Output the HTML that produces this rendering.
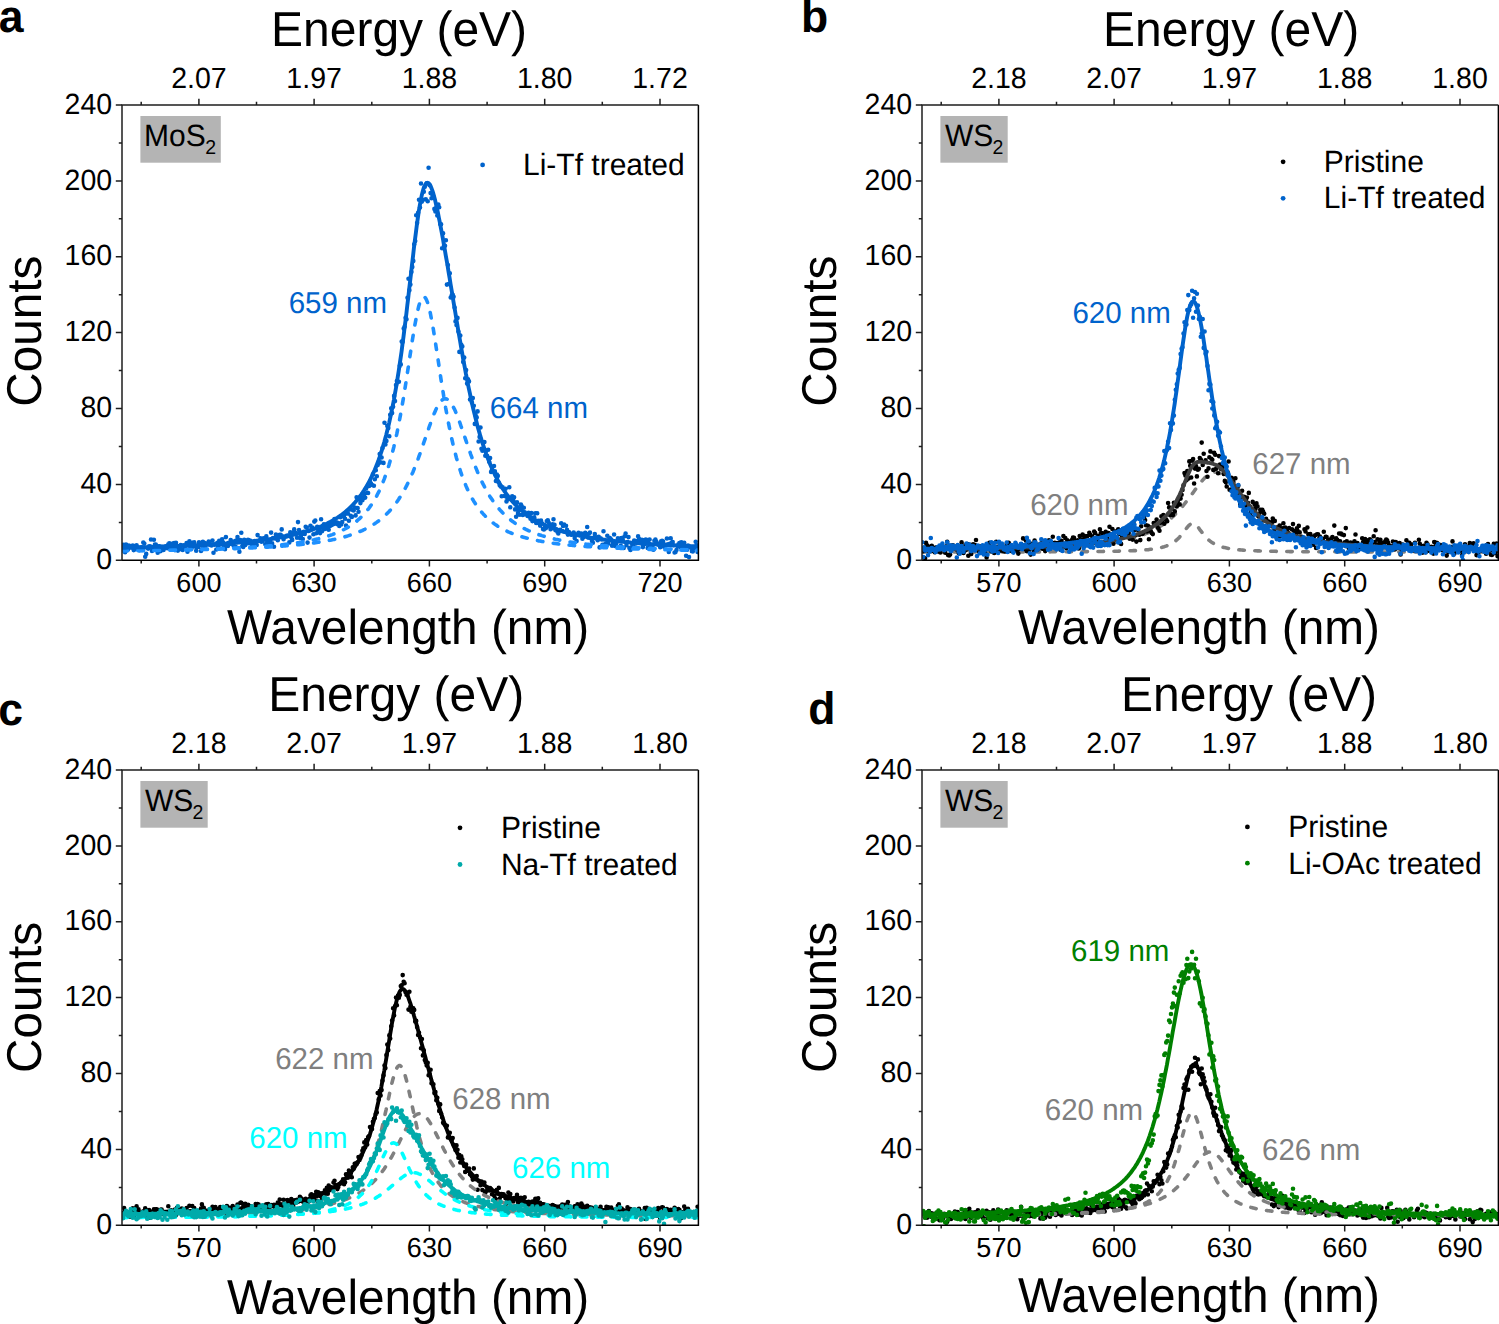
<!DOCTYPE html>
<html><head><meta charset="utf-8"><style>html,body{margin:0;padding:0;background:#fff;overflow:hidden}svg{display:block;text-rendering:geometricPrecision}</style></head><body>
<svg width="1499" height="1324" viewBox="0 0 1499 1324" font-family='"Liberation Sans", sans-serif'>
<defs>
<clipPath id="c0"><rect x="122" y="105" width="576.4" height="455.3"/></clipPath>
<clipPath id="c1"><rect x="922" y="105" width="576.4" height="455.3"/></clipPath>
<clipPath id="c2"><rect x="122" y="770" width="576.4" height="455.3"/></clipPath>
<clipPath id="c3"><rect x="922" y="770" width="576.4" height="455.3"/></clipPath>
</defs>
<g clip-path="url(#c0)"><path d="M122.2 546.5h0M123.2 544.8h0M124.1 546.5h0M125.1 552.3h0M126 544.5h0M127 546.1h0M128 549.5h0M128.9 545.5h0M129.9 546.3h0M130.8 546.5h0M131.8 547.4h0M132.8 545.6h0M133.7 550.1h0M134.7 548h0M135.6 549.1h0M136.6 545.3h0M137.6 547.2h0M138.5 548.4h0M139.5 550.1h0M140.4 548.2h0M141.4 547.3h0M142.4 548.2h0M143.3 542.6h0M144.3 543.6h0M145.2 556.8h0M146.2 553.9h0M147.2 547.7h0M148.1 548.6h0M149.1 546.3h0M150.1 546.3h0M151 539.5h0M152 550.9h0M152.9 548.3h0M153.9 539.7h0M154.9 544.6h0M155.8 544.5h0M156.8 548.7h0M157.7 552.7h0M158.7 546.2h0M159.7 546.4h0M160.6 551.1h0M161.6 549.1h0M162.5 546.9h0M163.5 550h0M164.5 547h0M165.4 546.2h0M166.4 546.4h0M167.3 548.3h0M168.3 544.3h0M169.3 543.2h0M170.2 545.3h0M171.2 549.3h0M172.1 543.7h0M173.1 548.1h0M174.1 543.1h0M175 550.1h0M176 542.9h0M177 546.2h0M177.9 550.6h0M178.9 547.2h0M179.8 545.8h0M180.8 545h0M181.8 549.5h0M182.7 549.9h0M183.7 545.2h0M184.6 547.5h0M185.6 545h0M186.6 543h0M187.5 551.7h0M188.5 544.8h0M189.4 541.2h0M190.4 546.7h0M191.4 548.5h0M192.3 542.8h0M193.3 544.5h0M194.2 542.2h0M195.2 546.6h0M196.2 550.7h0M197.1 545.7h0M198.1 546.9h0M199 542.4h0M200 544.4h0M201 551h0M201.9 549.4h0M202.9 541.8h0M203.8 542.5h0M204.8 547.2h0M205.8 544.8h0M206.7 543.2h0M207.7 543h0M208.7 541.5h0M209.6 543.7h0M210.6 544.9h0M211.5 545.5h0M212.5 540.6h0M213.5 552.7h0M214.4 544.8h0M215.4 544.2h0M216.3 549.5h0M217.3 542.9h0M218.3 546.5h0M219.2 540.9h0M220.2 544.4h0M221.1 541.4h0M222.1 539.3h0M223.1 542.4h0M224 546.9h0M225 549.2h0M225.9 537.1h0M226.9 543.9h0M227.9 546h0M228.8 542.8h0M229.8 544h0M230.7 540h0M231.7 543h0M232.7 543h0M233.6 545.7h0M234.6 541.2h0M235.6 546.7h0M236.5 540.3h0M237.5 537h0M238.4 548.3h0M239.4 551.7h0M240.4 540.1h0M241.3 532.8h0M242.3 546h0M243.2 546.9h0M244.2 539.9h0M245.2 545.1h0M246.1 543.8h0M247.1 543.1h0M248 539.7h0M249 543.1h0M250 540.5h0M250.9 542.1h0M251.9 544.5h0M252.8 542.4h0M253.8 544.7h0M254.8 541h0M255.7 545.2h0M256.7 544.9h0M257.6 535.1h0M258.6 540.8h0M259.6 540.6h0M260.5 538.4h0M261.5 541.8h0M262.4 541h0M263.4 538.3h0M264.4 538.7h0M265.3 544.2h0M266.3 536.4h0M267.3 541.7h0M268.2 543.4h0M269.2 542.7h0M270.1 540.6h0M271.1 532.6h0M272.1 543.3h0M273 538h0M274 546.8h0M274.9 538.3h0M275.9 534.6h0M276.9 538.9h0M277.8 540.3h0M278.8 536.8h0M279.7 534.8h0M280.7 534.7h0M281.7 529.4h0M282.6 536.2h0M283.6 539.2h0M284.5 537.2h0M285.5 536.8h0M286.5 535.9h0M287.4 536.2h0M288.4 535.2h0M289.3 542.4h0M290.3 532.2h0M291.3 537.6h0M292.2 539.9h0M293.2 532.3h0M294.2 529.4h0M295.1 532.5h0M296.1 533.6h0M297 537.8h0M298 522.1h0M299 530h0M299.9 538h0M300.9 536.3h0M301.8 532.5h0M302.8 539h0M303.8 531.7h0M304.7 534h0M305.7 526.8h0M306.6 527.6h0M307.6 542.6h0M308.6 530.9h0M309.5 537.6h0M310.5 525.8h0M311.4 529.5h0M312.4 527.6h0M313.4 534.2h0M314.3 521.6h0M315.3 520.5h0M316.2 533.3h0M317.2 526.9h0M318.2 531.1h0M319.1 528h0M320.1 533.1h0M321.1 519.2h0M322 531.2h0M323 528h0M323.9 524.2h0M324.9 528.9h0M325.9 526.7h0M326.8 527.8h0M327.8 525.6h0M328.7 529.8h0M329.7 526.3h0M330.7 524.9h0M331.6 525.1h0M332.6 523h0M333.5 524.1h0M334.5 519.1h0M335.5 523.5h0M336.4 522.2h0M337.4 524.2h0M338.3 523.1h0M339.3 526h0M340.3 517.3h0M341.2 524.4h0M342.2 522.1h0M343.1 516.4h0M344.1 515.6h0M345.1 518.7h0M346 525.6h0M347 513.5h0M347.9 513.5h0M348.9 520.7h0M349.9 509.5h0M350.8 515.7h0M351.8 516.9h0M352.8 510h0M353.7 510.4h0M354.7 507.5h0M355.6 515.4h0M356.6 497.2h0M357.6 508.1h0M358.5 511.7h0M359.5 499.4h0M360.4 503.1h0M361.4 498.2h0M362.4 500.2h0M363.3 497.2h0M364.3 494h0M365.2 497.6h0M366.2 488.2h0M367.2 492.7h0M368.1 493h0M369.1 485.9h0M370 481.8h0M371 483.5h0M372 485h0M372.9 474.2h0M373.9 485.8h0M374.8 479.2h0M375.8 470.3h0M376.8 476.2h0M377.7 465.1h0M378.7 462.8h0M379.7 454h0M380.6 462.4h0M381.6 457.5h0M382.5 448h0M383.5 462.9h0M384.5 422.7h0M385.4 444.4h0M386.4 440.9h0M387.3 426h0M388.3 428.1h0M389.3 436.2h0M390.2 414.7h0M391.2 408.3h0M392.1 413.1h0M393.1 406.8h0M394.1 395.9h0M395 401.1h0M396 385.1h0M396.9 381.1h0M397.9 382.1h0M398.9 381.7h0M399.8 365.7h0M400.8 364.4h0M401.7 341.6h0M402.7 341.7h0M403.7 328.6h0M404.6 326.7h0M405.6 317.7h0M406.5 319.2h0M407.5 297.7h0M408.5 278.8h0M409.4 290.3h0M410.4 284.6h0M411.4 272h0M412.3 266.9h0M413.3 260.9h0M414.2 244.3h0M415.2 240.9h0M416.2 215.3h0M417.1 223.1h0M418.1 212.8h0M419 199.8h0M420 207.5h0M421 183.5h0M421.9 201.6h0M422.9 199.8h0M423.8 191.8h0M424.8 186.7h0M425.8 199.4h0M426.7 183.4h0M427.7 201.3h0M428.6 167.8h0M429.6 185.2h0M430.6 193.1h0M431.5 198.3h0M432.5 195.2h0M433.4 196.5h0M434.4 208.9h0M435.4 211.4h0M436.3 207.5h0M437.3 215.5h0M438.3 204.5h0M439.2 207.2h0M440.2 224h0M441.1 224.3h0M442.1 248.3h0M443.1 233.2h0M444 245.5h0M445 245.8h0M445.9 240.2h0M446.9 284.6h0M447.9 265h0M448.8 284h0M449.8 273.3h0M450.7 297.5h0M451.7 295.4h0M452.7 294.7h0M453.6 296.7h0M454.6 307.6h0M455.5 321.4h0M456.5 325h0M457.5 317.9h0M458.4 331.5h0M459.4 351.9h0M460.3 335.5h0M461.3 344.8h0M462.3 346.4h0M463.2 362h0M464.2 357.6h0M465.2 378.3h0M466.1 370.1h0M467.1 383.6h0M468 379.2h0M469 381.4h0M470 399.5h0M470.9 398.7h0M471.9 402.4h0M472.8 398.1h0M473.8 405.8h0M474.8 423.9h0M475.7 415.6h0M476.7 417.4h0M477.6 411.4h0M478.6 441.5h0M479.6 436.9h0M480.5 427.5h0M481.5 448.8h0M482.4 450.8h0M483.4 442.4h0M484.4 442.1h0M485.3 455.8h0M486.3 450.7h0M487.2 456.1h0M488.2 449.8h0M489.2 461.8h0M490.1 458h0M491.1 471.9h0M492 469.7h0M493 471.3h0M494 466h0M494.9 471.3h0M495.9 481h0M496.9 474.6h0M497.8 475.9h0M498.8 482.7h0M499.7 485.2h0M500.7 486.4h0M501.7 496.3h0M502.6 487.4h0M503.6 488.6h0M504.5 496h0M505.5 488.7h0M506.5 501.4h0M507.4 498.3h0M508.4 499.1h0M509.3 487.3h0M510.3 507.3h0M511.3 497.2h0M512.2 496.4h0M513.2 500.3h0M514.1 497.3h0M515.1 509.4h0M516.1 516.8h0M517 502.4h0M518 513.1h0M518.9 509.7h0M519.9 514.8h0M520.9 504.6h0M521.8 506.4h0M522.8 514.9h0M523.8 507.8h0M524.7 512.4h0M525.7 514.3h0M526.6 514.1h0M527.6 516h0M528.6 512.9h0M529.5 515h0M530.5 518.7h0M531.4 513h0M532.4 521.1h0M533.4 517.6h0M534.3 517.5h0M535.3 513.3h0M536.2 522.9h0M537.2 513.2h0M538.2 520.8h0M539.1 523h0M540.1 525.6h0M541 520.5h0M542 523.4h0M543 528.9h0M543.9 529.5h0M544.9 527.4h0M545.8 528.3h0M546.8 521h0M547.8 520.2h0M548.7 522.8h0M549.7 525.4h0M550.6 529.2h0M551.6 527.5h0M552.6 524.3h0M553.5 519.3h0M554.5 524.9h0M555.5 530.3h0M556.4 529.3h0M557.4 531.8h0M558.3 533.4h0M559.3 531.2h0M560.3 529.9h0M561.2 523.3h0M562.2 531.1h0M563.1 525.9h0M564.1 524.5h0M565.1 531.8h0M566 525.7h0M567 529.7h0M567.9 534.6h0M568.9 532.1h0M569.9 533.3h0M570.8 534.6h0M571.8 534.7h0M572.7 533.5h0M573.7 532.6h0M574.7 538.1h0M575.6 534.8h0M576.6 541.1h0M577.5 534.1h0M578.5 532.9h0M579.5 534.9h0M580.4 534.6h0M581.4 533.6h0M582.4 538.8h0M583.3 537.3h0M584.3 534.5h0M585.2 532.7h0M586.2 535.3h0M587.2 527h0M588.1 537.6h0M589.1 533.5h0M590 532.6h0M591 538.3h0M592 541.1h0M592.9 542.7h0M593.9 537.6h0M594.8 534h0M595.8 537.5h0M596.8 538h0M597.7 540.3h0M598.7 536.8h0M599.6 547.4h0M600.6 538.3h0M601.6 539.2h0M602.5 544.8h0M603.5 531.2h0M604.4 545.1h0M605.4 544h0M606.4 544.6h0M607.3 535.8h0M608.3 543.6h0M609.3 537.8h0M610.2 538.2h0M611.2 539.6h0M612.1 545.7h0M613.1 543.1h0M614.1 534.5h0M615 545.9h0M616 544.3h0M616.9 541.8h0M617.9 538.3h0M618.9 540.5h0M619.8 538.7h0M620.8 545.7h0M621.7 538.1h0M622.7 539.7h0M623.7 547.9h0M624.6 536.2h0M625.6 533.5h0M626.5 545.1h0M627.5 542.1h0M628.5 537.1h0M629.4 548h0M630.4 550h0M631.3 547.5h0M632.3 544.8h0M633.3 544.9h0M634.2 540.6h0M635.2 541.9h0M636.1 547.6h0M637.1 541h0M638.1 536.2h0M639 538.8h0M640 539.6h0M641 543.3h0M641.9 539.8h0M642.9 547.1h0M643.8 540.8h0M644.8 544h0M645.8 539.5h0M646.7 542.1h0M647.7 547.9h0M648.6 543.4h0M649.6 539.5h0M650.6 548.2h0M651.5 546.2h0M652.5 547h0M653.4 549.7h0M654.4 540.7h0M655.4 539.5h0M656.3 541.5h0M657.3 543.6h0M658.2 544.7h0M659.2 543.7h0M660.2 547.3h0M661.1 541.4h0M662.1 540.9h0M663 541.4h0M664 546.8h0M665 544.6h0M665.9 545.5h0M666.9 538.5h0M667.9 544.4h0M668.8 551.9h0M669.8 543.7h0M670.7 538.3h0M671.7 542.7h0M672.7 542.1h0M673.6 545.2h0M674.6 552.5h0M675.5 552h0M676.5 550h0M677.5 546h0M678.4 544.4h0M679.4 543.1h0M680.3 546.9h0M681.3 542.2h0M682.3 546.7h0M683.2 548.3h0M684.2 542.7h0M685.1 549.1h0M686.1 555.7h0M687.1 549.7h0M688 545.6h0M689 557.1h0M689.9 547.3h0M690.9 547.3h0M691.9 551.2h0M692.8 551.5h0M693.8 547.9h0M694.7 548.2h0M695.7 541.7h0M696.7 545h0M697.6 552h0" fill="none" stroke="#0063cc" stroke-width="4.6" stroke-linecap="round"/><path d="M122 550.7L123 550.7 123.9 550.7 124.9 550.7 125.8 550.7 126.8 550.7 127.8 550.6 128.7 550.6 129.7 550.6 130.6 550.6 131.6 550.6 132.6 550.6 133.5 550.6 134.5 550.6 135.4 550.5 136.4 550.5 137.4 550.5 138.3 550.5 139.3 550.5 140.3 550.5 141.2 550.5 142.2 550.5 143.1 550.4 144.1 550.4 145.1 550.4 146 550.4 147 550.4 147.9 550.4 148.9 550.4 149.9 550.3 150.8 550.3 151.8 550.3 152.7 550.3 153.7 550.3 154.7 550.3 155.6 550.3 156.6 550.2 157.5 550.2 158.5 550.2 159.5 550.2 160.4 550.2 161.4 550.2 162.3 550.1 163.3 550.1 164.3 550.1 165.2 550.1 166.2 550.1 167.2 550.1 168.1 550 169.1 550 170 550 171 550 172 550 172.9 549.9 173.9 549.9 174.8 549.9 175.8 549.9 176.8 549.9 177.7 549.8 178.7 549.8 179.6 549.8 180.6 549.8 181.6 549.8 182.5 549.7 183.5 549.7 184.4 549.7 185.4 549.7 186.4 549.6 187.3 549.6 188.3 549.6 189.2 549.6 190.2 549.6 191.2 549.5 192.1 549.5 193.1 549.5 194.1 549.5 195 549.4 196 549.4 196.9 549.4 197.9 549.4 198.9 549.3 199.8 549.3 200.8 549.3 201.7 549.2 202.7 549.2 203.7 549.2 204.6 549.2 205.6 549.1 206.5 549.1 207.5 549.1 208.5 549 209.4 549 210.4 549 211.3 549 212.3 548.9 213.3 548.9 214.2 548.9 215.2 548.8 216.1 548.8 217.1 548.8 218.1 548.7 219 548.7 220 548.7 220.9 548.6 221.9 548.6 222.9 548.5 223.8 548.5 224.8 548.5 225.8 548.4 226.7 548.4 227.7 548.4 228.6 548.3 229.6 548.3 230.6 548.2 231.5 548.2 232.5 548.1 233.4 548.1 234.4 548.1 235.4 548 236.3 548 237.3 547.9 238.2 547.9 239.2 547.8 240.2 547.8 241.1 547.7 242.1 547.7 243 547.6 244 547.6 245 547.5 245.9 547.5 246.9 547.4 247.8 547.4 248.8 547.3 249.8 547.3 250.7 547.2 251.7 547.2 252.7 547.1 253.6 547 254.6 547 255.5 546.9 256.5 546.8 257.5 546.8 258.4 546.7 259.4 546.7 260.3 546.6 261.3 546.5 262.3 546.4 263.2 546.4 264.2 546.3 265.1 546.2 266.1 546.2 267.1 546.1 268 546 269 545.9 269.9 545.8 270.9 545.8 271.9 545.7 272.8 545.6 273.8 545.5 274.7 545.4 275.7 545.3 276.7 545.2 277.6 545.2 278.6 545.1 279.5 545 280.5 544.9 281.5 544.8 282.4 544.7 283.4 544.6 284.4 544.5 285.3 544.3 286.3 544.2 287.2 544.1 288.2 544 289.2 543.9 290.1 543.8 291.1 543.7 292 543.5 293 543.4 294 543.3 294.9 543.1 295.9 543 296.8 542.9 297.8 542.7 298.8 542.6 299.7 542.4 300.7 542.3 301.6 542.1 302.6 542 303.6 541.8 304.5 541.6 305.5 541.5 306.4 541.3 307.4 541.1 308.4 540.9 309.3 540.8 310.3 540.6 311.3 540.4 312.2 540.2 313.2 540 314.1 539.8 315.1 539.5 316.1 539.3 317 539.1 318 538.9 318.9 538.6 319.9 538.4 320.9 538.1 321.8 537.9 322.8 537.6 323.7 537.3 324.7 537.1 325.7 536.8 326.6 536.5 327.6 536.2 328.5 535.9 329.5 535.6 330.5 535.2 331.4 534.9 332.4 534.6 333.3 534.2 334.3 533.8 335.3 533.5 336.2 533.1 337.2 532.7 338.1 532.3 339.1 531.8 340.1 531.4 341 530.9 342 530.5 343 530 343.9 529.5 344.9 529 345.8 528.5 346.8 527.9 347.8 527.4 348.7 526.8 349.7 526.2 350.6 525.5 351.6 524.9 352.6 524.2 353.5 523.5 354.5 522.8 355.4 522.1 356.4 521.3 357.4 520.5 358.3 519.7 359.3 518.9 360.2 518 361.2 517 362.2 516.1 363.1 515.1 364.1 514.1 365 513 366 511.9 367 510.7 367.9 509.5 368.9 508.3 369.9 506.9 370.8 505.6 371.8 504.2 372.7 502.7 373.7 501.1 374.7 499.5 375.6 497.9 376.6 496.1 377.5 494.3 378.5 492.4 379.5 490.4 380.4 488.3 381.4 486.1 382.3 483.8 383.3 481.4 384.3 478.9 385.2 476.3 386.2 473.6 387.1 470.7 388.1 467.8 389.1 464.6 390 461.4 391 457.9 391.9 454.4 392.9 450.6 393.9 446.7 394.8 442.6 395.8 438.4 396.8 433.9 397.7 429.3 398.7 424.5 399.6 419.5 400.6 414.3 401.6 409 402.5 403.4 403.5 397.7 404.4 391.8 405.4 385.8 406.4 379.7 407.3 373.4 408.3 367.1 409.2 360.7 410.2 354.4 411.2 348 412.1 341.8 413.1 335.8 414 329.9 415 324.3 416 319.1 416.9 314.2 417.9 309.9 418.8 306 419.8 302.8 420.8 300.2 421.7 298.3 422.7 297.1 423.6 296.7 424.6 297 425.6 298.1 426.5 299.8 427.5 302.3 428.5 305.5 429.4 309.2 430.4 313.5 431.3 318.3 432.3 323.5 433.3 329 434.2 334.8 435.2 340.9 436.1 347.1 437.1 353.4 438.1 359.7 439 366.1 440 372.4 440.9 378.7 441.9 384.8 442.9 390.9 443.8 396.8 444.8 402.5 445.7 408.1 446.7 413.5 447.7 418.7 448.6 423.7 449.6 428.6 450.5 433.2 451.5 437.7 452.5 442 453.4 446.1 454.4 450 455.4 453.8 456.3 457.4 457.3 460.8 458.2 464.1 459.2 467.3 460.2 470.3 461.1 473.2 462.1 475.9 463 478.5 464 481 465 483.4 465.9 485.7 466.9 487.9 467.8 490 468.8 492.1 469.8 494 470.7 495.8 471.7 497.6 472.6 499.3 473.6 500.9 474.6 502.4 475.5 503.9 476.5 505.4 477.4 506.7 478.4 508.1 479.4 509.3 480.3 510.5 481.3 511.7 482.2 512.8 483.2 513.9 484.2 514.9 485.1 515.9 486.1 516.9 487.1 517.8 488 518.7 489 519.6 489.9 520.4 490.9 521.2 491.9 522 492.8 522.7 493.8 523.4 494.7 524.1 495.7 524.8 496.7 525.4 497.6 526.1 498.6 526.7 499.5 527.3 500.5 527.8 501.5 528.4 502.4 528.9 503.4 529.4 504.3 529.9 505.3 530.4 506.3 530.9 507.2 531.3 508.2 531.8 509.1 532.2 510.1 532.6 511.1 533 512 533.4 513 533.8 514 534.1 514.9 534.5 515.9 534.8 516.8 535.2 517.8 535.5 518.8 535.8 519.7 536.1 520.7 536.4 521.6 536.7 522.6 537 523.6 537.3 524.5 537.6 525.5 537.8 526.4 538.1 527.4 538.3 528.4 538.6 529.3 538.8 530.3 539.1 531.2 539.3 532.2 539.5 533.2 539.7 534.1 539.9 535.1 540.1 536 540.3 537 540.5 538 540.7 538.9 540.9 539.9 541.1 540.9 541.3 541.8 541.4 542.8 541.6 543.7 541.8 544.7 541.9 545.7 542.1 546.6 542.3 547.6 542.4 548.5 542.6 549.5 542.7 550.5 542.8 551.4 543 552.4 543.1 553.3 543.2 554.3 543.4 555.3 543.5 556.2 543.6 557.2 543.8 558.1 543.9 559.1 544 560.1 544.1 561 544.2 562 544.3 562.9 544.4 563.9 544.5 564.9 544.6 565.8 544.8 566.8 544.9 567.7 544.9 568.7 545 569.7 545.1 570.6 545.2 571.6 545.3 572.6 545.4 573.5 545.5 574.5 545.6 575.4 545.7 576.4 545.8 577.4 545.8 578.3 545.9 579.3 546 580.2 546.1 581.2 546.1 582.2 546.2 583.1 546.3 584.1 546.4 585 546.4 586 546.5 587 546.6 587.9 546.6 588.9 546.7 589.8 546.8 590.8 546.8 591.8 546.9 592.7 547 593.7 547 594.6 547.1 595.6 547.1 596.6 547.2 597.5 547.3 598.5 547.3 599.5 547.4 600.4 547.4 601.4 547.5 602.3 547.5 603.3 547.6 604.3 547.6 605.2 547.7 606.2 547.7 607.1 547.8 608.1 547.8 609.1 547.9 610 547.9 611 548 611.9 548 612.9 548.1 613.9 548.1 614.8 548.1 615.8 548.2 616.7 548.2 617.7 548.3 618.7 548.3 619.6 548.3 620.6 548.4 621.5 548.4 622.5 548.5 623.5 548.5 624.4 548.5 625.4 548.6 626.3 548.6 627.3 548.6 628.3 548.7 629.2 548.7 630.2 548.8 631.2 548.8 632.1 548.8 633.1 548.9 634 548.9 635 548.9 636 548.9 636.9 549 637.9 549 638.8 549 639.8 549.1 640.8 549.1 641.7 549.1 642.7 549.2 643.6 549.2 644.6 549.2 645.6 549.2 646.5 549.3 647.5 549.3 648.4 549.3 649.4 549.4 650.4 549.4 651.3 549.4 652.3 549.4 653.2 549.5 654.2 549.5 655.2 549.5 656.1 549.5 657.1 549.6 658.1 549.6 659 549.6 660 549.6 660.9 549.6 661.9 549.7 662.9 549.7 663.8 549.7 664.8 549.7 665.7 549.8 666.7 549.8 667.7 549.8 668.6 549.8 669.6 549.8 670.5 549.9 671.5 549.9 672.5 549.9 673.4 549.9 674.4 549.9 675.3 550 676.3 550 677.3 550 678.2 550 679.2 550 680.1 550 681.1 550.1 682.1 550.1 683 550.1 684 550.1 685 550.1 685.9 550.2 686.9 550.2 687.8 550.2 688.8 550.2 689.8 550.2 690.7 550.2 691.7 550.2 692.6 550.3 693.6 550.3 694.6 550.3 695.5 550.3 696.5 550.3 697.4 550.3 698.4 550.4" fill="none" stroke="#1e90ff" stroke-width="3.6" stroke-dasharray="5.5 10.5" stroke-linecap="round" stroke-linejoin="round"/><path d="M122 550.8L123 550.8 123.9 550.8 124.9 550.8 125.8 550.8 126.8 550.7 127.8 550.7 128.7 550.7 129.7 550.7 130.6 550.7 131.6 550.7 132.6 550.7 133.5 550.7 134.5 550.7 135.4 550.7 136.4 550.6 137.4 550.6 138.3 550.6 139.3 550.6 140.3 550.6 141.2 550.6 142.2 550.6 143.1 550.6 144.1 550.5 145.1 550.5 146 550.5 147 550.5 147.9 550.5 148.9 550.5 149.9 550.5 150.8 550.5 151.8 550.4 152.7 550.4 153.7 550.4 154.7 550.4 155.6 550.4 156.6 550.4 157.5 550.4 158.5 550.4 159.5 550.3 160.4 550.3 161.4 550.3 162.3 550.3 163.3 550.3 164.3 550.3 165.2 550.3 166.2 550.2 167.2 550.2 168.1 550.2 169.1 550.2 170 550.2 171 550.2 172 550.1 172.9 550.1 173.9 550.1 174.8 550.1 175.8 550.1 176.8 550.1 177.7 550 178.7 550 179.6 550 180.6 550 181.6 550 182.5 550 183.5 549.9 184.4 549.9 185.4 549.9 186.4 549.9 187.3 549.9 188.3 549.8 189.2 549.8 190.2 549.8 191.2 549.8 192.1 549.8 193.1 549.7 194.1 549.7 195 549.7 196 549.7 196.9 549.7 197.9 549.6 198.9 549.6 199.8 549.6 200.8 549.6 201.7 549.6 202.7 549.5 203.7 549.5 204.6 549.5 205.6 549.5 206.5 549.4 207.5 549.4 208.5 549.4 209.4 549.4 210.4 549.3 211.3 549.3 212.3 549.3 213.3 549.3 214.2 549.2 215.2 549.2 216.1 549.2 217.1 549.2 218.1 549.1 219 549.1 220 549.1 220.9 549 221.9 549 222.9 549 223.8 549 224.8 548.9 225.8 548.9 226.7 548.9 227.7 548.8 228.6 548.8 229.6 548.8 230.6 548.7 231.5 548.7 232.5 548.7 233.4 548.6 234.4 548.6 235.4 548.6 236.3 548.5 237.3 548.5 238.2 548.5 239.2 548.4 240.2 548.4 241.1 548.4 242.1 548.3 243 548.3 244 548.2 245 548.2 245.9 548.2 246.9 548.1 247.8 548.1 248.8 548 249.8 548 250.7 547.9 251.7 547.9 252.7 547.9 253.6 547.8 254.6 547.8 255.5 547.7 256.5 547.7 257.5 547.6 258.4 547.6 259.4 547.5 260.3 547.5 261.3 547.4 262.3 547.4 263.2 547.3 264.2 547.3 265.1 547.2 266.1 547.2 267.1 547.1 268 547.1 269 547 269.9 546.9 270.9 546.9 271.9 546.8 272.8 546.8 273.8 546.7 274.7 546.6 275.7 546.6 276.7 546.5 277.6 546.4 278.6 546.4 279.5 546.3 280.5 546.2 281.5 546.2 282.4 546.1 283.4 546 284.4 545.9 285.3 545.9 286.3 545.8 287.2 545.7 288.2 545.6 289.2 545.6 290.1 545.5 291.1 545.4 292 545.3 293 545.2 294 545.1 294.9 545 295.9 545 296.8 544.9 297.8 544.8 298.8 544.7 299.7 544.6 300.7 544.5 301.6 544.4 302.6 544.3 303.6 544.2 304.5 544.1 305.5 543.9 306.4 543.8 307.4 543.7 308.4 543.6 309.3 543.5 310.3 543.4 311.3 543.2 312.2 543.1 313.2 543 314.1 542.9 315.1 542.7 316.1 542.6 317 542.4 318 542.3 318.9 542.2 319.9 542 320.9 541.9 321.8 541.7 322.8 541.5 323.7 541.4 324.7 541.2 325.7 541.1 326.6 540.9 327.6 540.7 328.5 540.5 329.5 540.3 330.5 540.2 331.4 540 332.4 539.8 333.3 539.6 334.3 539.4 335.3 539.2 336.2 538.9 337.2 538.7 338.1 538.5 339.1 538.3 340.1 538 341 537.8 342 537.5 343 537.3 343.9 537 344.9 536.8 345.8 536.5 346.8 536.2 347.8 535.9 348.7 535.6 349.7 535.3 350.6 535 351.6 534.7 352.6 534.4 353.5 534 354.5 533.7 355.4 533.3 356.4 533 357.4 532.6 358.3 532.2 359.3 531.8 360.2 531.4 361.2 531 362.2 530.6 363.1 530.1 364.1 529.7 365 529.2 366 528.7 367 528.2 367.9 527.7 368.9 527.2 369.9 526.7 370.8 526.1 371.8 525.5 372.7 524.9 373.7 524.3 374.7 523.7 375.6 523.1 376.6 522.4 377.5 521.7 378.5 521 379.5 520.3 380.4 519.5 381.4 518.7 382.3 517.9 383.3 517.1 384.3 516.2 385.2 515.4 386.2 514.4 387.1 513.5 388.1 512.5 389.1 511.5 390 510.5 391 509.4 391.9 508.3 392.9 507.1 393.9 505.9 394.8 504.7 395.8 503.4 396.8 502.1 397.7 500.7 398.7 499.3 399.6 497.8 400.6 496.3 401.6 494.8 402.5 493.2 403.5 491.5 404.4 489.8 405.4 488 406.4 486.2 407.3 484.3 408.3 482.3 409.2 480.3 410.2 478.2 411.2 476.1 412.1 473.9 413.1 471.7 414 469.3 415 467 416 464.5 416.9 462 417.9 459.5 418.8 456.9 419.8 454.2 420.8 451.5 421.7 448.8 422.7 446 423.6 443.2 424.6 440.4 425.6 437.5 426.5 434.7 427.5 431.9 428.5 429.1 429.4 426.3 430.4 423.6 431.3 420.9 432.3 418.3 433.3 415.9 434.2 413.5 435.2 411.2 436.1 409.1 437.1 407.1 438.1 405.3 439 403.7 440 402.3 440.9 401.2 441.9 400.2 442.9 399.5 443.8 399 444.8 398.7 445.7 398.7 446.7 399 447.7 399.5 448.6 400.2 449.6 401.2 450.5 402.4 451.5 403.8 452.5 405.4 453.4 407.2 454.4 409.1 455.4 411.3 456.3 413.5 457.3 415.9 458.2 418.4 459.2 421 460.2 423.7 461.1 426.4 462.1 429.1 463 431.9 464 434.8 465 437.6 465.9 440.4 466.9 443.3 467.8 446.1 468.8 448.8 469.8 451.6 470.7 454.3 471.7 456.9 472.6 459.5 473.6 462.1 474.6 464.6 475.5 467 476.5 469.4 477.4 471.7 478.4 474 479.4 476.2 480.3 478.3 481.3 480.4 482.2 482.4 483.2 484.3 484.2 486.2 485.1 488.1 486.1 489.8 487.1 491.5 488 493.2 489 494.8 489.9 496.4 490.9 497.9 491.9 499.3 492.8 500.8 493.8 502.1 494.7 503.4 495.7 504.7 496.7 505.9 497.6 507.1 498.6 508.3 499.5 509.4 500.5 510.5 501.5 511.5 502.4 512.5 503.4 513.5 504.3 514.5 505.3 515.4 506.3 516.3 507.2 517.1 508.2 517.9 509.1 518.8 510.1 519.5 511.1 520.3 512 521 513 521.7 514 522.4 514.9 523.1 515.9 523.7 516.8 524.4 517.8 525 518.8 525.5 519.7 526.1 520.7 526.7 521.6 527.2 522.6 527.7 523.6 528.2 524.5 528.7 525.5 529.2 526.4 529.7 527.4 530.1 528.4 530.6 529.3 531 530.3 531.4 531.2 531.8 532.2 532.2 533.2 532.6 534.1 533 535.1 533.3 536 533.7 537 534 538 534.4 538.9 534.7 539.9 535 540.9 535.3 541.8 535.6 542.8 535.9 543.7 536.2 544.7 536.5 545.7 536.8 546.6 537 547.6 537.3 548.5 537.5 549.5 537.8 550.5 538 551.4 538.3 552.4 538.5 553.3 538.7 554.3 538.9 555.3 539.2 556.2 539.4 557.2 539.6 558.1 539.8 559.1 540 560.1 540.2 561 540.4 562 540.5 562.9 540.7 563.9 540.9 564.9 541.1 565.8 541.2 566.8 541.4 567.7 541.6 568.7 541.7 569.7 541.9 570.6 542 571.6 542.2 572.6 542.3 573.5 542.4 574.5 542.6 575.4 542.7 576.4 542.9 577.4 543 578.3 543.1 579.3 543.2 580.2 543.4 581.2 543.5 582.2 543.6 583.1 543.7 584.1 543.8 585 543.9 586 544.1 587 544.2 587.9 544.3 588.9 544.4 589.8 544.5 590.8 544.6 591.8 544.7 592.7 544.8 593.7 544.9 594.6 545 595.6 545 596.6 545.1 597.5 545.2 598.5 545.3 599.5 545.4 600.4 545.5 601.4 545.6 602.3 545.6 603.3 545.7 604.3 545.8 605.2 545.9 606.2 545.9 607.1 546 608.1 546.1 609.1 546.2 610 546.2 611 546.3 611.9 546.4 612.9 546.4 613.9 546.5 614.8 546.6 615.8 546.6 616.7 546.7 617.7 546.8 618.7 546.8 619.6 546.9 620.6 546.9 621.5 547 622.5 547.1 623.5 547.1 624.4 547.2 625.4 547.2 626.3 547.3 627.3 547.3 628.3 547.4 629.2 547.4 630.2 547.5 631.2 547.5 632.1 547.6 633.1 547.6 634 547.7 635 547.7 636 547.8 636.9 547.8 637.9 547.9 638.8 547.9 639.8 547.9 640.8 548 641.7 548 642.7 548.1 643.6 548.1 644.6 548.2 645.6 548.2 646.5 548.2 647.5 548.3 648.4 548.3 649.4 548.4 650.4 548.4 651.3 548.4 652.3 548.5 653.2 548.5 654.2 548.5 655.2 548.6 656.1 548.6 657.1 548.6 658.1 548.7 659 548.7 660 548.7 660.9 548.8 661.9 548.8 662.9 548.8 663.8 548.9 664.8 548.9 665.7 548.9 666.7 549 667.7 549 668.6 549 669.6 549 670.5 549.1 671.5 549.1 672.5 549.1 673.4 549.2 674.4 549.2 675.3 549.2 676.3 549.2 677.3 549.3 678.2 549.3 679.2 549.3 680.1 549.3 681.1 549.4 682.1 549.4 683 549.4 684 549.4 685 549.5 685.9 549.5 686.9 549.5 687.8 549.5 688.8 549.6 689.8 549.6 690.7 549.6 691.7 549.6 692.6 549.6 693.6 549.7 694.6 549.7 695.5 549.7 696.5 549.7 697.4 549.7 698.4 549.8" fill="none" stroke="#1e90ff" stroke-width="3.6" stroke-dasharray="5.5 10.5" stroke-linecap="round" stroke-linejoin="round"/><path d="M122 547.7L123 547.7 123.9 547.7 124.9 547.7 125.8 547.7 126.8 547.6 127.8 547.6 128.7 547.6 129.7 547.6 130.6 547.5 131.6 547.5 132.6 547.5 133.5 547.5 134.5 547.5 135.4 547.4 136.4 547.4 137.4 547.4 138.3 547.4 139.3 547.3 140.3 547.3 141.2 547.3 142.2 547.3 143.1 547.2 144.1 547.2 145.1 547.2 146 547.2 147 547.1 147.9 547.1 148.9 547.1 149.9 547 150.8 547 151.8 547 152.7 547 153.7 546.9 154.7 546.9 155.6 546.9 156.6 546.9 157.5 546.8 158.5 546.8 159.5 546.8 160.4 546.7 161.4 546.7 162.3 546.7 163.3 546.6 164.3 546.6 165.2 546.6 166.2 546.5 167.2 546.5 168.1 546.5 169.1 546.4 170 546.4 171 546.4 172 546.3 172.9 546.3 173.9 546.3 174.8 546.2 175.8 546.2 176.8 546.2 177.7 546.1 178.7 546.1 179.6 546 180.6 546 181.6 546 182.5 545.9 183.5 545.9 184.4 545.9 185.4 545.8 186.4 545.8 187.3 545.7 188.3 545.7 189.2 545.6 190.2 545.6 191.2 545.6 192.1 545.5 193.1 545.5 194.1 545.4 195 545.4 196 545.3 196.9 545.3 197.9 545.2 198.9 545.2 199.8 545.1 200.8 545.1 201.7 545 202.7 545 203.7 544.9 204.6 544.9 205.6 544.8 206.5 544.8 207.5 544.7 208.5 544.7 209.4 544.6 210.4 544.6 211.3 544.5 212.3 544.5 213.3 544.4 214.2 544.3 215.2 544.3 216.1 544.2 217.1 544.2 218.1 544.1 219 544 220 544 220.9 543.9 221.9 543.9 222.9 543.8 223.8 543.7 224.8 543.7 225.8 543.6 226.7 543.5 227.7 543.4 228.6 543.4 229.6 543.3 230.6 543.2 231.5 543.2 232.5 543.1 233.4 543 234.4 542.9 235.4 542.8 236.3 542.8 237.3 542.7 238.2 542.6 239.2 542.5 240.2 542.4 241.1 542.4 242.1 542.3 243 542.2 244 542.1 245 542 245.9 541.9 246.9 541.8 247.8 541.7 248.8 541.6 249.8 541.5 250.7 541.4 251.7 541.3 252.7 541.2 253.6 541.1 254.6 541 255.5 540.9 256.5 540.8 257.5 540.7 258.4 540.6 259.4 540.5 260.3 540.3 261.3 540.2 262.3 540.1 263.2 540 264.2 539.9 265.1 539.7 266.1 539.6 267.1 539.5 268 539.3 269 539.2 269.9 539.1 270.9 538.9 271.9 538.8 272.8 538.6 273.8 538.5 274.7 538.4 275.7 538.2 276.7 538 277.6 537.9 278.6 537.7 279.5 537.6 280.5 537.4 281.5 537.2 282.4 537.1 283.4 536.9 284.4 536.7 285.3 536.5 286.3 536.3 287.2 536.1 288.2 536 289.2 535.8 290.1 535.6 291.1 535.4 292 535.1 293 534.9 294 534.7 294.9 534.5 295.9 534.3 296.8 534 297.8 533.8 298.8 533.6 299.7 533.3 300.7 533.1 301.6 532.8 302.6 532.6 303.6 532.3 304.5 532 305.5 531.7 306.4 531.5 307.4 531.2 308.4 530.9 309.3 530.6 310.3 530.3 311.3 530 312.2 529.6 313.2 529.3 314.1 529 315.1 528.6 316.1 528.3 317 527.9 318 527.5 318.9 527.1 319.9 526.8 320.9 526.4 321.8 526 322.8 525.5 323.7 525.1 324.7 524.7 325.7 524.2 326.6 523.8 327.6 523.3 328.5 522.8 329.5 522.3 330.5 521.8 331.4 521.3 332.4 520.7 333.3 520.2 334.3 519.6 335.3 519 336.2 518.4 337.2 517.8 338.1 517.2 339.1 516.5 340.1 515.9 341 515.2 342 514.5 343 513.7 343.9 513 344.9 512.2 345.8 511.4 346.8 510.6 347.8 509.8 348.7 508.9 349.7 508 350.6 507.1 351.6 506.1 352.6 505.1 353.5 504.1 354.5 503 355.4 502 356.4 500.8 357.4 499.7 358.3 498.5 359.3 497.2 360.2 495.9 361.2 494.6 362.2 493.2 363.1 491.8 364.1 490.3 365 488.8 366 487.2 367 485.6 367.9 483.9 368.9 482.1 369.9 480.3 370.8 478.4 371.8 476.4 372.7 474.3 373.7 472.2 374.7 470 375.6 467.7 376.6 465.3 377.5 462.8 378.5 460.2 379.5 457.4 380.4 454.6 381.4 451.7 382.3 448.6 383.3 445.4 384.3 442.1 385.2 438.6 386.2 435 387.1 431.2 388.1 427.3 389.1 423.1 390 418.9 391 414.4 391.9 409.7 392.9 404.9 393.9 399.8 394.8 394.5 395.8 389 396.8 383.3 397.7 377.3 398.7 371.1 399.6 364.7 400.6 358.1 401.6 351.2 402.5 344.1 403.5 336.7 404.4 329.2 405.4 321.4 406.4 313.5 407.3 305.4 408.3 297.2 409.2 288.9 410.2 280.5 411.2 272.1 412.1 263.7 413.1 255.4 414 247.3 415 239.4 416 231.7 416.9 224.5 417.9 217.6 418.8 211.2 419.8 205.3 420.8 200.1 421.7 195.5 422.7 191.6 423.6 188.3 424.6 185.9 425.6 184.1 426.5 183.1 427.5 182.8 428.5 183.1 429.4 184.1 430.4 185.6 431.3 187.8 432.3 190.4 433.3 193.4 434.2 196.8 435.2 200.6 436.1 204.7 437.1 209 438.1 213.5 439 218.3 440 223.2 440.9 228.2 441.9 233.4 442.9 238.7 443.8 244.1 444.8 249.6 445.7 255.1 446.7 260.7 447.7 266.4 448.6 272.1 449.6 277.9 450.5 283.7 451.5 289.6 452.5 295.4 453.4 301.3 454.4 307.1 455.4 313 456.3 318.8 457.3 324.6 458.2 330.3 459.2 336 460.2 341.7 461.1 347.2 462.1 352.7 463 358.1 464 363.4 465 368.6 465.9 373.7 466.9 378.7 467.8 383.5 468.8 388.3 469.8 392.9 470.7 397.4 471.7 401.8 472.6 406.1 473.6 410.2 474.6 414.2 475.5 418.1 476.5 421.9 477.4 425.6 478.4 429.1 479.4 432.6 480.3 435.9 481.3 439.1 482.2 442.2 483.2 445.2 484.2 448.1 485.1 450.9 486.1 453.7 487.1 456.3 488 458.8 489 461.3 489.9 463.6 490.9 465.9 491.9 468.1 492.8 470.3 493.8 472.3 494.7 474.3 495.7 476.3 496.7 478.1 497.6 479.9 498.6 481.7 499.5 483.4 500.5 485 501.5 486.6 502.4 488.1 503.4 489.6 504.3 491 505.3 492.4 506.3 493.8 507.2 495.1 508.2 496.3 509.1 497.5 510.1 498.7 511.1 499.9 512 501 513 502.1 514 503.1 514.9 504.1 515.9 505.1 516.8 506.1 517.8 507 518.8 507.9 519.7 508.8 520.7 509.6 521.6 510.5 522.6 511.3 523.6 512 524.5 512.8 525.5 513.5 526.4 514.3 527.4 514.9 528.4 515.6 529.3 516.3 530.3 516.9 531.2 517.6 532.2 518.2 533.2 518.8 534.1 519.3 535.1 519.9 536 520.5 537 521 538 521.5 538.9 522 539.9 522.5 540.9 523 541.8 523.5 542.8 523.9 543.7 524.4 544.7 524.8 545.7 525.3 546.6 525.7 547.6 526.1 548.5 526.5 549.5 526.9 550.5 527.3 551.4 527.6 552.4 528 553.3 528.3 554.3 528.7 555.3 529 556.2 529.4 557.2 529.7 558.1 530 559.1 530.3 560.1 530.6 561 530.9 562 531.2 562.9 531.5 563.9 531.8 564.9 532.1 565.8 532.3 566.8 532.6 567.7 532.8 568.7 533.1 569.7 533.3 570.6 533.6 571.6 533.8 572.6 534 573.5 534.3 574.5 534.5 575.4 534.7 576.4 534.9 577.4 535.1 578.3 535.4 579.3 535.6 580.2 535.8 581.2 535.9 582.2 536.1 583.1 536.3 584.1 536.5 585 536.7 586 536.9 587 537 587.9 537.2 588.9 537.4 589.8 537.6 590.8 537.7 591.8 537.9 592.7 538 593.7 538.2 594.6 538.3 595.6 538.5 596.6 538.6 597.5 538.8 598.5 538.9 599.5 539.1 600.4 539.2 601.4 539.3 602.3 539.5 603.3 539.6 604.3 539.7 605.2 539.8 606.2 540 607.1 540.1 608.1 540.2 609.1 540.3 610 540.4 611 540.6 611.9 540.7 612.9 540.8 613.9 540.9 614.8 541 615.8 541.1 616.7 541.2 617.7 541.3 618.7 541.4 619.6 541.5 620.6 541.6 621.5 541.7 622.5 541.8 623.5 541.9 624.4 542 625.4 542.1 626.3 542.2 627.3 542.2 628.3 542.3 629.2 542.4 630.2 542.5 631.2 542.6 632.1 542.7 633.1 542.7 634 542.8 635 542.9 636 543 636.9 543.1 637.9 543.1 638.8 543.2 639.8 543.3 640.8 543.4 641.7 543.4 642.7 543.5 643.6 543.6 644.6 543.6 645.6 543.7 646.5 543.8 647.5 543.8 648.4 543.9 649.4 544 650.4 544 651.3 544.1 652.3 544.1 653.2 544.2 654.2 544.3 655.2 544.3 656.1 544.4 657.1 544.4 658.1 544.5 659 544.6 660 544.6 660.9 544.7 661.9 544.7 662.9 544.8 663.8 544.8 664.8 544.9 665.7 544.9 666.7 545 667.7 545 668.6 545.1 669.6 545.1 670.5 545.2 671.5 545.2 672.5 545.3 673.4 545.3 674.4 545.4 675.3 545.4 676.3 545.5 677.3 545.5 678.2 545.5 679.2 545.6 680.1 545.6 681.1 545.7 682.1 545.7 683 545.8 684 545.8 685 545.8 685.9 545.9 686.9 545.9 687.8 546 688.8 546 689.8 546 690.7 546.1 691.7 546.1 692.6 546.1 693.6 546.2 694.6 546.2 695.5 546.3 696.5 546.3 697.4 546.3 698.4 546.4" fill="none" stroke="#0063cc" stroke-width="3.9" stroke-linejoin="round"/></g>
<g clip-path="url(#c1)"><path d="M922 552L923 552 923.9 552 924.9 552 925.8 552 926.8 552 927.8 552 928.7 552 929.7 552 930.6 552 931.6 552 932.6 552 933.5 552 934.5 552 935.4 552 936.4 552 937.4 552 938.3 552 939.3 552 940.3 552 941.2 552 942.2 552 943.1 552 944.1 552 945.1 552 946 552 947 552 947.9 552 948.9 552 949.9 552 950.8 552 951.8 552 952.7 552 953.7 552 954.7 552 955.6 552 956.6 552 957.5 552 958.5 552 959.5 552 960.4 552 961.4 552 962.3 552 963.3 552 964.3 552 965.2 552 966.2 552 967.2 552 968.1 552 969.1 552 970 552 971 552 972 552 972.9 552 973.9 552 974.8 552 975.8 552 976.8 552 977.7 552 978.7 552 979.6 552 980.6 552 981.6 552 982.5 552 983.5 552 984.4 552 985.4 552 986.4 552 987.3 552 988.3 552 989.2 552 990.2 552 991.2 552 992.1 552 993.1 552 994 552 995 552 996 552 996.9 552 997.9 552 998.9 552 999.8 552 1000.8 552 1001.7 552 1002.7 552 1003.7 552 1004.6 552 1005.6 552 1006.5 552 1007.5 552 1008.5 552 1009.4 552 1010.4 552 1011.3 551.9 1012.3 551.9 1013.3 551.9 1014.2 551.9 1015.2 551.9 1016.1 551.9 1017.1 551.9 1018.1 551.9 1019 551.9 1020 551.9 1020.9 551.9 1021.9 551.9 1022.9 551.9 1023.8 551.9 1024.8 551.9 1025.8 551.9 1026.7 551.9 1027.7 551.9 1028.6 551.9 1029.6 551.9 1030.6 551.9 1031.5 551.9 1032.5 551.9 1033.4 551.9 1034.4 551.9 1035.4 551.9 1036.3 551.9 1037.3 551.9 1038.2 551.9 1039.2 551.9 1040.2 551.9 1041.1 551.9 1042.1 551.9 1043 551.9 1044 551.9 1045 551.9 1045.9 551.9 1046.9 551.9 1047.8 551.9 1048.8 551.9 1049.8 551.9 1050.7 551.8 1051.7 551.8 1052.7 551.8 1053.6 551.8 1054.6 551.8 1055.5 551.8 1056.5 551.8 1057.5 551.8 1058.4 551.8 1059.4 551.8 1060.3 551.8 1061.3 551.8 1062.3 551.8 1063.2 551.8 1064.2 551.8 1065.1 551.8 1066.1 551.8 1067.1 551.8 1068 551.8 1069 551.8 1069.9 551.8 1070.9 551.8 1071.9 551.7 1072.8 551.7 1073.8 551.7 1074.7 551.7 1075.7 551.7 1076.7 551.7 1077.6 551.7 1078.6 551.7 1079.5 551.7 1080.5 551.7 1081.5 551.7 1082.4 551.7 1083.4 551.7 1084.4 551.7 1085.3 551.6 1086.3 551.6 1087.2 551.6 1088.2 551.6 1089.2 551.6 1090.1 551.6 1091.1 551.6 1092 551.6 1093 551.6 1094 551.6 1094.9 551.6 1095.9 551.5 1096.8 551.5 1097.8 551.5 1098.8 551.5 1099.7 551.5 1100.7 551.5 1101.6 551.5 1102.6 551.5 1103.6 551.4 1104.5 551.4 1105.5 551.4 1106.4 551.4 1107.4 551.4 1108.4 551.4 1109.3 551.4 1110.3 551.3 1111.3 551.3 1112.2 551.3 1113.2 551.3 1114.1 551.3 1115.1 551.2 1116.1 551.2 1117 551.2 1118 551.2 1118.9 551.1 1119.9 551.1 1120.9 551.1 1121.8 551.1 1122.8 551 1123.7 551 1124.7 551 1125.7 551 1126.6 550.9 1127.6 550.9 1128.5 550.9 1129.5 550.8 1130.5 550.8 1131.4 550.7 1132.4 550.7 1133.3 550.6 1134.3 550.6 1135.3 550.6 1136.2 550.5 1137.2 550.5 1138.2 550.4 1139.1 550.3 1140.1 550.3 1141 550.2 1142 550.1 1143 550.1 1143.9 550 1144.9 549.9 1145.8 549.8 1146.8 549.7 1147.8 549.7 1148.7 549.6 1149.7 549.4 1150.6 549.3 1151.6 549.2 1152.6 549.1 1153.5 549 1154.5 548.8 1155.4 548.7 1156.4 548.5 1157.4 548.3 1158.3 548.1 1159.3 548 1160.2 547.7 1161.2 547.5 1162.2 547.3 1163.1 547 1164.1 546.7 1165 546.4 1166 546.1 1167 545.7 1167.9 545.3 1168.9 544.9 1169.9 544.5 1170.8 544 1171.8 543.4 1172.7 542.9 1173.7 542.2 1174.7 541.6 1175.6 540.8 1176.6 540 1177.5 539.2 1178.5 538.2 1179.5 537.2 1180.4 536.1 1181.4 535 1182.3 533.8 1183.3 532.6 1184.3 531.3 1185.2 530 1186.2 528.7 1187.1 527.5 1188.1 526.3 1189.1 525.3 1190 524.5 1191 523.9 1191.9 523.5 1192.9 523.5 1193.9 523.7 1194.8 524.1 1195.8 524.8 1196.8 525.8 1197.7 526.8 1198.7 528 1199.6 529.3 1200.6 530.6 1201.6 531.9 1202.5 533.1 1203.5 534.4 1204.4 535.5 1205.4 536.6 1206.4 537.7 1207.3 538.7 1208.3 539.6 1209.2 540.4 1210.2 541.2 1211.2 541.9 1212.1 542.5 1213.1 543.1 1214 543.7 1215 544.2 1216 544.7 1216.9 545.1 1217.9 545.5 1218.8 545.9 1219.8 546.2 1220.8 546.6 1221.7 546.9 1222.7 547.1 1223.6 547.4 1224.6 547.6 1225.6 547.8 1226.5 548 1227.5 548.2 1228.5 548.4 1229.4 548.6 1230.4 548.7 1231.3 548.9 1232.3 549 1233.3 549.2 1234.2 549.3 1235.2 549.4 1236.1 549.5 1237.1 549.6 1238.1 549.7 1239 549.8 1240 549.9 1240.9 550 1241.9 550 1242.9 550.1 1243.8 550.2 1244.8 550.2 1245.7 550.3 1246.7 550.4 1247.7 550.4 1248.6 550.5 1249.6 550.5 1250.5 550.6 1251.5 550.6 1252.5 550.7 1253.4 550.7 1254.4 550.8 1255.4 550.8 1256.3 550.8 1257.3 550.9 1258.2 550.9 1259.2 550.9 1260.2 551 1261.1 551 1262.1 551 1263 551.1 1264 551.1 1265 551.1 1265.9 551.1 1266.9 551.2 1267.8 551.2 1268.8 551.2 1269.8 551.2 1270.7 551.2 1271.7 551.3 1272.6 551.3 1273.6 551.3 1274.6 551.3 1275.5 551.3 1276.5 551.4 1277.4 551.4 1278.4 551.4 1279.4 551.4 1280.3 551.4 1281.3 551.4 1282.2 551.5 1283.2 551.5 1284.2 551.5 1285.1 551.5 1286.1 551.5 1287.1 551.5 1288 551.5 1289 551.5 1289.9 551.6 1290.9 551.6 1291.9 551.6 1292.8 551.6 1293.8 551.6 1294.7 551.6 1295.7 551.6 1296.7 551.6 1297.6 551.6 1298.6 551.6 1299.5 551.6 1300.5 551.7 1301.5 551.7 1302.4 551.7 1303.4 551.7 1304.3 551.7 1305.3 551.7 1306.3 551.7 1307.2 551.7 1308.2 551.7 1309.1 551.7 1310.1 551.7 1311.1 551.7 1312 551.7 1313 551.7 1314 551.7 1314.9 551.8 1315.9 551.8 1316.8 551.8 1317.8 551.8 1318.8 551.8 1319.7 551.8 1320.7 551.8 1321.6 551.8 1322.6 551.8 1323.6 551.8 1324.5 551.8 1325.5 551.8 1326.4 551.8 1327.4 551.8 1328.4 551.8 1329.3 551.8 1330.3 551.8 1331.2 551.8 1332.2 551.8 1333.2 551.8 1334.1 551.8 1335.1 551.8 1336 551.9 1337 551.9 1338 551.9 1338.9 551.9 1339.9 551.9 1340.9 551.9 1341.8 551.9 1342.8 551.9 1343.7 551.9 1344.7 551.9 1345.7 551.9 1346.6 551.9 1347.6 551.9 1348.5 551.9 1349.5 551.9 1350.5 551.9 1351.4 551.9 1352.4 551.9 1353.3 551.9 1354.3 551.9 1355.3 551.9 1356.2 551.9 1357.2 551.9 1358.1 551.9 1359.1 551.9 1360.1 551.9 1361 551.9 1362 551.9 1362.9 551.9 1363.9 551.9 1364.9 551.9 1365.8 551.9 1366.8 551.9 1367.7 551.9 1368.7 551.9 1369.7 551.9 1370.6 551.9 1371.6 551.9 1372.6 551.9 1373.5 551.9 1374.5 552 1375.4 552 1376.4 552 1377.4 552 1378.3 552 1379.3 552 1380.2 552 1381.2 552 1382.2 552 1383.1 552 1384.1 552 1385 552 1386 552 1387 552 1387.9 552 1388.9 552 1389.8 552 1390.8 552 1391.8 552 1392.7 552 1393.7 552 1394.6 552 1395.6 552 1396.6 552 1397.5 552 1398.5 552 1399.5 552 1400.4 552 1401.4 552 1402.3 552 1403.3 552 1404.3 552 1405.2 552 1406.2 552 1407.1 552 1408.1 552 1409.1 552 1410 552 1411 552 1411.9 552 1412.9 552 1413.9 552 1414.8 552 1415.8 552 1416.7 552 1417.7 552 1418.7 552 1419.6 552 1420.6 552 1421.5 552 1422.5 552 1423.5 552 1424.4 552 1425.4 552 1426.3 552 1427.3 552 1428.3 552 1429.2 552 1430.2 552 1431.2 552 1432.1 552 1433.1 552 1434 552 1435 552 1436 552 1436.9 552 1437.9 552 1438.8 552 1439.8 552 1440.8 552 1441.7 552 1442.7 552 1443.6 552 1444.6 552 1445.6 552 1446.5 552 1447.5 552 1448.4 552 1449.4 552 1450.4 552 1451.3 552 1452.3 552 1453.2 552 1454.2 552 1455.2 552 1456.1 552 1457.1 552 1458.1 552 1459 552 1460 552 1460.9 552 1461.9 552 1462.9 552 1463.8 552 1464.8 552 1465.7 552 1466.7 552 1467.7 552 1468.6 552 1469.6 552 1470.5 552 1471.5 552 1472.5 552 1473.4 552 1474.4 552 1475.3 552 1476.3 552 1477.3 552 1478.2 552 1479.2 552 1480.1 552 1481.1 552 1482.1 552 1483 552 1484 552 1485 552.1 1485.9 552.1 1486.9 552.1 1487.8 552.1 1488.8 552.1 1489.8 552.1 1490.7 552.1 1491.7 552.1 1492.6 552.1 1493.6 552.1 1494.6 552.1 1495.5 552.1 1496.5 552.1 1497.4 552.1 1498.4 552.1" fill="none" stroke="#808080" stroke-width="3.6" stroke-dasharray="5.5 10.5" stroke-linecap="round" stroke-linejoin="round"/><path d="M922 550.8L923 550.8 923.9 550.8 924.9 550.8 925.8 550.8 926.8 550.7 927.8 550.7 928.7 550.7 929.7 550.7 930.6 550.7 931.6 550.7 932.6 550.7 933.5 550.7 934.5 550.7 935.4 550.7 936.4 550.7 937.4 550.6 938.3 550.6 939.3 550.6 940.3 550.6 941.2 550.6 942.2 550.6 943.1 550.6 944.1 550.6 945.1 550.6 946 550.6 947 550.5 947.9 550.5 948.9 550.5 949.9 550.5 950.8 550.5 951.8 550.5 952.7 550.5 953.7 550.5 954.7 550.4 955.6 550.4 956.6 550.4 957.5 550.4 958.5 550.4 959.5 550.4 960.4 550.4 961.4 550.4 962.3 550.3 963.3 550.3 964.3 550.3 965.2 550.3 966.2 550.3 967.2 550.3 968.1 550.3 969.1 550.3 970 550.2 971 550.2 972 550.2 972.9 550.2 973.9 550.2 974.8 550.2 975.8 550.1 976.8 550.1 977.7 550.1 978.7 550.1 979.6 550.1 980.6 550.1 981.6 550.1 982.5 550 983.5 550 984.4 550 985.4 550 986.4 550 987.3 550 988.3 549.9 989.2 549.9 990.2 549.9 991.2 549.9 992.1 549.9 993.1 549.8 994 549.8 995 549.8 996 549.8 996.9 549.8 997.9 549.7 998.9 549.7 999.8 549.7 1000.8 549.7 1001.7 549.7 1002.7 549.6 1003.7 549.6 1004.6 549.6 1005.6 549.6 1006.5 549.5 1007.5 549.5 1008.5 549.5 1009.4 549.5 1010.4 549.5 1011.3 549.4 1012.3 549.4 1013.3 549.4 1014.2 549.4 1015.2 549.3 1016.1 549.3 1017.1 549.3 1018.1 549.2 1019 549.2 1020 549.2 1020.9 549.2 1021.9 549.1 1022.9 549.1 1023.8 549.1 1024.8 549.1 1025.8 549 1026.7 549 1027.7 549 1028.6 548.9 1029.6 548.9 1030.6 548.9 1031.5 548.8 1032.5 548.8 1033.4 548.8 1034.4 548.7 1035.4 548.7 1036.3 548.7 1037.3 548.6 1038.2 548.6 1039.2 548.6 1040.2 548.5 1041.1 548.5 1042.1 548.4 1043 548.4 1044 548.4 1045 548.3 1045.9 548.3 1046.9 548.2 1047.8 548.2 1048.8 548.2 1049.8 548.1 1050.7 548.1 1051.7 548 1052.7 548 1053.6 547.9 1054.6 547.9 1055.5 547.8 1056.5 547.8 1057.5 547.7 1058.4 547.7 1059.4 547.6 1060.3 547.6 1061.3 547.5 1062.3 547.5 1063.2 547.4 1064.2 547.4 1065.1 547.3 1066.1 547.2 1067.1 547.2 1068 547.1 1069 547.1 1069.9 547 1070.9 546.9 1071.9 546.9 1072.8 546.8 1073.8 546.7 1074.7 546.7 1075.7 546.6 1076.7 546.5 1077.6 546.5 1078.6 546.4 1079.5 546.3 1080.5 546.2 1081.5 546.1 1082.4 546.1 1083.4 546 1084.4 545.9 1085.3 545.8 1086.3 545.7 1087.2 545.6 1088.2 545.6 1089.2 545.5 1090.1 545.4 1091.1 545.3 1092 545.2 1093 545.1 1094 545 1094.9 544.9 1095.9 544.8 1096.8 544.7 1097.8 544.5 1098.8 544.4 1099.7 544.3 1100.7 544.2 1101.6 544.1 1102.6 544 1103.6 543.8 1104.5 543.7 1105.5 543.6 1106.4 543.4 1107.4 543.3 1108.4 543.1 1109.3 543 1110.3 542.9 1111.3 542.7 1112.2 542.6 1113.2 542.4 1114.1 542.2 1115.1 542.1 1116.1 541.9 1117 541.7 1118 541.5 1118.9 541.4 1119.9 541.2 1120.9 541 1121.8 540.8 1122.8 540.6 1123.7 540.4 1124.7 540.2 1125.7 539.9 1126.6 539.7 1127.6 539.5 1128.5 539.2 1129.5 539 1130.5 538.8 1131.4 538.5 1132.4 538.2 1133.3 538 1134.3 537.7 1135.3 537.4 1136.2 537.1 1137.2 536.8 1138.2 536.5 1139.1 536.2 1140.1 535.9 1141 535.5 1142 535.2 1143 534.8 1143.9 534.5 1144.9 534.1 1145.8 533.7 1146.8 533.3 1147.8 532.9 1148.7 532.5 1149.7 532.1 1150.6 531.6 1151.6 531.1 1152.6 530.7 1153.5 530.2 1154.5 529.7 1155.4 529.2 1156.4 528.6 1157.4 528.1 1158.3 527.5 1159.3 526.9 1160.2 526.3 1161.2 525.7 1162.2 525.1 1163.1 524.4 1164.1 523.8 1165 523.1 1166 522.3 1167 521.6 1167.9 520.9 1168.9 520.1 1169.9 519.3 1170.8 518.4 1171.8 517.6 1172.7 516.7 1173.7 515.8 1174.7 514.9 1175.6 513.9 1176.6 513 1177.5 511.9 1178.5 510.9 1179.5 509.9 1180.4 508.8 1181.4 507.7 1182.3 506.6 1183.3 505.4 1184.3 504.2 1185.2 503 1186.2 501.8 1187.1 500.6 1188.1 499.3 1189.1 498.1 1190 496.8 1191 495.5 1191.9 494.2 1192.9 492.9 1193.9 491.5 1194.8 490.2 1195.8 488.9 1196.8 487.6 1197.7 486.3 1198.7 485.1 1199.6 483.8 1200.6 482.6 1201.6 481.5 1202.5 480.3 1203.5 479.3 1204.4 478.2 1205.4 477.3 1206.4 476.4 1207.3 475.6 1208.3 474.8 1209.2 474.1 1210.2 473.6 1211.2 473.1 1212.1 472.7 1213.1 472.4 1214 472.2 1215 472.1 1216 472.1 1216.9 472.2 1217.9 472.4 1218.8 472.7 1219.8 473.1 1220.8 473.6 1221.7 474.2 1222.7 474.9 1223.6 475.7 1224.6 476.5 1225.6 477.4 1226.5 478.4 1227.5 479.4 1228.5 480.5 1229.4 481.6 1230.4 482.8 1231.3 484 1232.3 485.3 1233.3 486.5 1234.2 487.8 1235.2 489.1 1236.1 490.4 1237.1 491.7 1238.1 493 1239 494.4 1240 495.7 1240.9 497 1241.9 498.2 1242.9 499.5 1243.8 500.8 1244.8 502 1245.7 503.2 1246.7 504.4 1247.7 505.6 1248.6 506.7 1249.6 507.9 1250.5 509 1251.5 510 1252.5 511.1 1253.4 512.1 1254.4 513.1 1255.4 514.1 1256.3 515 1257.3 515.9 1258.2 516.8 1259.2 517.7 1260.2 518.6 1261.1 519.4 1262.1 520.2 1263 521 1264 521.7 1265 522.5 1265.9 523.2 1266.9 523.9 1267.8 524.5 1268.8 525.2 1269.8 525.8 1270.7 526.4 1271.7 527 1272.6 527.6 1273.6 528.2 1274.6 528.7 1275.5 529.2 1276.5 529.8 1277.4 530.3 1278.4 530.7 1279.4 531.2 1280.3 531.7 1281.3 532.1 1282.2 532.6 1283.2 533 1284.2 533.4 1285.1 533.8 1286.1 534.2 1287.1 534.5 1288 534.9 1289 535.2 1289.9 535.6 1290.9 535.9 1291.9 536.2 1292.8 536.6 1293.8 536.9 1294.7 537.2 1295.7 537.5 1296.7 537.7 1297.6 538 1298.6 538.3 1299.5 538.5 1300.5 538.8 1301.5 539 1302.4 539.3 1303.4 539.5 1304.3 539.7 1305.3 540 1306.3 540.2 1307.2 540.4 1308.2 540.6 1309.1 540.8 1310.1 541 1311.1 541.2 1312 541.4 1313 541.6 1314 541.7 1314.9 541.9 1315.9 542.1 1316.8 542.3 1317.8 542.4 1318.8 542.6 1319.7 542.7 1320.7 542.9 1321.6 543 1322.6 543.2 1323.6 543.3 1324.5 543.4 1325.5 543.6 1326.4 543.7 1327.4 543.8 1328.4 544 1329.3 544.1 1330.3 544.2 1331.2 544.3 1332.2 544.4 1333.2 544.6 1334.1 544.7 1335.1 544.8 1336 544.9 1337 545 1338 545.1 1338.9 545.2 1339.9 545.3 1340.9 545.4 1341.8 545.5 1342.8 545.6 1343.7 545.7 1344.7 545.7 1345.7 545.8 1346.6 545.9 1347.6 546 1348.5 546.1 1349.5 546.2 1350.5 546.2 1351.4 546.3 1352.4 546.4 1353.3 546.5 1354.3 546.5 1355.3 546.6 1356.2 546.7 1357.2 546.7 1358.1 546.8 1359.1 546.9 1360.1 546.9 1361 547 1362 547.1 1362.9 547.1 1363.9 547.2 1364.9 547.2 1365.8 547.3 1366.8 547.4 1367.7 547.4 1368.7 547.5 1369.7 547.5 1370.6 547.6 1371.6 547.6 1372.6 547.7 1373.5 547.7 1374.5 547.8 1375.4 547.8 1376.4 547.9 1377.4 547.9 1378.3 548 1379.3 548 1380.2 548.1 1381.2 548.1 1382.2 548.2 1383.1 548.2 1384.1 548.2 1385 548.3 1386 548.3 1387 548.4 1387.9 548.4 1388.9 548.4 1389.8 548.5 1390.8 548.5 1391.8 548.6 1392.7 548.6 1393.7 548.6 1394.6 548.7 1395.6 548.7 1396.6 548.7 1397.5 548.8 1398.5 548.8 1399.5 548.8 1400.4 548.9 1401.4 548.9 1402.3 548.9 1403.3 549 1404.3 549 1405.2 549 1406.2 549.1 1407.1 549.1 1408.1 549.1 1409.1 549.1 1410 549.2 1411 549.2 1411.9 549.2 1412.9 549.3 1413.9 549.3 1414.8 549.3 1415.8 549.3 1416.7 549.4 1417.7 549.4 1418.7 549.4 1419.6 549.4 1420.6 549.5 1421.5 549.5 1422.5 549.5 1423.5 549.5 1424.4 549.6 1425.4 549.6 1426.3 549.6 1427.3 549.6 1428.3 549.6 1429.2 549.7 1430.2 549.7 1431.2 549.7 1432.1 549.7 1433.1 549.7 1434 549.8 1435 549.8 1436 549.8 1436.9 549.8 1437.9 549.8 1438.8 549.9 1439.8 549.9 1440.8 549.9 1441.7 549.9 1442.7 549.9 1443.6 550 1444.6 550 1445.6 550 1446.5 550 1447.5 550 1448.4 550 1449.4 550.1 1450.4 550.1 1451.3 550.1 1452.3 550.1 1453.2 550.1 1454.2 550.1 1455.2 550.2 1456.1 550.2 1457.1 550.2 1458.1 550.2 1459 550.2 1460 550.2 1460.9 550.2 1461.9 550.3 1462.9 550.3 1463.8 550.3 1464.8 550.3 1465.7 550.3 1466.7 550.3 1467.7 550.3 1468.6 550.3 1469.6 550.4 1470.5 550.4 1471.5 550.4 1472.5 550.4 1473.4 550.4 1474.4 550.4 1475.3 550.4 1476.3 550.4 1477.3 550.5 1478.2 550.5 1479.2 550.5 1480.1 550.5 1481.1 550.5 1482.1 550.5 1483 550.5 1484 550.5 1485 550.6 1485.9 550.6 1486.9 550.6 1487.8 550.6 1488.8 550.6 1489.8 550.6 1490.7 550.6 1491.7 550.6 1492.6 550.6 1493.6 550.6 1494.6 550.7 1495.5 550.7 1496.5 550.7 1497.4 550.7 1498.4 550.7" fill="none" stroke="#808080" stroke-width="3.6" stroke-dasharray="5.5 10.5" stroke-linecap="round" stroke-linejoin="round"/><path d="M922.2 548.7h0M923.2 551.3h0M924.1 550.9h0M925.1 558.2h0M926 542.9h0M927 545.2h0M928 550.5h0M928.9 546.5h0M929.9 548.3h0M930.8 551.3h0M931.8 545.8h0M932.8 550.4h0M933.7 550.5h0M934.7 552.2h0M935.6 547.6h0M936.6 549.6h0M937.6 547.3h0M938.5 551.5h0M939.5 548.8h0M940.4 552.5h0M941.4 546.2h0M942.4 548.5h0M943.3 548h0M944.3 547.7h0M945.2 552.8h0M946.2 546.3h0M947.2 541.7h0M948.1 555.1h0M949.1 555.4h0M950.1 554.6h0M951 546h0M952 548.6h0M952.9 545.2h0M953.9 546.4h0M954.9 548.3h0M955.8 548h0M956.8 549.6h0M957.7 545.9h0M958.7 553.1h0M959.7 550.5h0M960.6 548.1h0M961.6 542.4h0M962.5 551.7h0M963.5 552.9h0M964.5 551h0M965.4 545.4h0M966.4 549.8h0M967.3 544h0M968.3 555.7h0M969.3 544.7h0M970.2 545.1h0M971.2 554h0M972.1 548.2h0M973.1 544.3h0M974.1 548.5h0M975 545.1h0M976 540h0M977 547.7h0M977.9 549.7h0M978.9 551.5h0M979.8 546.3h0M980.8 549.4h0M981.8 549.3h0M982.7 549h0M983.7 546.2h0M984.6 552.5h0M985.6 554.2h0M986.6 557.5h0M987.5 544.1h0M988.5 548.2h0M989.4 542.9h0M990.4 548.5h0M991.4 551.2h0M992.3 546.7h0M993.3 548.7h0M994.2 553h0M995.2 551.6h0M996.2 541.8h0M997.1 547h0M998.1 546.8h0M999 549.3h0M1000 550.8h0M1001 545h0M1001.9 548.6h0M1002.9 551h0M1003.8 548.7h0M1004.8 551.5h0M1005.8 547.4h0M1006.7 543.9h0M1007.7 551.2h0M1008.7 542.8h0M1009.6 550.5h0M1010.6 547.4h0M1011.5 551.1h0M1012.5 548.8h0M1013.5 547.7h0M1014.4 549.5h0M1015.4 550.5h0M1016.3 550.3h0M1017.3 550.8h0M1018.3 553.6h0M1019.2 548.7h0M1020.2 546.2h0M1021.1 544.2h0M1022.1 545.2h0M1023.1 538.4h0M1024 546.3h0M1025 549.2h0M1025.9 540.4h0M1026.9 551.3h0M1027.9 543.7h0M1028.8 550.9h0M1029.8 545.9h0M1030.7 554.6h0M1031.7 543.7h0M1032.7 547.7h0M1033.6 550.6h0M1034.6 540.6h0M1035.6 544h0M1036.5 546.6h0M1037.5 549.5h0M1038.4 546.8h0M1039.4 547.2h0M1040.4 543.7h0M1041.3 543.3h0M1042.3 548.8h0M1043.2 548.3h0M1044.2 548.1h0M1045.2 551.1h0M1046.1 548.1h0M1047.1 546.1h0M1048 543h0M1049 540.4h0M1050 548.5h0M1050.9 543.1h0M1051.9 546.8h0M1052.8 536.8h0M1053.8 545h0M1054.8 542.7h0M1055.7 548.1h0M1056.7 547.5h0M1057.6 543.3h0M1058.6 545.4h0M1059.6 542.3h0M1060.5 549.8h0M1061.5 540.7h0M1062.4 546.8h0M1063.4 536h0M1064.4 543.9h0M1065.3 538.1h0M1066.3 548h0M1067.3 540.4h0M1068.2 545.5h0M1069.2 543.6h0M1070.1 541.3h0M1071.1 542.5h0M1072.1 539.9h0M1073 537.6h0M1074 537.8h0M1074.9 540.7h0M1075.9 545.8h0M1076.9 543.2h0M1077.8 540.4h0M1078.8 548.4h0M1079.7 536h0M1080.7 540h0M1081.7 539.8h0M1082.6 534.5h0M1083.6 535.5h0M1084.5 537.2h0M1085.5 542.3h0M1086.5 536.4h0M1087.4 536.1h0M1088.4 541.3h0M1089.3 532.8h0M1090.3 534.9h0M1091.3 545.6h0M1092.2 536.3h0M1093.2 542.2h0M1094.2 531.6h0M1095.1 532.9h0M1096.1 541.2h0M1097 540.1h0M1098 535.7h0M1099 537.1h0M1099.9 529.3h0M1100.9 532.7h0M1101.8 537.1h0M1102.8 533.3h0M1103.8 544.7h0M1104.7 534.3h0M1105.7 531.8h0M1106.6 536.4h0M1107.6 538.7h0M1108.6 533h0M1109.5 526.8h0M1110.5 534.6h0M1111.4 540.4h0M1112.4 529h0M1113.4 543.7h0M1114.3 533.1h0M1115.3 537.9h0M1116.2 531.2h0M1117.2 539h0M1118.2 529.3h0M1119.1 533.8h0M1120.1 542.8h0M1121.1 543.9h0M1122 536.4h0M1123 529.2h0M1123.9 534.3h0M1124.9 534.5h0M1125.9 535.7h0M1126.8 531.3h0M1127.8 532.8h0M1128.7 533.1h0M1129.7 538.6h0M1130.7 528.7h0M1131.6 527.7h0M1132.6 539.6h0M1133.5 523.1h0M1134.5 530h0M1135.5 535.3h0M1136.4 541.6h0M1137.4 529.6h0M1138.3 529.8h0M1139.3 534.8h0M1140.3 540.1h0M1141.2 526.3h0M1142.2 533.9h0M1143.1 533h0M1144.1 517.1h0M1145.1 520h0M1146 525.2h0M1147 531.4h0M1147.9 525.7h0M1148.9 539.3h0M1149.9 527.4h0M1150.8 531.1h0M1151.8 533.1h0M1152.8 534.1h0M1153.7 523.1h0M1154.7 524.7h0M1155.6 523.7h0M1156.6 519.6h0M1157.6 527.4h0M1158.5 528.7h0M1159.5 530.8h0M1160.4 522.7h0M1161.4 516.2h0M1162.4 520h0M1163.3 515h0M1164.3 523.7h0M1165.2 519h0M1166.2 519.6h0M1167.2 521.2h0M1168.1 503h0M1169.1 507.4h0M1170 515.1h0M1171 513.9h0M1172 508.6h0M1172.9 515.1h0M1173.9 502.8h0M1174.8 511.4h0M1175.8 504.3h0M1176.8 506.5h0M1177.7 501.4h0M1178.7 504.8h0M1179.7 504.4h0M1180.6 498.6h0M1181.6 494.7h0M1182.5 489.9h0M1183.5 485.2h0M1184.5 473.1h0M1185.4 475.4h0M1186.4 480.2h0M1187.3 471.1h0M1188.3 478.6h0M1189.3 461.4h0M1190.2 465.7h0M1191.2 477.5h0M1192.1 460.7h0M1193.1 459h0M1194.1 483.5h0M1195 468.6h0M1196 466h0M1196.9 476.4h0M1197.9 469.8h0M1198.9 468.8h0M1199.8 458.1h0M1200.8 459.6h0M1201.7 442.6h0M1202.7 465h0M1203.7 453.7h0M1204.6 461.7h0M1205.6 460.4h0M1206.5 471h0M1207.5 476.7h0M1208.5 468.4h0M1209.4 457.2h0M1210.4 451.4h0M1211.4 458.8h0M1212.3 459.8h0M1213.3 469.9h0M1214.2 452.9h0M1215.2 454.7h0M1216.2 468.8h0M1217.1 465.8h0M1218.1 473.3h0M1219 456.1h0M1220 464.6h0M1221 469h0M1221.9 466.3h0M1222.9 467h0M1223.8 474h0M1224.8 480.9h0M1225.8 482.2h0M1226.7 486.5h0M1227.7 472.4h0M1228.6 461.5h0M1229.6 489.7h0M1230.6 478.4h0M1231.5 477.9h0M1232.5 488.6h0M1233.4 482h0M1234.4 492h0M1235.4 478.2h0M1236.3 491.4h0M1237.3 488.2h0M1238.3 485.8h0M1239.2 494.3h0M1240.2 504.2h0M1241.1 497.6h0M1242.1 490.8h0M1243.1 497.4h0M1244 496.7h0M1245 505.9h0M1245.9 499.7h0M1246.9 497.5h0M1247.9 502.8h0M1248.8 492.9h0M1249.8 506.5h0M1250.7 512.4h0M1251.7 516.7h0M1252.7 501.9h0M1253.6 509.8h0M1254.6 504.8h0M1255.5 508.9h0M1256.5 503.3h0M1257.5 506.3h0M1258.4 516.2h0M1259.4 513.5h0M1260.3 509.9h0M1261.3 523.2h0M1262.3 509.7h0M1263.2 511.7h0M1264.2 513.7h0M1265.2 520.6h0M1266.1 518.7h0M1267.1 526.6h0M1268 521.2h0M1269 525.1h0M1270 522.3h0M1270.9 525.8h0M1271.9 522.4h0M1272.8 518.5h0M1273.8 531.4h0M1274.8 520.9h0M1275.7 535.7h0M1276.7 537h0M1277.6 527.4h0M1278.6 527.2h0M1279.6 525.6h0M1280.5 536h0M1281.5 528.8h0M1282.4 528.3h0M1283.4 523.3h0M1284.4 530.1h0M1285.3 527.5h0M1286.3 534.9h0M1287.2 531.5h0M1288.2 533h0M1289.2 528h0M1290.1 536.1h0M1291.1 535.7h0M1292 529.4h0M1293 524.1h0M1294 530.8h0M1294.9 531.4h0M1295.9 534.6h0M1296.9 528.3h0M1297.8 531.1h0M1298.8 525.9h0M1299.7 532.4h0M1300.7 538.4h0M1301.7 536.9h0M1302.6 539h0M1303.6 540.3h0M1304.5 529.2h0M1305.5 531.4h0M1306.5 540.7h0M1307.4 527.5h0M1308.4 534.4h0M1309.3 539.9h0M1310.3 534.1h0M1311.3 536.3h0M1312.2 539.5h0M1313.2 544.8h0M1314.1 536.2h0M1315.1 535.2h0M1316.1 547.9h0M1317 534.3h0M1318 534.2h0M1318.9 539h0M1319.9 536.6h0M1320.9 538.4h0M1321.8 541h0M1322.8 539h0M1323.8 531.7h0M1324.7 543.9h0M1325.7 536.7h0M1326.6 537h0M1327.6 541h0M1328.6 539.9h0M1329.5 544.1h0M1330.5 541.9h0M1331.4 538.3h0M1332.4 537h0M1333.4 542.3h0M1334.3 525.6h0M1335.3 541.1h0M1336.2 538.2h0M1337.2 539.8h0M1338.2 540.7h0M1339.1 533.5h0M1340.1 541.2h0M1341 533.6h0M1342 534.5h0M1343 543.8h0M1343.9 535.1h0M1344.9 542.3h0M1345.8 528.1h0M1346.8 541.4h0M1347.8 543.8h0M1348.7 547.9h0M1349.7 545.4h0M1350.6 542.5h0M1351.6 544.4h0M1352.6 545.4h0M1353.5 543.3h0M1354.5 541.3h0M1355.5 534.5h0M1356.4 547.7h0M1357.4 543h0M1358.3 544.8h0M1359.3 547.2h0M1360.3 546.3h0M1361.2 544.9h0M1362.2 538.3h0M1363.1 542.1h0M1364.1 543.6h0M1365.1 539h0M1366 540.4h0M1367 542.6h0M1367.9 540.2h0M1368.9 545.3h0M1369.9 539.4h0M1370.8 540.2h0M1371.8 543.8h0M1372.7 547.2h0M1373.7 536.2h0M1374.7 542.1h0M1375.6 530.2h0M1376.6 545.3h0M1377.5 539.3h0M1378.5 544.6h0M1379.5 541.9h0M1380.4 539.7h0M1381.4 546.3h0M1382.4 543.6h0M1383.3 542.7h0M1384.3 543h0M1385.2 541.2h0M1386.2 539.5h0M1387.2 540.4h0M1388.1 542.8h0M1389.1 545.3h0M1390 548.5h0M1391 547h0M1392 546.3h0M1392.9 541.6h0M1393.9 545.8h0M1394.8 549.4h0M1395.8 542.1h0M1396.8 547.8h0M1397.7 547.7h0M1398.7 545.7h0M1399.6 543.1h0M1400.6 554.4h0M1401.6 549.5h0M1402.5 544.5h0M1403.5 546.7h0M1404.4 548.7h0M1405.4 547.5h0M1406.4 540.2h0M1407.3 547.4h0M1408.3 542.9h0M1409.3 542.7h0M1410.2 547.6h0M1411.2 544.2h0M1412.1 547.7h0M1413.1 548.4h0M1414.1 550.5h0M1415 542.9h0M1416 547.8h0M1416.9 548.5h0M1417.9 550.7h0M1418.9 539.7h0M1419.8 543.8h0M1420.8 547.2h0M1421.7 549.4h0M1422.7 552.6h0M1423.7 545.8h0M1424.6 545.8h0M1425.6 552.3h0M1426.5 542.7h0M1427.5 544.2h0M1428.5 550.8h0M1429.4 549.3h0M1430.4 548.9h0M1431.3 546.7h0M1432.3 547.9h0M1433.3 553.6h0M1434.2 542h0M1435.2 546.4h0M1436.1 542.9h0M1437.1 543h0M1438.1 548.5h0M1439 546.5h0M1440 545.1h0M1441 545h0M1441.9 548.5h0M1442.9 550.2h0M1443.8 547.8h0M1444.8 551h0M1445.8 550.1h0M1446.7 555.6h0M1447.7 547.8h0M1448.6 552h0M1449.6 550.3h0M1450.6 548.4h0M1451.5 547.1h0M1452.5 541.4h0M1453.4 547.6h0M1454.4 553.6h0M1455.4 547.9h0M1456.3 550.6h0M1457.3 547h0M1458.2 551h0M1459.2 551.1h0M1460.2 550.4h0M1461.1 550.9h0M1462.1 555.3h0M1463 551.1h0M1464 548.7h0M1465 544.3h0M1465.9 549.8h0M1466.9 550.1h0M1467.9 546.7h0M1468.8 546.8h0M1469.8 543h0M1470.7 546.7h0M1471.7 548.9h0M1472.7 544h0M1473.6 543.3h0M1474.6 550.7h0M1475.5 548.4h0M1476.5 555.1h0M1477.5 550.3h0M1478.4 552.2h0M1479.4 549.8h0M1480.3 550.8h0M1481.3 549.7h0M1482.3 549.4h0M1483.2 547.3h0M1484.2 548.3h0M1485.1 551.2h0M1486.1 553.8h0M1487.1 544.7h0M1488 544h0M1489 550.8h0M1489.9 547.1h0M1490.9 554.7h0M1491.9 554.9h0M1492.8 550.2h0M1493.8 543.9h0M1494.7 553.1h0M1495.7 552.3h0M1496.7 543.5h0M1497.6 556.2h0" fill="none" stroke="#000000" stroke-width="4.6" stroke-linecap="round"/><path d="M922 549.4L923 549.4 923.9 549.4 924.9 549.4 925.8 549.4 926.8 549.4 927.8 549.4 928.7 549.4 929.7 549.3 930.6 549.3 931.6 549.3 932.6 549.3 933.5 549.3 934.5 549.3 935.4 549.3 936.4 549.3 937.4 549.3 938.3 549.3 939.3 549.2 940.3 549.2 941.2 549.2 942.2 549.2 943.1 549.2 944.1 549.2 945.1 549.2 946 549.2 947 549.2 947.9 549.1 948.9 549.1 949.9 549.1 950.8 549.1 951.8 549.1 952.7 549.1 953.7 549.1 954.7 549.1 955.6 549 956.6 549 957.5 549 958.5 549 959.5 549 960.4 549 961.4 549 962.3 549 963.3 548.9 964.3 548.9 965.2 548.9 966.2 548.9 967.2 548.9 968.1 548.9 969.1 548.9 970 548.8 971 548.8 972 548.8 972.9 548.8 973.9 548.8 974.8 548.8 975.8 548.7 976.8 548.7 977.7 548.7 978.7 548.7 979.6 548.7 980.6 548.7 981.6 548.6 982.5 548.6 983.5 548.6 984.4 548.6 985.4 548.6 986.4 548.6 987.3 548.5 988.3 548.5 989.2 548.5 990.2 548.5 991.2 548.5 992.1 548.4 993.1 548.4 994 548.4 995 548.4 996 548.4 996.9 548.3 997.9 548.3 998.9 548.3 999.8 548.3 1000.8 548.3 1001.7 548.2 1002.7 548.2 1003.7 548.2 1004.6 548.2 1005.6 548.1 1006.5 548.1 1007.5 548.1 1008.5 548.1 1009.4 548 1010.4 548 1011.3 548 1012.3 548 1013.3 547.9 1014.2 547.9 1015.2 547.9 1016.1 547.9 1017.1 547.8 1018.1 547.8 1019 547.8 1020 547.7 1020.9 547.7 1021.9 547.7 1022.9 547.7 1023.8 547.6 1024.8 547.6 1025.8 547.6 1026.7 547.5 1027.7 547.5 1028.6 547.5 1029.6 547.4 1030.6 547.4 1031.5 547.4 1032.5 547.3 1033.4 547.3 1034.4 547.3 1035.4 547.2 1036.3 547.2 1037.3 547.1 1038.2 547.1 1039.2 547.1 1040.2 547 1041.1 547 1042.1 546.9 1043 546.9 1044 546.9 1045 546.8 1045.9 546.8 1046.9 546.7 1047.8 546.7 1048.8 546.6 1049.8 546.6 1050.7 546.5 1051.7 546.5 1052.7 546.5 1053.6 546.4 1054.6 546.4 1055.5 546.3 1056.5 546.2 1057.5 546.2 1058.4 546.1 1059.4 546.1 1060.3 546 1061.3 546 1062.3 545.9 1063.2 545.9 1064.2 545.8 1065.1 545.7 1066.1 545.7 1067.1 545.6 1068 545.5 1069 545.5 1069.9 545.4 1070.9 545.3 1071.9 545.3 1072.8 545.2 1073.8 545.1 1074.7 545.1 1075.7 545 1076.7 544.9 1077.6 544.8 1078.6 544.8 1079.5 544.7 1080.5 544.6 1081.5 544.5 1082.4 544.4 1083.4 544.3 1084.4 544.2 1085.3 544.2 1086.3 544.1 1087.2 544 1088.2 543.9 1089.2 543.8 1090.1 543.7 1091.1 543.6 1092 543.5 1093 543.4 1094 543.2 1094.9 543.1 1095.9 543 1096.8 542.9 1097.8 542.8 1098.8 542.7 1099.7 542.5 1100.7 542.4 1101.6 542.3 1102.6 542.1 1103.6 542 1104.5 541.9 1105.5 541.7 1106.4 541.6 1107.4 541.4 1108.4 541.3 1109.3 541.1 1110.3 540.9 1111.3 540.8 1112.2 540.6 1113.2 540.4 1114.1 540.3 1115.1 540.1 1116.1 539.9 1117 539.7 1118 539.5 1118.9 539.3 1119.9 539.1 1120.9 538.9 1121.8 538.6 1122.8 538.4 1123.7 538.2 1124.7 537.9 1125.7 537.7 1126.6 537.5 1127.6 537.2 1128.5 536.9 1129.5 536.7 1130.5 536.4 1131.4 536.1 1132.4 535.8 1133.3 535.5 1134.3 535.2 1135.3 534.8 1136.2 534.5 1137.2 534.2 1138.2 533.8 1139.1 533.4 1140.1 533.1 1141 532.7 1142 532.3 1143 531.9 1143.9 531.4 1144.9 531 1145.8 530.5 1146.8 530 1147.8 529.6 1148.7 529 1149.7 528.5 1150.6 528 1151.6 527.4 1152.6 526.8 1153.5 526.2 1154.5 525.6 1155.4 524.9 1156.4 524.3 1157.4 523.6 1158.3 522.8 1159.3 522.1 1160.2 521.3 1161.2 520.4 1162.2 519.6 1163.1 518.7 1164.1 517.8 1165 516.8 1166 515.8 1167 514.7 1167.9 513.6 1168.9 512.4 1169.9 511.2 1170.8 509.9 1171.8 508.6 1172.7 507.1 1173.7 505.7 1174.7 504.1 1175.6 502.5 1176.6 500.7 1177.5 498.9 1178.5 497 1179.5 495 1180.4 492.9 1181.4 490.8 1182.3 488.5 1183.3 486.2 1184.3 483.8 1185.2 481.4 1186.2 479 1187.1 476.6 1188.1 474.3 1189.1 472.1 1190 470 1191 468.2 1191.9 466.6 1192.9 465.2 1193.9 464.1 1194.8 463.2 1195.8 462.6 1196.8 462.2 1197.7 462 1198.7 461.9 1199.6 461.9 1200.6 461.9 1201.6 462 1202.5 462.1 1203.5 462.2 1204.4 462.3 1205.4 462.4 1206.4 462.5 1207.3 462.7 1208.3 462.8 1209.2 462.9 1210.2 463.1 1211.2 463.3 1212.1 463.5 1213.1 463.8 1214 464.2 1215 464.6 1216 465 1216.9 465.5 1217.9 466.1 1218.8 466.8 1219.8 467.5 1220.8 468.3 1221.7 469.2 1222.7 470.1 1223.6 471.1 1224.6 472.2 1225.6 473.3 1226.5 474.4 1227.5 475.6 1228.5 476.8 1229.4 478.1 1230.4 479.4 1231.3 480.8 1232.3 482.1 1233.3 483.5 1234.2 484.8 1235.2 486.2 1236.1 487.6 1237.1 489 1238.1 490.4 1239 491.8 1240 493.1 1240.9 494.5 1241.9 495.8 1242.9 497.1 1243.8 498.4 1244.8 499.7 1245.7 501 1246.7 502.2 1247.7 503.4 1248.6 504.6 1249.6 505.7 1250.5 506.9 1251.5 508 1252.5 509.1 1253.4 510.1 1254.4 511.1 1255.4 512.1 1256.3 513.1 1257.3 514 1258.2 514.9 1259.2 515.8 1260.2 516.7 1261.1 517.5 1262.1 518.4 1263 519.1 1264 519.9 1265 520.7 1265.9 521.4 1266.9 522.1 1267.8 522.8 1268.8 523.4 1269.8 524.1 1270.7 524.7 1271.7 525.3 1272.6 525.9 1273.6 526.5 1274.6 527 1275.5 527.6 1276.5 528.1 1277.4 528.6 1278.4 529.1 1279.4 529.6 1280.3 530 1281.3 530.5 1282.2 530.9 1283.2 531.3 1284.2 531.8 1285.1 532.2 1286.1 532.5 1287.1 532.9 1288 533.3 1289 533.6 1289.9 534 1290.9 534.3 1291.9 534.7 1292.8 535 1293.8 535.3 1294.7 535.6 1295.7 535.9 1296.7 536.2 1297.6 536.5 1298.6 536.7 1299.5 537 1300.5 537.3 1301.5 537.5 1302.4 537.7 1303.4 538 1304.3 538.2 1305.3 538.4 1306.3 538.7 1307.2 538.9 1308.2 539.1 1309.1 539.3 1310.1 539.5 1311.1 539.7 1312 539.9 1313 540.1 1314 540.2 1314.9 540.4 1315.9 540.6 1316.8 540.8 1317.8 540.9 1318.8 541.1 1319.7 541.2 1320.7 541.4 1321.6 541.5 1322.6 541.7 1323.6 541.8 1324.5 542 1325.5 542.1 1326.4 542.2 1327.4 542.4 1328.4 542.5 1329.3 542.6 1330.3 542.7 1331.2 542.9 1332.2 543 1333.2 543.1 1334.1 543.2 1335.1 543.3 1336 543.4 1337 543.5 1338 543.6 1338.9 543.7 1339.9 543.8 1340.9 543.9 1341.8 544 1342.8 544.1 1343.7 544.2 1344.7 544.3 1345.7 544.4 1346.6 544.5 1347.6 544.6 1348.5 544.6 1349.5 544.7 1350.5 544.8 1351.4 544.9 1352.4 545 1353.3 545 1354.3 545.1 1355.3 545.2 1356.2 545.2 1357.2 545.3 1358.1 545.4 1359.1 545.5 1360.1 545.5 1361 545.6 1362 545.6 1362.9 545.7 1363.9 545.8 1364.9 545.8 1365.8 545.9 1366.8 545.9 1367.7 546 1368.7 546.1 1369.7 546.1 1370.6 546.2 1371.6 546.2 1372.6 546.3 1373.5 546.3 1374.5 546.4 1375.4 546.4 1376.4 546.5 1377.4 546.5 1378.3 546.6 1379.3 546.6 1380.2 546.7 1381.2 546.7 1382.2 546.8 1383.1 546.8 1384.1 546.8 1385 546.9 1386 546.9 1387 547 1387.9 547 1388.9 547 1389.8 547.1 1390.8 547.1 1391.8 547.2 1392.7 547.2 1393.7 547.2 1394.6 547.3 1395.6 547.3 1396.6 547.3 1397.5 547.4 1398.5 547.4 1399.5 547.4 1400.4 547.5 1401.4 547.5 1402.3 547.5 1403.3 547.6 1404.3 547.6 1405.2 547.6 1406.2 547.7 1407.1 547.7 1408.1 547.7 1409.1 547.8 1410 547.8 1411 547.8 1411.9 547.8 1412.9 547.9 1413.9 547.9 1414.8 547.9 1415.8 547.9 1416.7 548 1417.7 548 1418.7 548 1419.6 548 1420.6 548.1 1421.5 548.1 1422.5 548.1 1423.5 548.1 1424.4 548.2 1425.4 548.2 1426.3 548.2 1427.3 548.2 1428.3 548.3 1429.2 548.3 1430.2 548.3 1431.2 548.3 1432.1 548.3 1433.1 548.4 1434 548.4 1435 548.4 1436 548.4 1436.9 548.4 1437.9 548.5 1438.8 548.5 1439.8 548.5 1440.8 548.5 1441.7 548.5 1442.7 548.6 1443.6 548.6 1444.6 548.6 1445.6 548.6 1446.5 548.6 1447.5 548.6 1448.4 548.7 1449.4 548.7 1450.4 548.7 1451.3 548.7 1452.3 548.7 1453.2 548.7 1454.2 548.8 1455.2 548.8 1456.1 548.8 1457.1 548.8 1458.1 548.8 1459 548.8 1460 548.9 1460.9 548.9 1461.9 548.9 1462.9 548.9 1463.8 548.9 1464.8 548.9 1465.7 548.9 1466.7 549 1467.7 549 1468.6 549 1469.6 549 1470.5 549 1471.5 549 1472.5 549 1473.4 549 1474.4 549.1 1475.3 549.1 1476.3 549.1 1477.3 549.1 1478.2 549.1 1479.2 549.1 1480.1 549.1 1481.1 549.1 1482.1 549.2 1483 549.2 1484 549.2 1485 549.2 1485.9 549.2 1486.9 549.2 1487.8 549.2 1488.8 549.2 1489.8 549.2 1490.7 549.3 1491.7 549.3 1492.6 549.3 1493.6 549.3 1494.6 549.3 1495.5 549.3 1496.5 549.3 1497.4 549.3 1498.4 549.3" fill="none" stroke="#404040" stroke-width="3.9" stroke-linejoin="round"/><path d="M922.2 542.2h0M923.2 557.1h0M924.1 547.4h0M925.1 550.6h0M926 550.2h0M927 549.5h0M928 555.3h0M928.9 549.5h0M929.9 551.5h0M930.8 538h0M931.8 548h0M932.8 549.8h0M933.7 549.6h0M934.7 550.8h0M935.6 552.1h0M936.6 549.9h0M937.6 547.1h0M938.5 549.4h0M939.5 545.5h0M940.4 549.2h0M941.4 548.5h0M942.4 543.5h0M943.3 546.8h0M944.3 550.2h0M945.2 549.1h0M946.2 546.7h0M947.2 542.2h0M948.1 549.3h0M949.1 549.2h0M950.1 545.2h0M951 551.3h0M952 549.4h0M952.9 545.5h0M953.9 546.5h0M954.9 548.1h0M955.8 546.2h0M956.8 557.5h0M957.7 545h0M958.7 551.4h0M959.7 553.7h0M960.6 547.4h0M961.6 546h0M962.5 549.7h0M963.5 551.7h0M964.5 548.1h0M965.4 548.3h0M966.4 543.6h0M967.3 545.7h0M968.3 547.5h0M969.3 544.5h0M970.2 548.7h0M971.2 551.1h0M972.1 546.1h0M973.1 546.1h0M974.1 548.7h0M975 550.5h0M976 547.2h0M977 556.1h0M977.9 545.6h0M978.9 546.3h0M979.8 553.2h0M980.8 547.6h0M981.8 551h0M982.7 545.3h0M983.7 554.4h0M984.6 550.7h0M985.6 545.4h0M986.6 543.9h0M987.5 554.7h0M988.5 549.3h0M989.4 546.5h0M990.4 549.6h0M991.4 542.3h0M992.3 551.4h0M993.3 546.3h0M994.2 550.9h0M995.2 542.8h0M996.2 547.5h0M997.1 548.6h0M998.1 553h0M999 541.8h0M1000 544.8h0M1001 544.8h0M1001.9 543.5h0M1002.9 546.1h0M1003.8 549.3h0M1004.8 549.8h0M1005.8 549.8h0M1006.7 542.6h0M1007.7 551.9h0M1008.7 549h0M1009.6 548.1h0M1010.6 546.2h0M1011.5 545h0M1012.5 551h0M1013.5 552.6h0M1014.4 546.8h0M1015.4 542.8h0M1016.3 544.3h0M1017.3 546h0M1018.3 547.8h0M1019.2 545.7h0M1020.2 547.4h0M1021.1 543.9h0M1022.1 549.2h0M1023.1 546.1h0M1024 546.9h0M1025 544.7h0M1025.9 545.7h0M1026.9 537.9h0M1027.9 541.4h0M1028.8 541.4h0M1029.8 553.2h0M1030.7 547.5h0M1031.7 548.3h0M1032.7 544.5h0M1033.6 553.9h0M1034.6 542.3h0M1035.6 542.6h0M1036.5 550.5h0M1037.5 549.4h0M1038.4 548.8h0M1039.4 546h0M1040.4 544h0M1041.3 539.3h0M1042.3 546.8h0M1043.2 543.5h0M1044.2 545.6h0M1045.2 540.2h0M1046.1 543.6h0M1047.1 541.5h0M1048 549.7h0M1049 546.8h0M1050 548.9h0M1050.9 541.1h0M1051.9 543.9h0M1052.8 547.2h0M1053.8 547.7h0M1054.8 544.6h0M1055.7 548.6h0M1056.7 549.4h0M1057.6 544.7h0M1058.6 538.1h0M1059.6 547.2h0M1060.5 548.2h0M1061.5 550.3h0M1062.4 550.9h0M1063.4 544.7h0M1064.4 543.7h0M1065.3 546.5h0M1066.3 545.5h0M1067.3 546.2h0M1068.2 546.2h0M1069.2 551.7h0M1070.1 548.2h0M1071.1 546.3h0M1072.1 549.3h0M1073 548.3h0M1074 549.5h0M1074.9 547.9h0M1075.9 544h0M1076.9 548.2h0M1077.8 547.3h0M1078.8 544.1h0M1079.7 544.7h0M1080.7 541.1h0M1081.7 553.7h0M1082.6 543.9h0M1083.6 548.3h0M1084.5 546.2h0M1085.5 543.8h0M1086.5 542.9h0M1087.4 542.9h0M1088.4 545.8h0M1089.3 540.8h0M1090.3 547.1h0M1091.3 546.5h0M1092.2 543.2h0M1093.2 547.6h0M1094.2 538.2h0M1095.1 541.9h0M1096.1 537.8h0M1097 545h0M1098 546h0M1099 543.9h0M1099.9 541.7h0M1100.9 546h0M1101.8 542.4h0M1102.8 543.5h0M1103.8 537.5h0M1104.7 545.1h0M1105.7 538.7h0M1106.6 544.3h0M1107.6 545.1h0M1108.6 543.8h0M1109.5 545.1h0M1110.5 539.9h0M1111.4 536.3h0M1112.4 538.9h0M1113.4 536.8h0M1114.3 532.6h0M1115.3 537h0M1116.2 536.8h0M1117.2 537.9h0M1118.2 542.4h0M1119.1 532.9h0M1120.1 541.8h0M1121.1 532h0M1122 533.9h0M1123 528.9h0M1123.9 532.8h0M1124.9 535.1h0M1125.9 529.7h0M1126.8 532.6h0M1127.8 530.4h0M1128.7 528.8h0M1129.7 528.7h0M1130.7 528.1h0M1131.6 530h0M1132.6 526.5h0M1133.5 533.8h0M1134.5 524.7h0M1135.5 528.2h0M1136.4 517.5h0M1137.4 516h0M1138.3 528.9h0M1139.3 518.9h0M1140.3 519.1h0M1141.2 522.2h0M1142.2 514.2h0M1143.1 517.5h0M1144.1 522.3h0M1145.1 514.4h0M1146 512.6h0M1147 510.2h0M1147.9 515h0M1148.9 504.9h0M1149.9 502.8h0M1150.8 510.1h0M1151.8 506h0M1152.8 501.3h0M1153.7 501.7h0M1154.7 487.9h0M1155.6 493.2h0M1156.6 497h0M1157.6 493.2h0M1158.5 486.4h0M1159.5 470.6h0M1160.4 480.7h0M1161.4 475.6h0M1162.4 469.7h0M1163.3 468.9h0M1164.3 451.1h0M1165.2 463.3h0M1166.2 451.1h0M1167.2 449.8h0M1168.1 441.8h0M1169.1 448h0M1170 423.3h0M1171 429.9h0M1172 422.9h0M1172.9 423.4h0M1173.9 415.6h0M1174.8 399.7h0M1175.8 389.7h0M1176.8 384.2h0M1177.7 373.5h0M1178.7 369.9h0M1179.7 367.9h0M1180.6 354.1h0M1181.6 348.7h0M1182.5 347.3h0M1183.5 333.5h0M1184.5 322.2h0M1185.4 325h0M1186.4 324.4h0M1187.3 310h0M1188.3 295.1h0M1189.3 310.1h0M1190.2 306.1h0M1191.2 304.4h0M1192.1 290.8h0M1193.1 317.8h0M1194.1 298.3h0M1195 292h0M1196 311.8h0M1196.9 293.8h0M1197.9 305.6h0M1198.9 319h0M1199.8 316.8h0M1200.8 336.7h0M1201.7 333.6h0M1202.7 319h0M1203.7 347.9h0M1204.6 331.5h0M1205.6 353.8h0M1206.5 351.7h0M1207.5 365.9h0M1208.5 390.3h0M1209.4 383.9h0M1210.4 384.6h0M1211.4 401h0M1212.3 408.5h0M1213.3 402.2h0M1214.2 415.4h0M1215.2 428.3h0M1216.2 426.8h0M1217.1 421.7h0M1218.1 435.8h0M1219 431.5h0M1220 432.5h0M1221 446.6h0M1221.9 458.1h0M1222.9 463.1h0M1223.8 459.3h0M1224.8 457.6h0M1225.8 464.8h0M1226.7 466.6h0M1227.7 475.5h0M1228.6 474.4h0M1229.6 481.5h0M1230.6 483.5h0M1231.5 491.3h0M1232.5 495.2h0M1233.4 491.7h0M1234.4 497.2h0M1235.4 498.5h0M1236.3 492.3h0M1237.3 498.1h0M1238.3 485h0M1239.2 496.7h0M1240.2 506h0M1241.1 500.8h0M1242.1 504.4h0M1243.1 510.8h0M1244 503.8h0M1245 513.9h0M1245.9 525.6h0M1246.9 509.2h0M1247.9 516.8h0M1248.8 508.5h0M1249.8 519.1h0M1250.7 522.5h0M1251.7 511.5h0M1252.7 523.9h0M1253.6 519.2h0M1254.6 514.8h0M1255.5 521.4h0M1256.5 523h0M1257.5 523h0M1258.4 520.7h0M1259.4 528.3h0M1260.3 523.1h0M1261.3 523.9h0M1262.3 517.4h0M1263.2 528.9h0M1264.2 531.9h0M1265.2 525.8h0M1266.1 530.9h0M1267.1 528.7h0M1268 529.9h0M1269 526.3h0M1270 534h0M1270.9 532.2h0M1271.9 542.3h0M1272.8 536.2h0M1273.8 527.3h0M1274.8 536.3h0M1275.7 536.7h0M1276.7 539.1h0M1277.6 532.6h0M1278.6 534.5h0M1279.6 540h0M1280.5 533.4h0M1281.5 535.3h0M1282.4 533.8h0M1283.4 539.3h0M1284.4 530.8h0M1285.3 536h0M1286.3 538.3h0M1287.2 540h0M1288.2 539.3h0M1289.2 535.6h0M1290.1 540h0M1291.1 535.3h0M1292 537.4h0M1293 534.9h0M1294 537.1h0M1294.9 540.5h0M1295.9 547.3h0M1296.9 539.6h0M1297.8 538.1h0M1298.8 540.6h0M1299.7 539.4h0M1300.7 543.3h0M1301.7 543.1h0M1302.6 545.3h0M1303.6 537.4h0M1304.5 541.8h0M1305.5 544.3h0M1306.5 547.4h0M1307.4 543.5h0M1308.4 538.1h0M1309.3 541.7h0M1310.3 546h0M1311.3 538.7h0M1312.2 538.9h0M1313.2 540.6h0M1314.1 541.4h0M1315.1 540.3h0M1316.1 542.6h0M1317 541.9h0M1318 547.4h0M1318.9 539.8h0M1319.9 544.2h0M1320.9 538.3h0M1321.8 552.2h0M1322.8 543.1h0M1323.8 542.3h0M1324.7 546.9h0M1325.7 544.3h0M1326.6 543.4h0M1327.6 544.1h0M1328.6 548h0M1329.5 546.8h0M1330.5 543h0M1331.4 542.3h0M1332.4 546.3h0M1333.4 546.5h0M1334.3 546.2h0M1335.3 543.5h0M1336.2 550.6h0M1337.2 551.6h0M1338.2 546.9h0M1339.1 551h0M1340.1 549.4h0M1341 547.3h0M1342 546h0M1343 551.2h0M1343.9 545.2h0M1344.9 553.7h0M1345.8 546.2h0M1346.8 553.2h0M1347.8 552.3h0M1348.7 546.1h0M1349.7 549.6h0M1350.6 550.9h0M1351.6 549.9h0M1352.6 547h0M1353.5 548.7h0M1354.5 548.7h0M1355.5 545.3h0M1356.4 551.1h0M1357.4 550.3h0M1358.3 550.5h0M1359.3 545.1h0M1360.3 545.8h0M1361.2 544.9h0M1362.2 549.2h0M1363.1 549.6h0M1364.1 546.4h0M1365.1 550.5h0M1366 546.6h0M1367 547h0M1367.9 551.6h0M1368.9 549.6h0M1369.9 549.8h0M1370.8 543.9h0M1371.8 541.2h0M1372.7 549.8h0M1373.7 549.5h0M1374.7 556.9h0M1375.6 548.9h0M1376.6 549.6h0M1377.5 553.1h0M1378.5 547.2h0M1379.5 554.7h0M1380.4 550.4h0M1381.4 549.3h0M1382.4 553.7h0M1383.3 547h0M1384.3 546.4h0M1385.2 554.2h0M1386.2 554.3h0M1387.2 547.9h0M1388.1 549.9h0M1389.1 553.7h0M1390 550.8h0M1391 550.2h0M1392 550.3h0M1392.9 547.2h0M1393.9 548.7h0M1394.8 544.2h0M1395.8 545.5h0M1396.8 547.7h0M1397.7 546.5h0M1398.7 545.7h0M1399.6 547.6h0M1400.6 553.8h0M1401.6 547.2h0M1402.5 549.7h0M1403.5 544.7h0M1404.4 549.6h0M1405.4 548.2h0M1406.4 548.8h0M1407.3 544.5h0M1408.3 549.3h0M1409.3 550.7h0M1410.2 548.9h0M1411.2 551.2h0M1412.1 549.3h0M1413.1 549.8h0M1414.1 549h0M1415 543.7h0M1416 551.1h0M1416.9 549.7h0M1417.9 550.4h0M1418.9 547.6h0M1419.8 553.5h0M1420.8 552h0M1421.7 549.9h0M1422.7 548h0M1423.7 549.9h0M1424.6 551.3h0M1425.6 552.5h0M1426.5 548h0M1427.5 545.1h0M1428.5 548.6h0M1429.4 549h0M1430.4 548.2h0M1431.3 552.6h0M1432.3 550.6h0M1433.3 550.5h0M1434.2 548.6h0M1435.2 549.7h0M1436.1 553.5h0M1437.1 545.9h0M1438.1 544.1h0M1439 550.4h0M1440 548.2h0M1441 548.7h0M1441.9 547h0M1442.9 554.2h0M1443.8 544.3h0M1444.8 551h0M1445.8 545.4h0M1446.7 549.2h0M1447.7 550.7h0M1448.6 549.9h0M1449.6 546.5h0M1450.6 552.2h0M1451.5 550.6h0M1452.5 550.9h0M1453.4 554.9h0M1454.4 545.2h0M1455.4 547.5h0M1456.3 549.4h0M1457.3 545.6h0M1458.2 552.4h0M1459.2 549.6h0M1460.2 543.8h0M1461.1 546.2h0M1462.1 556.5h0M1463 560h0M1464 552.6h0M1465 545.9h0M1465.9 550.8h0M1466.9 550h0M1467.9 547.3h0M1468.8 552.1h0M1469.8 548.6h0M1470.7 546.7h0M1471.7 547.8h0M1472.7 548h0M1473.6 551.2h0M1474.6 547.6h0M1475.5 550.6h0M1476.5 545.1h0M1477.5 541h0M1478.4 551.6h0M1479.4 556.2h0M1480.3 550.6h0M1481.3 548h0M1482.3 545.9h0M1483.2 545.8h0M1484.2 551.8h0M1485.1 551.8h0M1486.1 545.2h0M1487.1 552.8h0M1488 545.7h0M1489 550h0M1489.9 546.8h0M1490.9 547h0M1491.9 546.8h0M1492.8 546.6h0M1493.8 552.4h0M1494.7 548.3h0M1495.7 549.2h0M1496.7 548.3h0M1497.6 545.3h0" fill="none" stroke="#0063cc" stroke-width="4.6" stroke-linecap="round"/><path d="M922 548.8L923 548.8 923.9 548.8 924.9 548.8 925.8 548.8 926.8 548.8 927.8 548.8 928.7 548.7 929.7 548.7 930.6 548.7 931.6 548.7 932.6 548.7 933.5 548.7 934.5 548.7 935.4 548.7 936.4 548.6 937.4 548.6 938.3 548.6 939.3 548.6 940.3 548.6 941.2 548.6 942.2 548.6 943.1 548.5 944.1 548.5 945.1 548.5 946 548.5 947 548.5 947.9 548.5 948.9 548.5 949.9 548.4 950.8 548.4 951.8 548.4 952.7 548.4 953.7 548.4 954.7 548.4 955.6 548.3 956.6 548.3 957.5 548.3 958.5 548.3 959.5 548.3 960.4 548.3 961.4 548.2 962.3 548.2 963.3 548.2 964.3 548.2 965.2 548.2 966.2 548.1 967.2 548.1 968.1 548.1 969.1 548.1 970 548.1 971 548 972 548 972.9 548 973.9 548 974.8 548 975.8 547.9 976.8 547.9 977.7 547.9 978.7 547.9 979.6 547.9 980.6 547.8 981.6 547.8 982.5 547.8 983.5 547.8 984.4 547.7 985.4 547.7 986.4 547.7 987.3 547.7 988.3 547.6 989.2 547.6 990.2 547.6 991.2 547.6 992.1 547.5 993.1 547.5 994 547.5 995 547.4 996 547.4 996.9 547.4 997.9 547.4 998.9 547.3 999.8 547.3 1000.8 547.3 1001.7 547.2 1002.7 547.2 1003.7 547.2 1004.6 547.1 1005.6 547.1 1006.5 547.1 1007.5 547 1008.5 547 1009.4 547 1010.4 546.9 1011.3 546.9 1012.3 546.9 1013.3 546.8 1014.2 546.8 1015.2 546.7 1016.1 546.7 1017.1 546.7 1018.1 546.6 1019 546.6 1020 546.5 1020.9 546.5 1021.9 546.5 1022.9 546.4 1023.8 546.4 1024.8 546.3 1025.8 546.3 1026.7 546.2 1027.7 546.2 1028.6 546.1 1029.6 546.1 1030.6 546 1031.5 546 1032.5 545.9 1033.4 545.9 1034.4 545.8 1035.4 545.8 1036.3 545.7 1037.3 545.7 1038.2 545.6 1039.2 545.5 1040.2 545.5 1041.1 545.4 1042.1 545.4 1043 545.3 1044 545.2 1045 545.2 1045.9 545.1 1046.9 545 1047.8 545 1048.8 544.9 1049.8 544.8 1050.7 544.7 1051.7 544.7 1052.7 544.6 1053.6 544.5 1054.6 544.4 1055.5 544.3 1056.5 544.3 1057.5 544.2 1058.4 544.1 1059.4 544 1060.3 543.9 1061.3 543.8 1062.3 543.7 1063.2 543.6 1064.2 543.5 1065.1 543.4 1066.1 543.3 1067.1 543.2 1068 543.1 1069 543 1069.9 542.9 1070.9 542.8 1071.9 542.7 1072.8 542.5 1073.8 542.4 1074.7 542.3 1075.7 542.2 1076.7 542 1077.6 541.9 1078.6 541.8 1079.5 541.6 1080.5 541.5 1081.5 541.3 1082.4 541.2 1083.4 541 1084.4 540.9 1085.3 540.7 1086.3 540.5 1087.2 540.4 1088.2 540.2 1089.2 540 1090.1 539.8 1091.1 539.6 1092 539.4 1093 539.2 1094 539 1094.9 538.8 1095.9 538.6 1096.8 538.4 1097.8 538.1 1098.8 537.9 1099.7 537.7 1100.7 537.4 1101.6 537.2 1102.6 536.9 1103.6 536.6 1104.5 536.3 1105.5 536 1106.4 535.7 1107.4 535.4 1108.4 535.1 1109.3 534.8 1110.3 534.4 1111.3 534.1 1112.2 533.7 1113.2 533.4 1114.1 533 1115.1 532.6 1116.1 532.2 1117 531.7 1118 531.3 1118.9 530.8 1119.9 530.4 1120.9 529.9 1121.8 529.4 1122.8 528.8 1123.7 528.3 1124.7 527.7 1125.7 527.1 1126.6 526.5 1127.6 525.9 1128.5 525.2 1129.5 524.5 1130.5 523.8 1131.4 523.1 1132.4 522.3 1133.3 521.5 1134.3 520.7 1135.3 519.8 1136.2 518.9 1137.2 517.9 1138.2 516.9 1139.1 515.9 1140.1 514.8 1141 513.7 1142 512.5 1143 511.3 1143.9 510 1144.9 508.6 1145.8 507.2 1146.8 505.7 1147.8 504.1 1148.7 502.5 1149.7 500.8 1150.6 498.9 1151.6 497 1152.6 495 1153.5 492.9 1154.5 490.7 1155.4 488.3 1156.4 485.9 1157.4 483.3 1158.3 480.5 1159.3 477.6 1160.2 474.6 1161.2 471.3 1162.2 467.9 1163.1 464.4 1164.1 460.6 1165 456.6 1166 452.4 1167 447.9 1167.9 443.2 1168.9 438.3 1169.9 433.2 1170.8 427.7 1171.8 422.1 1172.7 416.1 1173.7 410 1174.7 403.6 1175.6 396.9 1176.6 390.1 1177.5 383.1 1178.5 376 1179.5 368.9 1180.4 361.7 1181.4 354.5 1182.3 347.5 1183.3 340.6 1184.3 334.1 1185.2 327.9 1186.2 322.3 1187.1 317.1 1188.1 312.6 1189.1 308.8 1190 305.7 1191 303.4 1191.9 301.9 1192.9 301.3 1193.9 301.4 1194.8 302.4 1195.8 304 1196.8 306.5 1197.7 309.6 1198.7 313.3 1199.6 317.6 1200.6 322.4 1201.6 327.6 1202.5 333.3 1203.5 339.2 1204.4 345.4 1205.4 351.8 1206.4 358.3 1207.3 364.9 1208.3 371.5 1209.2 378.1 1210.2 384.7 1211.2 391.1 1212.1 397.4 1213.1 403.6 1214 409.6 1215 415.4 1216 421 1216.9 426.4 1217.9 431.5 1218.8 436.5 1219.8 441.3 1220.8 445.8 1221.7 450.2 1222.7 454.3 1223.6 458.3 1224.6 462 1225.6 465.6 1226.5 469 1227.5 472.2 1228.5 475.3 1229.4 478.2 1230.4 481 1231.3 483.7 1232.3 486.2 1233.3 488.6 1234.2 490.8 1235.2 493 1236.1 495.1 1237.1 497 1238.1 498.9 1239 500.7 1240 502.4 1240.9 504 1241.9 505.6 1242.9 507 1243.8 508.5 1244.8 509.8 1245.7 511.1 1246.7 512.3 1247.7 513.5 1248.6 514.6 1249.6 515.7 1250.5 516.7 1251.5 517.7 1252.5 518.7 1253.4 519.6 1254.4 520.5 1255.4 521.3 1256.3 522.1 1257.3 522.9 1258.2 523.6 1259.2 524.3 1260.2 525 1261.1 525.7 1262.1 526.3 1263 526.9 1264 527.5 1265 528.1 1265.9 528.6 1266.9 529.2 1267.8 529.7 1268.8 530.2 1269.8 530.7 1270.7 531.1 1271.7 531.6 1272.6 532 1273.6 532.4 1274.6 532.8 1275.5 533.2 1276.5 533.6 1277.4 533.9 1278.4 534.3 1279.4 534.6 1280.3 535 1281.3 535.3 1282.2 535.6 1283.2 535.9 1284.2 536.2 1285.1 536.5 1286.1 536.8 1287.1 537 1288 537.3 1289 537.6 1289.9 537.8 1290.9 538 1291.9 538.3 1292.8 538.5 1293.8 538.7 1294.7 538.9 1295.7 539.1 1296.7 539.3 1297.6 539.5 1298.6 539.7 1299.5 539.9 1300.5 540.1 1301.5 540.3 1302.4 540.5 1303.4 540.6 1304.3 540.8 1305.3 541 1306.3 541.1 1307.2 541.3 1308.2 541.4 1309.1 541.6 1310.1 541.7 1311.1 541.8 1312 542 1313 542.1 1314 542.2 1314.9 542.4 1315.9 542.5 1316.8 542.6 1317.8 542.7 1318.8 542.8 1319.7 543 1320.7 543.1 1321.6 543.2 1322.6 543.3 1323.6 543.4 1324.5 543.5 1325.5 543.6 1326.4 543.7 1327.4 543.8 1328.4 543.9 1329.3 544 1330.3 544 1331.2 544.1 1332.2 544.2 1333.2 544.3 1334.1 544.4 1335.1 544.5 1336 544.5 1337 544.6 1338 544.7 1338.9 544.8 1339.9 544.8 1340.9 544.9 1341.8 545 1342.8 545.1 1343.7 545.1 1344.7 545.2 1345.7 545.3 1346.6 545.3 1347.6 545.4 1348.5 545.4 1349.5 545.5 1350.5 545.6 1351.4 545.6 1352.4 545.7 1353.3 545.7 1354.3 545.8 1355.3 545.9 1356.2 545.9 1357.2 546 1358.1 546 1359.1 546.1 1360.1 546.1 1361 546.2 1362 546.2 1362.9 546.3 1363.9 546.3 1364.9 546.3 1365.8 546.4 1366.8 546.4 1367.7 546.5 1368.7 546.5 1369.7 546.6 1370.6 546.6 1371.6 546.6 1372.6 546.7 1373.5 546.7 1374.5 546.8 1375.4 546.8 1376.4 546.8 1377.4 546.9 1378.3 546.9 1379.3 547 1380.2 547 1381.2 547 1382.2 547.1 1383.1 547.1 1384.1 547.1 1385 547.2 1386 547.2 1387 547.2 1387.9 547.3 1388.9 547.3 1389.8 547.3 1390.8 547.3 1391.8 547.4 1392.7 547.4 1393.7 547.4 1394.6 547.5 1395.6 547.5 1396.6 547.5 1397.5 547.5 1398.5 547.6 1399.5 547.6 1400.4 547.6 1401.4 547.6 1402.3 547.7 1403.3 547.7 1404.3 547.7 1405.2 547.7 1406.2 547.8 1407.1 547.8 1408.1 547.8 1409.1 547.8 1410 547.9 1411 547.9 1411.9 547.9 1412.9 547.9 1413.9 548 1414.8 548 1415.8 548 1416.7 548 1417.7 548 1418.7 548.1 1419.6 548.1 1420.6 548.1 1421.5 548.1 1422.5 548.1 1423.5 548.2 1424.4 548.2 1425.4 548.2 1426.3 548.2 1427.3 548.2 1428.3 548.2 1429.2 548.3 1430.2 548.3 1431.2 548.3 1432.1 548.3 1433.1 548.3 1434 548.4 1435 548.4 1436 548.4 1436.9 548.4 1437.9 548.4 1438.8 548.4 1439.8 548.4 1440.8 548.5 1441.7 548.5 1442.7 548.5 1443.6 548.5 1444.6 548.5 1445.6 548.5 1446.5 548.6 1447.5 548.6 1448.4 548.6 1449.4 548.6 1450.4 548.6 1451.3 548.6 1452.3 548.6 1453.2 548.6 1454.2 548.7 1455.2 548.7 1456.1 548.7 1457.1 548.7 1458.1 548.7 1459 548.7 1460 548.7 1460.9 548.7 1461.9 548.8 1462.9 548.8 1463.8 548.8 1464.8 548.8 1465.7 548.8 1466.7 548.8 1467.7 548.8 1468.6 548.8 1469.6 548.9 1470.5 548.9 1471.5 548.9 1472.5 548.9 1473.4 548.9 1474.4 548.9 1475.3 548.9 1476.3 548.9 1477.3 548.9 1478.2 548.9 1479.2 549 1480.1 549 1481.1 549 1482.1 549 1483 549 1484 549 1485 549 1485.9 549 1486.9 549 1487.8 549 1488.8 549 1489.8 549.1 1490.7 549.1 1491.7 549.1 1492.6 549.1 1493.6 549.1 1494.6 549.1 1495.5 549.1 1496.5 549.1 1497.4 549.1 1498.4 549.1" fill="none" stroke="#0063cc" stroke-width="3.9" stroke-linejoin="round"/></g>
<g clip-path="url(#c2)"><path d="M122.2 1214.3h0M123.2 1213h0M124.1 1208.1h0M125.1 1210.8h0M126 1216.8h0M127 1212.5h0M128 1214.1h0M128.9 1212.1h0M129.9 1216.7h0M130.8 1211.8h0M131.8 1211.8h0M132.8 1208.2h0M133.7 1211.6h0M134.7 1211h0M135.6 1216.3h0M136.6 1206.4h0M137.6 1217.4h0M138.5 1209.4h0M139.5 1213.2h0M140.4 1214.6h0M141.4 1214h0M142.4 1214h0M143.3 1211.2h0M144.3 1212.5h0M145.2 1208.3h0M146.2 1217h0M147.2 1212.2h0M148.1 1214.5h0M149.1 1210.1h0M150.1 1217.7h0M151 1213h0M152 1211.5h0M152.9 1216h0M153.9 1209.4h0M154.9 1211.5h0M155.8 1209.3h0M156.8 1209.4h0M157.7 1214.5h0M158.7 1214h0M159.7 1212.4h0M160.6 1209.9h0M161.6 1209.6h0M162.5 1213.7h0M163.5 1213.4h0M164.5 1213.9h0M165.4 1213.3h0M166.4 1212.4h0M167.3 1212.1h0M168.3 1206.2h0M169.3 1213h0M170.2 1212.4h0M171.2 1210.4h0M172.1 1214.1h0M173.1 1212.6h0M174.1 1211.5h0M175 1209.5h0M176 1215h0M177 1207.8h0M177.9 1212.4h0M178.9 1211h0M179.8 1209.2h0M180.8 1209.6h0M181.8 1208.5h0M182.7 1210.9h0M183.7 1211.4h0M184.6 1210.4h0M185.6 1213.9h0M186.6 1208h0M187.5 1213.3h0M188.5 1214.5h0M189.4 1205.7h0M190.4 1211.5h0M191.4 1214.2h0M192.3 1206.1h0M193.3 1211.9h0M194.2 1208.1h0M195.2 1213.2h0M196.2 1211.6h0M197.1 1215.4h0M198.1 1215.9h0M199 1213.4h0M200 1211h0M201 1208.6h0M201.9 1204.2h0M202.9 1213.4h0M203.8 1207.9h0M204.8 1212.2h0M205.8 1211h0M206.7 1214.5h0M207.7 1214.4h0M208.7 1212.5h0M209.6 1213.6h0M210.6 1210.4h0M211.5 1212.2h0M212.5 1206.9h0M213.5 1209.8h0M214.4 1209.8h0M215.4 1207.1h0M216.3 1208.7h0M217.3 1210.2h0M218.3 1210.3h0M219.2 1210.3h0M220.2 1207h0M221.1 1207.8h0M222.1 1208.9h0M223.1 1207.6h0M224 1211.2h0M225 1208.3h0M225.9 1213.4h0M226.9 1206h0M227.9 1209.3h0M228.8 1209h0M229.8 1207.8h0M230.7 1209.4h0M231.7 1210h0M232.7 1206.1h0M233.6 1208.9h0M234.6 1211.6h0M235.6 1207.9h0M236.5 1213.6h0M237.5 1204.5h0M238.4 1209.4h0M239.4 1208.7h0M240.4 1202.7h0M241.3 1202.9h0M242.3 1208.3h0M243.2 1206.9h0M244.2 1205.6h0M245.2 1203.9h0M246.1 1208.7h0M247.1 1207.9h0M248 1204.9h0M249 1207.4h0M250 1206h0M250.9 1206.4h0M251.9 1211h0M252.8 1210.2h0M253.8 1215h0M254.8 1208.4h0M255.7 1204h0M256.7 1210.5h0M257.6 1204.1h0M258.6 1204.6h0M259.6 1207.4h0M260.5 1207.2h0M261.5 1206.8h0M262.4 1209.3h0M263.4 1207.7h0M264.4 1206.9h0M265.3 1205h0M266.3 1204.4h0M267.3 1208.5h0M268.2 1204.1h0M269.2 1208.4h0M270.1 1206.6h0M271.1 1205h0M272.1 1206h0M273 1206.1h0M274 1204.9h0M274.9 1207.1h0M275.9 1207.2h0M276.9 1205.9h0M277.8 1202.5h0M278.8 1205.3h0M279.7 1199.6h0M280.7 1204.2h0M281.7 1212.9h0M282.6 1205.7h0M283.6 1199.7h0M284.5 1204.1h0M285.5 1205.2h0M286.5 1206.3h0M287.4 1200h0M288.4 1200.7h0M289.3 1201.5h0M290.3 1202h0M291.3 1199h0M292.2 1200.5h0M293.2 1206.1h0M294.2 1200.3h0M295.1 1201.8h0M296.1 1202.4h0M297 1199.7h0M298 1201.6h0M299 1209.7h0M299.9 1196.8h0M300.9 1198h0M301.8 1201.1h0M302.8 1201.6h0M303.8 1199.6h0M304.7 1203.7h0M305.7 1198.9h0M306.6 1200.2h0M307.6 1200.2h0M308.6 1201.6h0M309.5 1200.6h0M310.5 1195.2h0M311.4 1194.2h0M312.4 1196.3h0M313.4 1197.6h0M314.3 1199.7h0M315.3 1194.7h0M316.2 1191.8h0M317.2 1200.8h0M318.2 1192.3h0M319.1 1201.7h0M320.1 1196h0M321.1 1193.4h0M322 1198.2h0M323 1198.2h0M323.9 1192.7h0M324.9 1190.2h0M325.9 1193.8h0M326.8 1187.9h0M327.8 1193.7h0M328.7 1185.6h0M329.7 1190h0M330.7 1189.1h0M331.6 1187.4h0M332.6 1187.7h0M333.5 1182.5h0M334.5 1180.7h0M335.5 1185.1h0M336.4 1186.7h0M337.4 1189.1h0M338.3 1187.1h0M339.3 1184h0M340.3 1183.6h0M341.2 1182.6h0M342.2 1181.6h0M343.1 1179.2h0M344.1 1184.2h0M345.1 1182.2h0M346 1174.4h0M347 1174.3h0M347.9 1177.7h0M348.9 1170.6h0M349.9 1175.9h0M350.8 1173.4h0M351.8 1177.3h0M352.8 1167.2h0M353.7 1168.7h0M354.7 1163.7h0M355.6 1163.5h0M356.6 1164h0M357.6 1162.2h0M358.5 1157h0M359.5 1159.9h0M360.4 1158h0M361.4 1155.4h0M362.4 1150.7h0M363.3 1148.2h0M364.3 1142.4h0M365.2 1147.3h0M366.2 1140h0M367.2 1144.5h0M368.1 1137.1h0M369.1 1136.1h0M370 1127.1h0M371 1128.2h0M372 1129.1h0M372.9 1121.7h0M373.9 1119h0M374.8 1118h0M375.8 1114h0M376.8 1112.6h0M377.7 1093h0M378.7 1099.4h0M379.7 1091.1h0M380.6 1095.4h0M381.6 1090.1h0M382.5 1080.8h0M383.5 1075.4h0M384.5 1065.5h0M385.4 1068.1h0M386.4 1055.1h0M387.3 1044.6h0M388.3 1050.1h0M389.3 1035.4h0M390.2 1038.5h0M391.2 1026.3h0M392.1 1020.6h0M393.1 1008.2h0M394.1 1015.4h0M395 1006.3h0M396 997.5h0M396.9 1005.2h0M397.9 995.9h0M398.9 997.8h0M399.8 994.9h0M400.8 986.1h0M401.7 985.2h0M402.7 975.1h0M403.7 981.8h0M404.6 983.2h0M405.6 992.2h0M406.5 994.7h0M407.5 994.5h0M408.5 1009.6h0M409.4 991.8h0M410.4 1006.8h0M411.4 1011.8h0M412.3 1011.9h0M413.3 1008.4h0M414.2 1009.9h0M415.2 1021.5h0M416.2 1020.9h0M417.1 1026.9h0M418.1 1035h0M419 1032.8h0M420 1037.1h0M421 1048.2h0M421.9 1039h0M422.9 1055.4h0M423.8 1050.4h0M424.8 1060h0M425.8 1062.5h0M426.7 1065.5h0M427.7 1062.7h0M428.6 1075.2h0M429.6 1073.9h0M430.6 1069.7h0M431.5 1083.3h0M432.5 1083.8h0M433.4 1084.3h0M434.4 1093.1h0M435.4 1092h0M436.3 1100.2h0M437.3 1097.8h0M438.3 1103.7h0M439.2 1110.9h0M440.2 1104.4h0M441.1 1113.6h0M442.1 1117.3h0M443.1 1122.8h0M444 1123.8h0M445 1125h0M445.9 1126.6h0M446.9 1125.7h0M447.9 1137.4h0M448.8 1136.2h0M449.8 1132.7h0M450.7 1138.8h0M451.7 1140.2h0M452.7 1138h0M453.6 1144.7h0M454.6 1146.2h0M455.5 1150h0M456.5 1145.4h0M457.5 1149.8h0M458.4 1157.8h0M459.4 1155h0M460.3 1162.5h0M461.3 1156.4h0M462.3 1159.3h0M463.2 1163.6h0M464.2 1165.9h0M465.2 1171.9h0M466.1 1164.6h0M467.1 1168.8h0M468 1170.7h0M469 1168.5h0M470 1174.2h0M470.9 1175h0M471.9 1176.4h0M472.8 1179.6h0M473.8 1168.4h0M474.8 1177.8h0M475.7 1179.2h0M476.7 1176.1h0M477.6 1189.8h0M478.6 1180.8h0M479.6 1181.4h0M480.5 1185.3h0M481.5 1181.6h0M482.4 1190.1h0M483.4 1184.5h0M484.4 1182.5h0M485.3 1192.8h0M486.3 1191h0M487.2 1187.7h0M488.2 1187.9h0M489.2 1190.5h0M490.1 1188h0M491.1 1189h0M492 1194.3h0M493 1191.1h0M494 1195.2h0M494.9 1198.1h0M495.9 1199.6h0M496.9 1189.8h0M497.8 1193.7h0M498.8 1187.9h0M499.7 1198.5h0M500.7 1195.6h0M501.7 1194h0M502.6 1195.8h0M503.6 1194.3h0M504.5 1195.7h0M505.5 1198.3h0M506.5 1203.6h0M507.4 1199.9h0M508.4 1192.5h0M509.3 1195.5h0M510.3 1194.1h0M511.3 1200.1h0M512.2 1199.2h0M513.2 1201.5h0M514.1 1198.1h0M515.1 1199.3h0M516.1 1198.4h0M517 1194.9h0M518 1202.6h0M518.9 1198.4h0M519.9 1204.7h0M520.9 1197.8h0M521.8 1202.4h0M522.8 1201.6h0M523.8 1201.2h0M524.7 1197.2h0M525.7 1202.1h0M526.6 1203.6h0M527.6 1205.8h0M528.6 1201.8h0M529.5 1205.2h0M530.5 1204.4h0M531.4 1203.3h0M532.4 1201.5h0M533.4 1205.5h0M534.3 1201.8h0M535.3 1198.9h0M536.2 1208.2h0M537.2 1200.4h0M538.2 1198.3h0M539.1 1206.2h0M540.1 1202.9h0M541 1208.6h0M542 1204h0M543 1206h0M543.9 1204.4h0M544.9 1207.9h0M545.8 1207.8h0M546.8 1206.9h0M547.8 1207.7h0M548.7 1207.6h0M549.7 1206.6h0M550.6 1209.2h0M551.6 1206.7h0M552.6 1205.1h0M553.5 1212.9h0M554.5 1206.1h0M555.5 1208.8h0M556.4 1209.9h0M557.4 1210.7h0M558.3 1209.4h0M559.3 1209.2h0M560.3 1206.4h0M561.2 1210.9h0M562.2 1204.6h0M563.1 1209.8h0M564.1 1205.8h0M565.1 1204.8h0M566 1211.2h0M567 1205h0M567.9 1202h0M568.9 1209.2h0M569.9 1206.5h0M570.8 1208.5h0M571.8 1207.9h0M572.7 1208.7h0M573.7 1209.6h0M574.7 1206.4h0M575.6 1206h0M576.6 1208.4h0M577.5 1204.4h0M578.5 1205.6h0M579.5 1206.7h0M580.4 1210.6h0M581.4 1203.6h0M582.4 1205.2h0M583.3 1214.7h0M584.3 1211.9h0M585.2 1210.2h0M586.2 1206.5h0M587.2 1205.7h0M588.1 1209.9h0M589.1 1208.5h0M590 1207.3h0M591 1212.7h0M592 1207.7h0M592.9 1210.2h0M593.9 1208.9h0M594.8 1209.6h0M595.8 1212.7h0M596.8 1212.3h0M597.7 1209.5h0M598.7 1209.3h0M599.6 1210.4h0M600.6 1206.9h0M601.6 1210.8h0M602.5 1213.1h0M603.5 1210.8h0M604.4 1210.4h0M605.4 1210.4h0M606.4 1206.9h0M607.3 1208.7h0M608.3 1207.3h0M609.3 1208.5h0M610.2 1210.7h0M611.2 1207.5h0M612.1 1211h0M613.1 1209.7h0M614.1 1213.1h0M615 1210.2h0M616 1211.3h0M616.9 1209.5h0M617.9 1205.7h0M618.9 1204.2h0M619.8 1207.9h0M620.8 1210.7h0M621.7 1208.5h0M622.7 1210.1h0M623.7 1212.4h0M624.6 1210.9h0M625.6 1211.5h0M626.5 1212.5h0M627.5 1207.2h0M628.5 1212.3h0M629.4 1212.3h0M630.4 1209.1h0M631.3 1212.9h0M632.3 1214.1h0M633.3 1213.3h0M634.2 1209.8h0M635.2 1210.1h0M636.1 1210.4h0M637.1 1212.4h0M638.1 1213.6h0M639 1208.8h0M640 1215.1h0M641 1211.9h0M641.9 1214.8h0M642.9 1212.4h0M643.8 1211.8h0M644.8 1208.1h0M645.8 1219h0M646.7 1207.8h0M647.7 1213.8h0M648.6 1210.7h0M649.6 1209.4h0M650.6 1213.6h0M651.5 1211.8h0M652.5 1210.3h0M653.4 1211.9h0M654.4 1213.6h0M655.4 1211.1h0M656.3 1211.4h0M657.3 1215.7h0M658.2 1208.1h0M659.2 1211.1h0M660.2 1218.2h0M661.1 1214h0M662.1 1207.2h0M663 1207.6h0M664 1211.1h0M665 1216.3h0M665.9 1212.5h0M666.9 1209.1h0M667.9 1210.8h0M668.8 1212.8h0M669.8 1213.9h0M670.7 1209.7h0M671.7 1212.5h0M672.7 1211.1h0M673.6 1210.7h0M674.6 1207.7h0M675.5 1211.5h0M676.5 1211.3h0M677.5 1216.8h0M678.4 1209.1h0M679.4 1209.7h0M680.3 1212.1h0M681.3 1218.1h0M682.3 1213.6h0M683.2 1212h0M684.2 1206.6h0M685.1 1210.6h0M686.1 1210.1h0M687.1 1210.1h0M688 1208.7h0M689 1215.3h0M689.9 1214.5h0M690.9 1215.4h0M691.9 1213.1h0M692.8 1213.3h0M693.8 1212.1h0M694.7 1215.1h0M695.7 1212.1h0M696.7 1214.7h0M697.6 1206.8h0" fill="none" stroke="#000000" stroke-width="4.6" stroke-linecap="round"/><path d="M122 1212.6L123 1212.6 123.9 1212.5 124.9 1212.5 125.8 1212.5 126.8 1212.5 127.8 1212.5 128.7 1212.5 129.7 1212.5 130.6 1212.4 131.6 1212.4 132.6 1212.4 133.5 1212.4 134.5 1212.4 135.4 1212.4 136.4 1212.3 137.4 1212.3 138.3 1212.3 139.3 1212.3 140.3 1212.3 141.2 1212.3 142.2 1212.2 143.1 1212.2 144.1 1212.2 145.1 1212.2 146 1212.2 147 1212.2 147.9 1212.1 148.9 1212.1 149.9 1212.1 150.8 1212.1 151.8 1212.1 152.7 1212 153.7 1212 154.7 1212 155.6 1212 156.6 1212 157.5 1212 158.5 1211.9 159.5 1211.9 160.4 1211.9 161.4 1211.9 162.3 1211.8 163.3 1211.8 164.3 1211.8 165.2 1211.8 166.2 1211.8 167.2 1211.7 168.1 1211.7 169.1 1211.7 170 1211.7 171 1211.6 172 1211.6 172.9 1211.6 173.9 1211.6 174.8 1211.5 175.8 1211.5 176.8 1211.5 177.7 1211.5 178.7 1211.4 179.6 1211.4 180.6 1211.4 181.6 1211.4 182.5 1211.3 183.5 1211.3 184.4 1211.3 185.4 1211.3 186.4 1211.2 187.3 1211.2 188.3 1211.2 189.2 1211.1 190.2 1211.1 191.2 1211.1 192.1 1211 193.1 1211 194.1 1211 195 1211 196 1210.9 196.9 1210.9 197.9 1210.9 198.9 1210.8 199.8 1210.8 200.8 1210.8 201.7 1210.7 202.7 1210.7 203.7 1210.6 204.6 1210.6 205.6 1210.6 206.5 1210.5 207.5 1210.5 208.5 1210.5 209.4 1210.4 210.4 1210.4 211.3 1210.3 212.3 1210.3 213.3 1210.3 214.2 1210.2 215.2 1210.2 216.1 1210.1 217.1 1210.1 218.1 1210 219 1210 220 1209.9 220.9 1209.9 221.9 1209.9 222.9 1209.8 223.8 1209.8 224.8 1209.7 225.8 1209.7 226.7 1209.6 227.7 1209.6 228.6 1209.5 229.6 1209.4 230.6 1209.4 231.5 1209.3 232.5 1209.3 233.4 1209.2 234.4 1209.2 235.4 1209.1 236.3 1209.1 237.3 1209 238.2 1208.9 239.2 1208.9 240.2 1208.8 241.1 1208.7 242.1 1208.7 243 1208.6 244 1208.5 245 1208.5 245.9 1208.4 246.9 1208.3 247.8 1208.3 248.8 1208.2 249.8 1208.1 250.7 1208 251.7 1207.9 252.7 1207.9 253.6 1207.8 254.6 1207.7 255.5 1207.6 256.5 1207.5 257.5 1207.5 258.4 1207.4 259.4 1207.3 260.3 1207.2 261.3 1207.1 262.3 1207 263.2 1206.9 264.2 1206.8 265.1 1206.7 266.1 1206.6 267.1 1206.5 268 1206.4 269 1206.3 269.9 1206.2 270.9 1206.1 271.9 1205.9 272.8 1205.8 273.8 1205.7 274.7 1205.6 275.7 1205.4 276.7 1205.3 277.6 1205.2 278.6 1205.1 279.5 1204.9 280.5 1204.8 281.5 1204.6 282.4 1204.5 283.4 1204.3 284.4 1204.2 285.3 1204 286.3 1203.9 287.2 1203.7 288.2 1203.6 289.2 1203.4 290.1 1203.2 291.1 1203 292 1202.9 293 1202.7 294 1202.5 294.9 1202.3 295.9 1202.1 296.8 1201.9 297.8 1201.7 298.8 1201.5 299.7 1201.2 300.7 1201 301.6 1200.8 302.6 1200.6 303.6 1200.3 304.5 1200.1 305.5 1199.8 306.4 1199.6 307.4 1199.3 308.4 1199 309.3 1198.7 310.3 1198.4 311.3 1198.1 312.2 1197.8 313.2 1197.5 314.1 1197.2 315.1 1196.9 316.1 1196.5 317 1196.2 318 1195.8 318.9 1195.4 319.9 1195 320.9 1194.6 321.8 1194.2 322.8 1193.8 323.7 1193.4 324.7 1192.9 325.7 1192.5 326.6 1192 327.6 1191.5 328.5 1191 329.5 1190.5 330.5 1189.9 331.4 1189.4 332.4 1188.8 333.3 1188.2 334.3 1187.6 335.3 1187 336.2 1186.3 337.2 1185.6 338.1 1184.9 339.1 1184.2 340.1 1183.4 341 1182.6 342 1181.8 343 1180.9 343.9 1180 344.9 1179.1 345.8 1178.2 346.8 1177.2 347.8 1176.1 348.7 1175.1 349.7 1173.9 350.6 1172.8 351.6 1171.6 352.6 1170.3 353.5 1169 354.5 1167.6 355.4 1166.2 356.4 1164.6 357.4 1163.1 358.3 1161.4 359.3 1159.7 360.2 1157.9 361.2 1156 362.2 1154.1 363.1 1152 364.1 1149.8 365 1147.5 366 1145.2 367 1142.7 367.9 1140 368.9 1137.3 369.9 1134.4 370.8 1131.4 371.8 1128.2 372.7 1124.8 373.7 1121.3 374.7 1117.6 375.6 1113.8 376.6 1109.7 377.5 1105.5 378.5 1101.1 379.5 1096.4 380.4 1091.6 381.4 1086.6 382.3 1081.4 383.3 1076 384.3 1070.5 385.2 1064.8 386.2 1059 387.1 1053.1 388.1 1047.2 389.1 1041.2 390 1035.3 391 1029.4 391.9 1023.7 392.9 1018.3 393.9 1013.1 394.8 1008.3 395.8 1003.9 396.8 1000.1 397.7 996.7 398.7 993.9 399.6 991.8 400.6 990.2 401.6 989.3 402.5 989 403.5 989.2 404.4 990 405.4 991.3 406.4 993 407.3 995.1 408.3 997.4 409.2 1000.1 410.2 1002.9 411.2 1006 412.1 1009.1 413.1 1012.4 414 1015.8 415 1019.2 416 1022.6 416.9 1026.1 417.9 1029.6 418.8 1033.1 419.8 1036.6 420.8 1040.2 421.7 1043.7 422.7 1047.3 423.6 1050.9 424.6 1054.5 425.6 1058.1 426.5 1061.7 427.5 1065.3 428.5 1068.9 429.4 1072.5 430.4 1076 431.3 1079.6 432.3 1083.1 433.3 1086.6 434.2 1090 435.2 1093.4 436.1 1096.8 437.1 1100.1 438.1 1103.3 439 1106.5 440 1109.6 440.9 1112.7 441.9 1115.7 442.9 1118.6 443.8 1121.4 444.8 1124.2 445.7 1126.8 446.7 1129.4 447.7 1132 448.6 1134.4 449.6 1136.8 450.5 1139.1 451.5 1141.3 452.5 1143.5 453.4 1145.5 454.4 1147.6 455.4 1149.5 456.3 1151.4 457.3 1153.2 458.2 1154.9 459.2 1156.6 460.2 1158.3 461.1 1159.8 462.1 1161.4 463 1162.8 464 1164.2 465 1165.6 465.9 1166.9 466.9 1168.2 467.8 1169.4 468.8 1170.6 469.8 1171.8 470.7 1172.9 471.7 1173.9 472.6 1175 473.6 1176 474.6 1176.9 475.5 1177.9 476.5 1178.8 477.4 1179.7 478.4 1180.5 479.4 1181.3 480.3 1182.1 481.3 1182.9 482.2 1183.6 483.2 1184.3 484.2 1185 485.1 1185.7 486.1 1186.3 487.1 1187 488 1187.6 489 1188.1 489.9 1188.7 490.9 1189.3 491.9 1189.8 492.8 1190.3 493.8 1190.8 494.7 1191.3 495.7 1191.8 496.7 1192.3 497.6 1192.7 498.6 1193.2 499.5 1193.6 500.5 1194 501.5 1194.4 502.4 1194.8 503.4 1195.2 504.3 1195.5 505.3 1195.9 506.3 1196.3 507.2 1196.6 508.2 1196.9 509.1 1197.3 510.1 1197.6 511.1 1197.9 512 1198.2 513 1198.5 514 1198.7 514.9 1199 515.9 1199.3 516.8 1199.5 517.8 1199.8 518.8 1200.1 519.7 1200.3 520.7 1200.5 521.6 1200.8 522.6 1201 523.6 1201.2 524.5 1201.4 525.5 1201.6 526.4 1201.8 527.4 1202 528.4 1202.2 529.3 1202.4 530.3 1202.6 531.2 1202.8 532.2 1203 533.2 1203.2 534.1 1203.3 535.1 1203.5 536 1203.7 537 1203.8 538 1204 538.9 1204.1 539.9 1204.3 540.9 1204.4 541.8 1204.6 542.8 1204.7 543.7 1204.9 544.7 1205 545.7 1205.1 546.6 1205.3 547.6 1205.4 548.5 1205.5 549.5 1205.6 550.5 1205.8 551.4 1205.9 552.4 1206 553.3 1206.1 554.3 1206.2 555.3 1206.3 556.2 1206.4 557.2 1206.5 558.1 1206.6 559.1 1206.7 560.1 1206.8 561 1206.9 562 1207 562.9 1207.1 563.9 1207.2 564.9 1207.3 565.8 1207.4 566.8 1207.5 567.7 1207.6 568.7 1207.7 569.7 1207.7 570.6 1207.8 571.6 1207.9 572.6 1208 573.5 1208.1 574.5 1208.1 575.4 1208.2 576.4 1208.3 577.4 1208.3 578.3 1208.4 579.3 1208.5 580.2 1208.6 581.2 1208.6 582.2 1208.7 583.1 1208.8 584.1 1208.8 585 1208.9 586 1208.9 587 1209 587.9 1209.1 588.9 1209.1 589.8 1209.2 590.8 1209.2 591.8 1209.3 592.7 1209.4 593.7 1209.4 594.6 1209.5 595.6 1209.5 596.6 1209.6 597.5 1209.6 598.5 1209.7 599.5 1209.7 600.4 1209.8 601.4 1209.8 602.3 1209.9 603.3 1209.9 604.3 1210 605.2 1210 606.2 1210 607.1 1210.1 608.1 1210.1 609.1 1210.2 610 1210.2 611 1210.3 611.9 1210.3 612.9 1210.3 613.9 1210.4 614.8 1210.4 615.8 1210.5 616.7 1210.5 617.7 1210.5 618.7 1210.6 619.6 1210.6 620.6 1210.6 621.5 1210.7 622.5 1210.7 623.5 1210.8 624.4 1210.8 625.4 1210.8 626.3 1210.9 627.3 1210.9 628.3 1210.9 629.2 1211 630.2 1211 631.2 1211 632.1 1211.1 633.1 1211.1 634 1211.1 635 1211.1 636 1211.2 636.9 1211.2 637.9 1211.2 638.8 1211.3 639.8 1211.3 640.8 1211.3 641.7 1211.3 642.7 1211.4 643.6 1211.4 644.6 1211.4 645.6 1211.4 646.5 1211.5 647.5 1211.5 648.4 1211.5 649.4 1211.5 650.4 1211.6 651.3 1211.6 652.3 1211.6 653.2 1211.6 654.2 1211.7 655.2 1211.7 656.1 1211.7 657.1 1211.7 658.1 1211.8 659 1211.8 660 1211.8 660.9 1211.8 661.9 1211.8 662.9 1211.9 663.8 1211.9 664.8 1211.9 665.7 1211.9 666.7 1212 667.7 1212 668.6 1212 669.6 1212 670.5 1212 671.5 1212 672.5 1212.1 673.4 1212.1 674.4 1212.1 675.3 1212.1 676.3 1212.1 677.3 1212.2 678.2 1212.2 679.2 1212.2 680.1 1212.2 681.1 1212.2 682.1 1212.2 683 1212.3 684 1212.3 685 1212.3 685.9 1212.3 686.9 1212.3 687.8 1212.3 688.8 1212.4 689.8 1212.4 690.7 1212.4 691.7 1212.4 692.6 1212.4 693.6 1212.4 694.6 1212.5 695.5 1212.5 696.5 1212.5 697.4 1212.5 698.4 1212.5" fill="none" stroke="#000000" stroke-width="3.9" stroke-linejoin="round"/><path d="M122 1215.7L123 1215.7 123.9 1215.7 124.9 1215.7 125.8 1215.7 126.8 1215.7 127.8 1215.6 128.7 1215.6 129.7 1215.6 130.6 1215.6 131.6 1215.6 132.6 1215.6 133.5 1215.6 134.5 1215.6 135.4 1215.6 136.4 1215.6 137.4 1215.6 138.3 1215.6 139.3 1215.6 140.3 1215.6 141.2 1215.5 142.2 1215.5 143.1 1215.5 144.1 1215.5 145.1 1215.5 146 1215.5 147 1215.5 147.9 1215.5 148.9 1215.5 149.9 1215.5 150.8 1215.5 151.8 1215.5 152.7 1215.5 153.7 1215.4 154.7 1215.4 155.6 1215.4 156.6 1215.4 157.5 1215.4 158.5 1215.4 159.5 1215.4 160.4 1215.4 161.4 1215.4 162.3 1215.4 163.3 1215.4 164.3 1215.3 165.2 1215.3 166.2 1215.3 167.2 1215.3 168.1 1215.3 169.1 1215.3 170 1215.3 171 1215.3 172 1215.3 172.9 1215.3 173.9 1215.2 174.8 1215.2 175.8 1215.2 176.8 1215.2 177.7 1215.2 178.7 1215.2 179.6 1215.2 180.6 1215.2 181.6 1215.2 182.5 1215.1 183.5 1215.1 184.4 1215.1 185.4 1215.1 186.4 1215.1 187.3 1215.1 188.3 1215.1 189.2 1215.1 190.2 1215 191.2 1215 192.1 1215 193.1 1215 194.1 1215 195 1215 196 1215 196.9 1214.9 197.9 1214.9 198.9 1214.9 199.8 1214.9 200.8 1214.9 201.7 1214.9 202.7 1214.8 203.7 1214.8 204.6 1214.8 205.6 1214.8 206.5 1214.8 207.5 1214.8 208.5 1214.7 209.4 1214.7 210.4 1214.7 211.3 1214.7 212.3 1214.7 213.3 1214.7 214.2 1214.6 215.2 1214.6 216.1 1214.6 217.1 1214.6 218.1 1214.6 219 1214.5 220 1214.5 220.9 1214.5 221.9 1214.5 222.9 1214.4 223.8 1214.4 224.8 1214.4 225.8 1214.4 226.7 1214.4 227.7 1214.3 228.6 1214.3 229.6 1214.3 230.6 1214.3 231.5 1214.2 232.5 1214.2 233.4 1214.2 234.4 1214.1 235.4 1214.1 236.3 1214.1 237.3 1214.1 238.2 1214 239.2 1214 240.2 1214 241.1 1213.9 242.1 1213.9 243 1213.9 244 1213.9 245 1213.8 245.9 1213.8 246.9 1213.8 247.8 1213.7 248.8 1213.7 249.8 1213.6 250.7 1213.6 251.7 1213.6 252.7 1213.5 253.6 1213.5 254.6 1213.5 255.5 1213.4 256.5 1213.4 257.5 1213.3 258.4 1213.3 259.4 1213.2 260.3 1213.2 261.3 1213.2 262.3 1213.1 263.2 1213.1 264.2 1213 265.1 1213 266.1 1212.9 267.1 1212.9 268 1212.8 269 1212.8 269.9 1212.7 270.9 1212.6 271.9 1212.6 272.8 1212.5 273.8 1212.5 274.7 1212.4 275.7 1212.3 276.7 1212.3 277.6 1212.2 278.6 1212.1 279.5 1212.1 280.5 1212 281.5 1211.9 282.4 1211.9 283.4 1211.8 284.4 1211.7 285.3 1211.6 286.3 1211.6 287.2 1211.5 288.2 1211.4 289.2 1211.3 290.1 1211.2 291.1 1211.1 292 1211 293 1210.9 294 1210.8 294.9 1210.7 295.9 1210.6 296.8 1210.5 297.8 1210.4 298.8 1210.3 299.7 1210.2 300.7 1210.1 301.6 1209.9 302.6 1209.8 303.6 1209.7 304.5 1209.6 305.5 1209.4 306.4 1209.3 307.4 1209.1 308.4 1209 309.3 1208.8 310.3 1208.7 311.3 1208.5 312.2 1208.3 313.2 1208.2 314.1 1208 315.1 1207.8 316.1 1207.6 317 1207.4 318 1207.2 318.9 1207 319.9 1206.8 320.9 1206.6 321.8 1206.3 322.8 1206.1 323.7 1205.8 324.7 1205.6 325.7 1205.3 326.6 1205.1 327.6 1204.8 328.5 1204.5 329.5 1204.2 330.5 1203.9 331.4 1203.5 332.4 1203.2 333.3 1202.8 334.3 1202.5 335.3 1202.1 336.2 1201.7 337.2 1201.3 338.1 1200.8 339.1 1200.4 340.1 1199.9 341 1199.4 342 1198.9 343 1198.4 343.9 1197.8 344.9 1197.3 345.8 1196.6 346.8 1196 347.8 1195.4 348.7 1194.7 349.7 1193.9 350.6 1193.2 351.6 1192.4 352.6 1191.6 353.5 1190.7 354.5 1189.8 355.4 1188.8 356.4 1187.8 357.4 1186.7 358.3 1185.6 359.3 1184.4 360.2 1183.2 361.2 1181.9 362.2 1180.5 363.1 1179.1 364.1 1177.6 365 1175.9 366 1174.2 367 1172.5 367.9 1170.6 368.9 1168.6 369.9 1166.5 370.8 1164.2 371.8 1161.9 372.7 1159.4 373.7 1156.8 374.7 1154 375.6 1151.1 376.6 1148.1 377.5 1144.9 378.5 1141.5 379.5 1138 380.4 1134.3 381.4 1130.5 382.3 1126.5 383.3 1122.3 384.3 1118.1 385.2 1113.7 386.2 1109.3 387.1 1104.8 388.1 1100.3 389.1 1095.8 390 1091.4 391 1087.2 391.9 1083.1 392.9 1079.3 393.9 1075.9 394.8 1072.8 395.8 1070.2 396.8 1068.1 397.7 1066.6 398.7 1065.8 399.6 1065.5 400.6 1065.9 401.6 1066.9 402.5 1068.5 403.5 1070.6 404.4 1073.3 405.4 1076.4 406.4 1080 407.3 1083.8 408.3 1087.9 409.2 1092.2 410.2 1096.6 411.2 1101.1 412.1 1105.6 413.1 1110.1 414 1114.5 415 1118.8 416 1123.1 416.9 1127.2 417.9 1131.1 418.8 1134.9 419.8 1138.6 420.8 1142.1 421.7 1145.4 422.7 1148.6 423.6 1151.6 424.6 1154.5 425.6 1157.2 426.5 1159.8 427.5 1162.3 428.5 1164.6 429.4 1166.8 430.4 1168.9 431.3 1170.9 432.3 1172.8 433.3 1174.5 434.2 1176.2 435.2 1177.8 436.1 1179.3 437.1 1180.8 438.1 1182.1 439 1183.4 440 1184.6 440.9 1185.8 441.9 1186.9 442.9 1188 443.8 1189 444.8 1189.9 445.7 1190.8 446.7 1191.7 447.7 1192.5 448.6 1193.3 449.6 1194.1 450.5 1194.8 451.5 1195.5 452.5 1196.1 453.4 1196.8 454.4 1197.4 455.4 1197.9 456.3 1198.5 457.3 1199 458.2 1199.5 459.2 1200 460.2 1200.5 461.1 1200.9 462.1 1201.3 463 1201.7 464 1202.1 465 1202.5 465.9 1202.9 466.9 1203.2 467.8 1203.6 468.8 1203.9 469.8 1204.2 470.7 1204.5 471.7 1204.8 472.6 1205.1 473.6 1205.4 474.6 1205.6 475.5 1205.9 476.5 1206.1 477.4 1206.4 478.4 1206.6 479.4 1206.8 480.3 1207 481.3 1207.3 482.2 1207.5 483.2 1207.6 484.2 1207.8 485.1 1208 486.1 1208.2 487.1 1208.4 488 1208.5 489 1208.7 489.9 1208.9 490.9 1209 491.9 1209.2 492.8 1209.3 493.8 1209.4 494.7 1209.6 495.7 1209.7 496.7 1209.8 497.6 1210 498.6 1210.1 499.5 1210.2 500.5 1210.3 501.5 1210.4 502.4 1210.5 503.4 1210.6 504.3 1210.7 505.3 1210.8 506.3 1210.9 507.2 1211 508.2 1211.1 509.1 1211.2 510.1 1211.3 511.1 1211.4 512 1211.5 513 1211.6 514 1211.6 514.9 1211.7 515.9 1211.8 516.8 1211.9 517.8 1212 518.8 1212 519.7 1212.1 520.7 1212.2 521.6 1212.2 522.6 1212.3 523.6 1212.4 524.5 1212.4 525.5 1212.5 526.4 1212.5 527.4 1212.6 528.4 1212.7 529.3 1212.7 530.3 1212.8 531.2 1212.8 532.2 1212.9 533.2 1212.9 534.1 1213 535.1 1213 536 1213.1 537 1213.1 538 1213.2 538.9 1213.2 539.9 1213.3 540.9 1213.3 541.8 1213.3 542.8 1213.4 543.7 1213.4 544.7 1213.5 545.7 1213.5 546.6 1213.5 547.6 1213.6 548.5 1213.6 549.5 1213.7 550.5 1213.7 551.4 1213.7 552.4 1213.8 553.3 1213.8 554.3 1213.8 555.3 1213.9 556.2 1213.9 557.2 1213.9 558.1 1214 559.1 1214 560.1 1214 561 1214 562 1214.1 562.9 1214.1 563.9 1214.1 564.9 1214.2 565.8 1214.2 566.8 1214.2 567.7 1214.2 568.7 1214.3 569.7 1214.3 570.6 1214.3 571.6 1214.3 572.6 1214.4 573.5 1214.4 574.5 1214.4 575.4 1214.4 576.4 1214.4 577.4 1214.5 578.3 1214.5 579.3 1214.5 580.2 1214.5 581.2 1214.6 582.2 1214.6 583.1 1214.6 584.1 1214.6 585 1214.6 586 1214.7 587 1214.7 587.9 1214.7 588.9 1214.7 589.8 1214.7 590.8 1214.7 591.8 1214.8 592.7 1214.8 593.7 1214.8 594.6 1214.8 595.6 1214.8 596.6 1214.8 597.5 1214.9 598.5 1214.9 599.5 1214.9 600.4 1214.9 601.4 1214.9 602.3 1214.9 603.3 1215 604.3 1215 605.2 1215 606.2 1215 607.1 1215 608.1 1215 609.1 1215 610 1215.1 611 1215.1 611.9 1215.1 612.9 1215.1 613.9 1215.1 614.8 1215.1 615.8 1215.1 616.7 1215.1 617.7 1215.2 618.7 1215.2 619.6 1215.2 620.6 1215.2 621.5 1215.2 622.5 1215.2 623.5 1215.2 624.4 1215.2 625.4 1215.2 626.3 1215.3 627.3 1215.3 628.3 1215.3 629.2 1215.3 630.2 1215.3 631.2 1215.3 632.1 1215.3 633.1 1215.3 634 1215.3 635 1215.4 636 1215.4 636.9 1215.4 637.9 1215.4 638.8 1215.4 639.8 1215.4 640.8 1215.4 641.7 1215.4 642.7 1215.4 643.6 1215.4 644.6 1215.4 645.6 1215.4 646.5 1215.5 647.5 1215.5 648.4 1215.5 649.4 1215.5 650.4 1215.5 651.3 1215.5 652.3 1215.5 653.2 1215.5 654.2 1215.5 655.2 1215.5 656.1 1215.5 657.1 1215.5 658.1 1215.6 659 1215.6 660 1215.6 660.9 1215.6 661.9 1215.6 662.9 1215.6 663.8 1215.6 664.8 1215.6 665.7 1215.6 666.7 1215.6 667.7 1215.6 668.6 1215.6 669.6 1215.6 670.5 1215.6 671.5 1215.6 672.5 1215.7 673.4 1215.7 674.4 1215.7 675.3 1215.7 676.3 1215.7 677.3 1215.7 678.2 1215.7 679.2 1215.7 680.1 1215.7 681.1 1215.7 682.1 1215.7 683 1215.7 684 1215.7 685 1215.7 685.9 1215.7 686.9 1215.7 687.8 1215.7 688.8 1215.7 689.8 1215.8 690.7 1215.8 691.7 1215.8 692.6 1215.8 693.6 1215.8 694.6 1215.8 695.5 1215.8 696.5 1215.8 697.4 1215.8 698.4 1215.8" fill="none" stroke="#808080" stroke-width="3.6" stroke-dasharray="5.5 10.5" stroke-linecap="round" stroke-linejoin="round"/><path d="M122 1215.3L123 1215.3 123.9 1215.3 124.9 1215.3 125.8 1215.2 126.8 1215.2 127.8 1215.2 128.7 1215.2 129.7 1215.2 130.6 1215.2 131.6 1215.2 132.6 1215.2 133.5 1215.2 134.5 1215.2 135.4 1215.2 136.4 1215.2 137.4 1215.1 138.3 1215.1 139.3 1215.1 140.3 1215.1 141.2 1215.1 142.2 1215.1 143.1 1215.1 144.1 1215.1 145.1 1215.1 146 1215.1 147 1215 147.9 1215 148.9 1215 149.9 1215 150.8 1215 151.8 1215 152.7 1215 153.7 1215 154.7 1215 155.6 1214.9 156.6 1214.9 157.5 1214.9 158.5 1214.9 159.5 1214.9 160.4 1214.9 161.4 1214.9 162.3 1214.9 163.3 1214.9 164.3 1214.8 165.2 1214.8 166.2 1214.8 167.2 1214.8 168.1 1214.8 169.1 1214.8 170 1214.8 171 1214.7 172 1214.7 172.9 1214.7 173.9 1214.7 174.8 1214.7 175.8 1214.7 176.8 1214.7 177.7 1214.6 178.7 1214.6 179.6 1214.6 180.6 1214.6 181.6 1214.6 182.5 1214.6 183.5 1214.6 184.4 1214.5 185.4 1214.5 186.4 1214.5 187.3 1214.5 188.3 1214.5 189.2 1214.5 190.2 1214.4 191.2 1214.4 192.1 1214.4 193.1 1214.4 194.1 1214.4 195 1214.4 196 1214.3 196.9 1214.3 197.9 1214.3 198.9 1214.3 199.8 1214.3 200.8 1214.2 201.7 1214.2 202.7 1214.2 203.7 1214.2 204.6 1214.2 205.6 1214.1 206.5 1214.1 207.5 1214.1 208.5 1214.1 209.4 1214.1 210.4 1214 211.3 1214 212.3 1214 213.3 1214 214.2 1213.9 215.2 1213.9 216.1 1213.9 217.1 1213.9 218.1 1213.8 219 1213.8 220 1213.8 220.9 1213.8 221.9 1213.7 222.9 1213.7 223.8 1213.7 224.8 1213.7 225.8 1213.6 226.7 1213.6 227.7 1213.6 228.6 1213.5 229.6 1213.5 230.6 1213.5 231.5 1213.5 232.5 1213.4 233.4 1213.4 234.4 1213.4 235.4 1213.3 236.3 1213.3 237.3 1213.3 238.2 1213.2 239.2 1213.2 240.2 1213.2 241.1 1213.1 242.1 1213.1 243 1213.1 244 1213 245 1213 245.9 1212.9 246.9 1212.9 247.8 1212.9 248.8 1212.8 249.8 1212.8 250.7 1212.7 251.7 1212.7 252.7 1212.7 253.6 1212.6 254.6 1212.6 255.5 1212.5 256.5 1212.5 257.5 1212.4 258.4 1212.4 259.4 1212.3 260.3 1212.3 261.3 1212.2 262.3 1212.2 263.2 1212.1 264.2 1212.1 265.1 1212 266.1 1212 267.1 1211.9 268 1211.9 269 1211.8 269.9 1211.8 270.9 1211.7 271.9 1211.6 272.8 1211.6 273.8 1211.5 274.7 1211.5 275.7 1211.4 276.7 1211.3 277.6 1211.3 278.6 1211.2 279.5 1211.1 280.5 1211 281.5 1211 282.4 1210.9 283.4 1210.8 284.4 1210.7 285.3 1210.7 286.3 1210.6 287.2 1210.5 288.2 1210.4 289.2 1210.3 290.1 1210.3 291.1 1210.2 292 1210.1 293 1210 294 1209.9 294.9 1209.8 295.9 1209.7 296.8 1209.6 297.8 1209.5 298.8 1209.4 299.7 1209.3 300.7 1209.2 301.6 1209.1 302.6 1208.9 303.6 1208.8 304.5 1208.7 305.5 1208.6 306.4 1208.5 307.4 1208.3 308.4 1208.2 309.3 1208.1 310.3 1207.9 311.3 1207.8 312.2 1207.7 313.2 1207.5 314.1 1207.4 315.1 1207.2 316.1 1207 317 1206.9 318 1206.7 318.9 1206.5 319.9 1206.4 320.9 1206.2 321.8 1206 322.8 1205.8 323.7 1205.6 324.7 1205.4 325.7 1205.2 326.6 1205 327.6 1204.8 328.5 1204.6 329.5 1204.4 330.5 1204.1 331.4 1203.9 332.4 1203.7 333.3 1203.4 334.3 1203.1 335.3 1202.9 336.2 1202.6 337.2 1202.3 338.1 1202 339.1 1201.7 340.1 1201.4 341 1201.1 342 1200.8 343 1200.5 343.9 1200.1 344.9 1199.8 345.8 1199.4 346.8 1199 347.8 1198.6 348.7 1198.2 349.7 1197.8 350.6 1197.4 351.6 1196.9 352.6 1196.5 353.5 1196 354.5 1195.5 355.4 1195 356.4 1194.5 357.4 1194 358.3 1193.4 359.3 1192.9 360.2 1192.3 361.2 1191.7 362.2 1191 363.1 1190.4 364.1 1189.7 365 1189 366 1188.3 367 1187.6 367.9 1186.8 368.9 1186 369.9 1185.2 370.8 1184.3 371.8 1183.4 372.7 1182.5 373.7 1181.6 374.7 1180.6 375.6 1179.6 376.6 1178.5 377.5 1177.4 378.5 1176.3 379.5 1175.1 380.4 1173.9 381.4 1172.7 382.3 1171.4 383.3 1170.1 384.3 1168.7 385.2 1167.3 386.2 1165.9 387.1 1164.4 388.1 1162.8 389.1 1161.3 390 1159.6 391 1158 391.9 1156.3 392.9 1154.5 393.9 1152.7 394.8 1150.9 395.8 1149.1 396.8 1147.2 397.7 1145.3 398.7 1143.4 399.6 1141.4 400.6 1139.5 401.6 1137.6 402.5 1135.6 403.5 1133.7 404.4 1131.8 405.4 1129.9 406.4 1128.1 407.3 1126.4 408.3 1124.7 409.2 1123.1 410.2 1121.5 411.2 1120.1 412.1 1118.8 413.1 1117.6 414 1116.6 415 1115.7 416 1114.9 416.9 1114.3 417.9 1113.9 418.8 1113.7 419.8 1113.6 420.8 1113.7 421.7 1114 422.7 1114.4 423.6 1115 424.6 1115.8 425.6 1116.7 426.5 1117.7 427.5 1118.9 428.5 1120.3 429.4 1121.7 430.4 1123.2 431.3 1124.9 432.3 1126.6 433.3 1128.3 434.2 1130.1 435.2 1132 436.1 1133.9 437.1 1135.8 438.1 1137.8 439 1139.7 440 1141.7 440.9 1143.6 441.9 1145.5 442.9 1147.4 443.8 1149.3 444.8 1151.1 445.7 1152.9 446.7 1154.7 447.7 1156.5 448.6 1158.2 449.6 1159.8 450.5 1161.4 451.5 1163 452.5 1164.6 453.4 1166 454.4 1167.5 455.4 1168.9 456.3 1170.3 457.3 1171.6 458.2 1172.8 459.2 1174.1 460.2 1175.3 461.1 1176.4 462.1 1177.6 463 1178.6 464 1179.7 465 1180.7 465.9 1181.7 466.9 1182.6 467.8 1183.5 468.8 1184.4 469.8 1185.3 470.7 1186.1 471.7 1186.9 472.6 1187.6 473.6 1188.4 474.6 1189.1 475.5 1189.8 476.5 1190.5 477.4 1191.1 478.4 1191.7 479.4 1192.3 480.3 1192.9 481.3 1193.5 482.2 1194 483.2 1194.6 484.2 1195.1 485.1 1195.6 486.1 1196.1 487.1 1196.5 488 1197 489 1197.4 489.9 1197.9 490.9 1198.3 491.9 1198.7 492.8 1199.1 493.8 1199.4 494.7 1199.8 495.7 1200.1 496.7 1200.5 497.6 1200.8 498.6 1201.1 499.5 1201.5 500.5 1201.8 501.5 1202.1 502.4 1202.4 503.4 1202.6 504.3 1202.9 505.3 1203.2 506.3 1203.4 507.2 1203.7 508.2 1203.9 509.1 1204.2 510.1 1204.4 511.1 1204.6 512 1204.8 513 1205 514 1205.3 514.9 1205.5 515.9 1205.7 516.8 1205.8 517.8 1206 518.8 1206.2 519.7 1206.4 520.7 1206.6 521.6 1206.7 522.6 1206.9 523.6 1207.1 524.5 1207.2 525.5 1207.4 526.4 1207.5 527.4 1207.7 528.4 1207.8 529.3 1208 530.3 1208.1 531.2 1208.2 532.2 1208.4 533.2 1208.5 534.1 1208.6 535.1 1208.7 536 1208.8 537 1209 538 1209.1 538.9 1209.2 539.9 1209.3 540.9 1209.4 541.8 1209.5 542.8 1209.6 543.7 1209.7 544.7 1209.8 545.7 1209.9 546.6 1210 547.6 1210.1 548.5 1210.2 549.5 1210.3 550.5 1210.3 551.4 1210.4 552.4 1210.5 553.3 1210.6 554.3 1210.7 555.3 1210.8 556.2 1210.8 557.2 1210.9 558.1 1211 559.1 1211.1 560.1 1211.1 561 1211.2 562 1211.3 562.9 1211.3 563.9 1211.4 564.9 1211.5 565.8 1211.5 566.8 1211.6 567.7 1211.6 568.7 1211.7 569.7 1211.8 570.6 1211.8 571.6 1211.9 572.6 1211.9 573.5 1212 574.5 1212 575.4 1212.1 576.4 1212.1 577.4 1212.2 578.3 1212.2 579.3 1212.3 580.2 1212.3 581.2 1212.4 582.2 1212.4 583.1 1212.5 584.1 1212.5 585 1212.6 586 1212.6 587 1212.7 587.9 1212.7 588.9 1212.7 589.8 1212.8 590.8 1212.8 591.8 1212.9 592.7 1212.9 593.7 1212.9 594.6 1213 595.6 1213 596.6 1213.1 597.5 1213.1 598.5 1213.1 599.5 1213.2 600.4 1213.2 601.4 1213.2 602.3 1213.3 603.3 1213.3 604.3 1213.3 605.2 1213.4 606.2 1213.4 607.1 1213.4 608.1 1213.5 609.1 1213.5 610 1213.5 611 1213.5 611.9 1213.6 612.9 1213.6 613.9 1213.6 614.8 1213.7 615.8 1213.7 616.7 1213.7 617.7 1213.7 618.7 1213.8 619.6 1213.8 620.6 1213.8 621.5 1213.8 622.5 1213.9 623.5 1213.9 624.4 1213.9 625.4 1213.9 626.3 1214 627.3 1214 628.3 1214 629.2 1214 630.2 1214.1 631.2 1214.1 632.1 1214.1 633.1 1214.1 634 1214.1 635 1214.2 636 1214.2 636.9 1214.2 637.9 1214.2 638.8 1214.2 639.8 1214.3 640.8 1214.3 641.7 1214.3 642.7 1214.3 643.6 1214.3 644.6 1214.4 645.6 1214.4 646.5 1214.4 647.5 1214.4 648.4 1214.4 649.4 1214.4 650.4 1214.5 651.3 1214.5 652.3 1214.5 653.2 1214.5 654.2 1214.5 655.2 1214.5 656.1 1214.6 657.1 1214.6 658.1 1214.6 659 1214.6 660 1214.6 660.9 1214.6 661.9 1214.7 662.9 1214.7 663.8 1214.7 664.8 1214.7 665.7 1214.7 666.7 1214.7 667.7 1214.7 668.6 1214.7 669.6 1214.8 670.5 1214.8 671.5 1214.8 672.5 1214.8 673.4 1214.8 674.4 1214.8 675.3 1214.8 676.3 1214.9 677.3 1214.9 678.2 1214.9 679.2 1214.9 680.1 1214.9 681.1 1214.9 682.1 1214.9 683 1214.9 684 1214.9 685 1215 685.9 1215 686.9 1215 687.8 1215 688.8 1215 689.8 1215 690.7 1215 691.7 1215 692.6 1215 693.6 1215.1 694.6 1215.1 695.5 1215.1 696.5 1215.1 697.4 1215.1 698.4 1215.1" fill="none" stroke="#808080" stroke-width="3.6" stroke-dasharray="5.5 10.5" stroke-linecap="round" stroke-linejoin="round"/><path d="M122 1217.5L123 1217.5 123.9 1217.5 124.9 1217.5 125.8 1217.5 126.8 1217.5 127.8 1217.5 128.7 1217.5 129.7 1217.5 130.6 1217.5 131.6 1217.5 132.6 1217.5 133.5 1217.4 134.5 1217.4 135.4 1217.4 136.4 1217.4 137.4 1217.4 138.3 1217.4 139.3 1217.4 140.3 1217.4 141.2 1217.4 142.2 1217.4 143.1 1217.4 144.1 1217.4 145.1 1217.4 146 1217.4 147 1217.4 147.9 1217.4 148.9 1217.4 149.9 1217.4 150.8 1217.4 151.8 1217.4 152.7 1217.4 153.7 1217.4 154.7 1217.4 155.6 1217.3 156.6 1217.3 157.5 1217.3 158.5 1217.3 159.5 1217.3 160.4 1217.3 161.4 1217.3 162.3 1217.3 163.3 1217.3 164.3 1217.3 165.2 1217.3 166.2 1217.3 167.2 1217.3 168.1 1217.3 169.1 1217.3 170 1217.3 171 1217.3 172 1217.3 172.9 1217.2 173.9 1217.2 174.8 1217.2 175.8 1217.2 176.8 1217.2 177.7 1217.2 178.7 1217.2 179.6 1217.2 180.6 1217.2 181.6 1217.2 182.5 1217.2 183.5 1217.2 184.4 1217.2 185.4 1217.2 186.4 1217.2 187.3 1217.1 188.3 1217.1 189.2 1217.1 190.2 1217.1 191.2 1217.1 192.1 1217.1 193.1 1217.1 194.1 1217.1 195 1217.1 196 1217.1 196.9 1217.1 197.9 1217.1 198.9 1217 199.8 1217 200.8 1217 201.7 1217 202.7 1217 203.7 1217 204.6 1217 205.6 1217 206.5 1217 207.5 1217 208.5 1217 209.4 1216.9 210.4 1216.9 211.3 1216.9 212.3 1216.9 213.3 1216.9 214.2 1216.9 215.2 1216.9 216.1 1216.9 217.1 1216.9 218.1 1216.8 219 1216.8 220 1216.8 220.9 1216.8 221.9 1216.8 222.9 1216.8 223.8 1216.8 224.8 1216.7 225.8 1216.7 226.7 1216.7 227.7 1216.7 228.6 1216.7 229.6 1216.7 230.6 1216.7 231.5 1216.6 232.5 1216.6 233.4 1216.6 234.4 1216.6 235.4 1216.6 236.3 1216.6 237.3 1216.5 238.2 1216.5 239.2 1216.5 240.2 1216.5 241.1 1216.5 242.1 1216.5 243 1216.4 244 1216.4 245 1216.4 245.9 1216.4 246.9 1216.4 247.8 1216.3 248.8 1216.3 249.8 1216.3 250.7 1216.3 251.7 1216.3 252.7 1216.2 253.6 1216.2 254.6 1216.2 255.5 1216.2 256.5 1216.1 257.5 1216.1 258.4 1216.1 259.4 1216.1 260.3 1216 261.3 1216 262.3 1216 263.2 1215.9 264.2 1215.9 265.1 1215.9 266.1 1215.9 267.1 1215.8 268 1215.8 269 1215.8 269.9 1215.7 270.9 1215.7 271.9 1215.7 272.8 1215.6 273.8 1215.6 274.7 1215.5 275.7 1215.5 276.7 1215.5 277.6 1215.4 278.6 1215.4 279.5 1215.3 280.5 1215.3 281.5 1215.3 282.4 1215.2 283.4 1215.2 284.4 1215.1 285.3 1215.1 286.3 1215 287.2 1215 288.2 1214.9 289.2 1214.9 290.1 1214.8 291.1 1214.7 292 1214.7 293 1214.6 294 1214.6 294.9 1214.5 295.9 1214.4 296.8 1214.4 297.8 1214.3 298.8 1214.2 299.7 1214.2 300.7 1214.1 301.6 1214 302.6 1213.9 303.6 1213.8 304.5 1213.8 305.5 1213.7 306.4 1213.6 307.4 1213.5 308.4 1213.4 309.3 1213.3 310.3 1213.2 311.3 1213.1 312.2 1213 313.2 1212.9 314.1 1212.8 315.1 1212.6 316.1 1212.5 317 1212.4 318 1212.3 318.9 1212.1 319.9 1212 320.9 1211.8 321.8 1211.7 322.8 1211.5 323.7 1211.4 324.7 1211.2 325.7 1211 326.6 1210.8 327.6 1210.6 328.5 1210.4 329.5 1210.2 330.5 1210 331.4 1209.8 332.4 1209.6 333.3 1209.3 334.3 1209.1 335.3 1208.8 336.2 1208.6 337.2 1208.3 338.1 1208 339.1 1207.7 340.1 1207.4 341 1207 342 1206.7 343 1206.3 343.9 1205.9 344.9 1205.5 345.8 1205.1 346.8 1204.7 347.8 1204.2 348.7 1203.7 349.7 1203.2 350.6 1202.7 351.6 1202.1 352.6 1201.5 353.5 1200.9 354.5 1200.3 355.4 1199.6 356.4 1198.9 357.4 1198.1 358.3 1197.3 359.3 1196.5 360.2 1195.6 361.2 1194.7 362.2 1193.7 363.1 1192.7 364.1 1191.6 365 1190.4 366 1189.2 367 1188 367.9 1186.6 368.9 1185.2 369.9 1183.8 370.8 1182.2 371.8 1180.6 372.7 1178.9 373.7 1177.1 374.7 1175.3 375.6 1173.4 376.6 1171.4 377.5 1169.4 378.5 1167.3 379.5 1165.2 380.4 1163 381.4 1160.9 382.3 1158.7 383.3 1156.6 384.3 1154.5 385.2 1152.6 386.2 1150.7 387.1 1148.9 388.1 1147.4 389.1 1146 390 1144.9 391 1144 391.9 1143.3 392.9 1143 393.9 1142.9 394.8 1143.2 395.8 1143.7 396.8 1144.5 397.7 1145.6 398.7 1146.9 399.6 1148.4 400.6 1150.1 401.6 1151.9 402.5 1153.9 403.5 1155.9 404.4 1158 405.4 1160.2 406.4 1162.3 407.3 1164.5 408.3 1166.6 409.2 1168.7 410.2 1170.7 411.2 1172.7 412.1 1174.7 413.1 1176.5 414 1178.3 415 1180 416 1181.7 416.9 1183.2 417.9 1184.7 418.8 1186.2 419.8 1187.5 420.8 1188.8 421.7 1190 422.7 1191.2 423.6 1192.3 424.6 1193.4 425.6 1194.4 426.5 1195.3 427.5 1196.2 428.5 1197.1 429.4 1197.9 430.4 1198.6 431.3 1199.4 432.3 1200.1 433.3 1200.7 434.2 1201.3 435.2 1201.9 436.1 1202.5 437.1 1203 438.1 1203.6 439 1204.1 440 1204.5 440.9 1205 441.9 1205.4 442.9 1205.8 443.8 1206.2 444.8 1206.6 445.7 1206.9 446.7 1207.3 447.7 1207.6 448.6 1207.9 449.6 1208.2 450.5 1208.5 451.5 1208.7 452.5 1209 453.4 1209.3 454.4 1209.5 455.4 1209.7 456.3 1210 457.3 1210.2 458.2 1210.4 459.2 1210.6 460.2 1210.8 461.1 1211 462.1 1211.1 463 1211.3 464 1211.5 465 1211.6 465.9 1211.8 466.9 1211.9 467.8 1212.1 468.8 1212.2 469.8 1212.3 470.7 1212.5 471.7 1212.6 472.6 1212.7 473.6 1212.8 474.6 1212.9 475.5 1213.1 476.5 1213.2 477.4 1213.3 478.4 1213.4 479.4 1213.5 480.3 1213.6 481.3 1213.6 482.2 1213.7 483.2 1213.8 484.2 1213.9 485.1 1214 486.1 1214.1 487.1 1214.1 488 1214.2 489 1214.3 489.9 1214.4 490.9 1214.4 491.9 1214.5 492.8 1214.5 493.8 1214.6 494.7 1214.7 495.7 1214.7 496.7 1214.8 497.6 1214.8 498.6 1214.9 499.5 1215 500.5 1215 501.5 1215.1 502.4 1215.1 503.4 1215.2 504.3 1215.2 505.3 1215.2 506.3 1215.3 507.2 1215.3 508.2 1215.4 509.1 1215.4 510.1 1215.5 511.1 1215.5 512 1215.5 513 1215.6 514 1215.6 514.9 1215.6 515.9 1215.7 516.8 1215.7 517.8 1215.7 518.8 1215.8 519.7 1215.8 520.7 1215.8 521.6 1215.9 522.6 1215.9 523.6 1215.9 524.5 1216 525.5 1216 526.4 1216 527.4 1216 528.4 1216.1 529.3 1216.1 530.3 1216.1 531.2 1216.2 532.2 1216.2 533.2 1216.2 534.1 1216.2 535.1 1216.2 536 1216.3 537 1216.3 538 1216.3 538.9 1216.3 539.9 1216.4 540.9 1216.4 541.8 1216.4 542.8 1216.4 543.7 1216.4 544.7 1216.5 545.7 1216.5 546.6 1216.5 547.6 1216.5 548.5 1216.5 549.5 1216.5 550.5 1216.6 551.4 1216.6 552.4 1216.6 553.3 1216.6 554.3 1216.6 555.3 1216.6 556.2 1216.7 557.2 1216.7 558.1 1216.7 559.1 1216.7 560.1 1216.7 561 1216.7 562 1216.7 562.9 1216.8 563.9 1216.8 564.9 1216.8 565.8 1216.8 566.8 1216.8 567.7 1216.8 568.7 1216.8 569.7 1216.8 570.6 1216.9 571.6 1216.9 572.6 1216.9 573.5 1216.9 574.5 1216.9 575.4 1216.9 576.4 1216.9 577.4 1216.9 578.3 1216.9 579.3 1217 580.2 1217 581.2 1217 582.2 1217 583.1 1217 584.1 1217 585 1217 586 1217 587 1217 587.9 1217 588.9 1217.1 589.8 1217.1 590.8 1217.1 591.8 1217.1 592.7 1217.1 593.7 1217.1 594.6 1217.1 595.6 1217.1 596.6 1217.1 597.5 1217.1 598.5 1217.1 599.5 1217.1 600.4 1217.2 601.4 1217.2 602.3 1217.2 603.3 1217.2 604.3 1217.2 605.2 1217.2 606.2 1217.2 607.1 1217.2 608.1 1217.2 609.1 1217.2 610 1217.2 611 1217.2 611.9 1217.2 612.9 1217.2 613.9 1217.2 614.8 1217.3 615.8 1217.3 616.7 1217.3 617.7 1217.3 618.7 1217.3 619.6 1217.3 620.6 1217.3 621.5 1217.3 622.5 1217.3 623.5 1217.3 624.4 1217.3 625.4 1217.3 626.3 1217.3 627.3 1217.3 628.3 1217.3 629.2 1217.3 630.2 1217.3 631.2 1217.3 632.1 1217.4 633.1 1217.4 634 1217.4 635 1217.4 636 1217.4 636.9 1217.4 637.9 1217.4 638.8 1217.4 639.8 1217.4 640.8 1217.4 641.7 1217.4 642.7 1217.4 643.6 1217.4 644.6 1217.4 645.6 1217.4 646.5 1217.4 647.5 1217.4 648.4 1217.4 649.4 1217.4 650.4 1217.4 651.3 1217.4 652.3 1217.4 653.2 1217.4 654.2 1217.5 655.2 1217.5 656.1 1217.5 657.1 1217.5 658.1 1217.5 659 1217.5 660 1217.5 660.9 1217.5 661.9 1217.5 662.9 1217.5 663.8 1217.5 664.8 1217.5 665.7 1217.5 666.7 1217.5 667.7 1217.5 668.6 1217.5 669.6 1217.5 670.5 1217.5 671.5 1217.5 672.5 1217.5 673.4 1217.5 674.4 1217.5 675.3 1217.5 676.3 1217.5 677.3 1217.5 678.2 1217.5 679.2 1217.5 680.1 1217.5 681.1 1217.5 682.1 1217.5 683 1217.5 684 1217.6 685 1217.6 685.9 1217.6 686.9 1217.6 687.8 1217.6 688.8 1217.6 689.8 1217.6 690.7 1217.6 691.7 1217.6 692.6 1217.6 693.6 1217.6 694.6 1217.6 695.5 1217.6 696.5 1217.6 697.4 1217.6 698.4 1217.6" fill="none" stroke="#00ffff" stroke-width="3.6" stroke-dasharray="5.5 10.5" stroke-linecap="round" stroke-linejoin="round"/><path d="M122 1217.4L123 1217.4 123.9 1217.4 124.9 1217.4 125.8 1217.4 126.8 1217.4 127.8 1217.3 128.7 1217.3 129.7 1217.3 130.6 1217.3 131.6 1217.3 132.6 1217.3 133.5 1217.3 134.5 1217.3 135.4 1217.3 136.4 1217.3 137.4 1217.3 138.3 1217.3 139.3 1217.3 140.3 1217.3 141.2 1217.3 142.2 1217.3 143.1 1217.3 144.1 1217.3 145.1 1217.3 146 1217.3 147 1217.3 147.9 1217.3 148.9 1217.2 149.9 1217.2 150.8 1217.2 151.8 1217.2 152.7 1217.2 153.7 1217.2 154.7 1217.2 155.6 1217.2 156.6 1217.2 157.5 1217.2 158.5 1217.2 159.5 1217.2 160.4 1217.2 161.4 1217.2 162.3 1217.2 163.3 1217.2 164.3 1217.2 165.2 1217.1 166.2 1217.1 167.2 1217.1 168.1 1217.1 169.1 1217.1 170 1217.1 171 1217.1 172 1217.1 172.9 1217.1 173.9 1217.1 174.8 1217.1 175.8 1217.1 176.8 1217.1 177.7 1217.1 178.7 1217.1 179.6 1217 180.6 1217 181.6 1217 182.5 1217 183.5 1217 184.4 1217 185.4 1217 186.4 1217 187.3 1217 188.3 1217 189.2 1217 190.2 1217 191.2 1217 192.1 1216.9 193.1 1216.9 194.1 1216.9 195 1216.9 196 1216.9 196.9 1216.9 197.9 1216.9 198.9 1216.9 199.8 1216.9 200.8 1216.9 201.7 1216.8 202.7 1216.8 203.7 1216.8 204.6 1216.8 205.6 1216.8 206.5 1216.8 207.5 1216.8 208.5 1216.8 209.4 1216.8 210.4 1216.8 211.3 1216.7 212.3 1216.7 213.3 1216.7 214.2 1216.7 215.2 1216.7 216.1 1216.7 217.1 1216.7 218.1 1216.7 219 1216.6 220 1216.6 220.9 1216.6 221.9 1216.6 222.9 1216.6 223.8 1216.6 224.8 1216.6 225.8 1216.6 226.7 1216.5 227.7 1216.5 228.6 1216.5 229.6 1216.5 230.6 1216.5 231.5 1216.5 232.5 1216.5 233.4 1216.4 234.4 1216.4 235.4 1216.4 236.3 1216.4 237.3 1216.4 238.2 1216.4 239.2 1216.3 240.2 1216.3 241.1 1216.3 242.1 1216.3 243 1216.3 244 1216.2 245 1216.2 245.9 1216.2 246.9 1216.2 247.8 1216.2 248.8 1216.1 249.8 1216.1 250.7 1216.1 251.7 1216.1 252.7 1216.1 253.6 1216 254.6 1216 255.5 1216 256.5 1216 257.5 1216 258.4 1215.9 259.4 1215.9 260.3 1215.9 261.3 1215.9 262.3 1215.8 263.2 1215.8 264.2 1215.8 265.1 1215.7 266.1 1215.7 267.1 1215.7 268 1215.7 269 1215.6 269.9 1215.6 270.9 1215.6 271.9 1215.5 272.8 1215.5 273.8 1215.5 274.7 1215.4 275.7 1215.4 276.7 1215.4 277.6 1215.3 278.6 1215.3 279.5 1215.3 280.5 1215.2 281.5 1215.2 282.4 1215.2 283.4 1215.1 284.4 1215.1 285.3 1215 286.3 1215 287.2 1215 288.2 1214.9 289.2 1214.9 290.1 1214.8 291.1 1214.8 292 1214.7 293 1214.7 294 1214.6 294.9 1214.6 295.9 1214.5 296.8 1214.5 297.8 1214.4 298.8 1214.4 299.7 1214.3 300.7 1214.3 301.6 1214.2 302.6 1214.1 303.6 1214.1 304.5 1214 305.5 1214 306.4 1213.9 307.4 1213.8 308.4 1213.8 309.3 1213.7 310.3 1213.6 311.3 1213.5 312.2 1213.5 313.2 1213.4 314.1 1213.3 315.1 1213.2 316.1 1213.1 317 1213 318 1213 318.9 1212.9 319.9 1212.8 320.9 1212.7 321.8 1212.6 322.8 1212.5 323.7 1212.4 324.7 1212.3 325.7 1212.2 326.6 1212.1 327.6 1211.9 328.5 1211.8 329.5 1211.7 330.5 1211.6 331.4 1211.4 332.4 1211.3 333.3 1211.2 334.3 1211 335.3 1210.9 336.2 1210.7 337.2 1210.6 338.1 1210.4 339.1 1210.3 340.1 1210.1 341 1209.9 342 1209.7 343 1209.6 343.9 1209.4 344.9 1209.2 345.8 1209 346.8 1208.8 347.8 1208.6 348.7 1208.3 349.7 1208.1 350.6 1207.9 351.6 1207.6 352.6 1207.4 353.5 1207.1 354.5 1206.8 355.4 1206.6 356.4 1206.3 357.4 1206 358.3 1205.7 359.3 1205.4 360.2 1205 361.2 1204.7 362.2 1204.4 363.1 1204 364.1 1203.6 365 1203.2 366 1202.8 367 1202.4 367.9 1202 368.9 1201.5 369.9 1201.1 370.8 1200.6 371.8 1200.1 372.7 1199.6 373.7 1199.1 374.7 1198.6 375.6 1198 376.6 1197.4 377.5 1196.8 378.5 1196.2 379.5 1195.6 380.4 1194.9 381.4 1194.3 382.3 1193.6 383.3 1192.9 384.3 1192.2 385.2 1191.4 386.2 1190.7 387.1 1189.9 388.1 1189.1 389.1 1188.3 390 1187.5 391 1186.7 391.9 1185.9 392.9 1185 393.9 1184.2 394.8 1183.4 395.8 1182.5 396.8 1181.7 397.7 1180.9 398.7 1180.1 399.6 1179.3 400.6 1178.5 401.6 1177.8 402.5 1177.1 403.5 1176.4 404.4 1175.8 405.4 1175.2 406.4 1174.7 407.3 1174.2 408.3 1173.8 409.2 1173.4 410.2 1173.1 411.2 1172.9 412.1 1172.8 413.1 1172.7 414 1172.7 415 1172.8 416 1172.9 416.9 1173.1 417.9 1173.4 418.8 1173.8 419.8 1174.2 420.8 1174.6 421.7 1175.2 422.7 1175.8 423.6 1176.4 424.6 1177.1 425.6 1177.8 426.5 1178.5 427.5 1179.3 428.5 1180.1 429.4 1180.9 430.4 1181.7 431.3 1182.5 432.3 1183.4 433.3 1184.2 434.2 1185 435.2 1185.9 436.1 1186.7 437.1 1187.5 438.1 1188.3 439 1189.1 440 1189.9 440.9 1190.7 441.9 1191.4 442.9 1192.2 443.8 1192.9 444.8 1193.6 445.7 1194.3 446.7 1194.9 447.7 1195.6 448.6 1196.2 449.6 1196.8 450.5 1197.4 451.5 1198 452.5 1198.5 453.4 1199.1 454.4 1199.6 455.4 1200.1 456.3 1200.6 457.3 1201.1 458.2 1201.5 459.2 1202 460.2 1202.4 461.1 1202.8 462.1 1203.2 463 1203.6 464 1204 465 1204.3 465.9 1204.7 466.9 1205 467.8 1205.4 468.8 1205.7 469.8 1206 470.7 1206.3 471.7 1206.6 472.6 1206.8 473.6 1207.1 474.6 1207.4 475.5 1207.6 476.5 1207.9 477.4 1208.1 478.4 1208.3 479.4 1208.6 480.3 1208.8 481.3 1209 482.2 1209.2 483.2 1209.4 484.2 1209.6 485.1 1209.7 486.1 1209.9 487.1 1210.1 488 1210.3 489 1210.4 489.9 1210.6 490.9 1210.7 491.9 1210.9 492.8 1211 493.8 1211.2 494.7 1211.3 495.7 1211.4 496.7 1211.6 497.6 1211.7 498.6 1211.8 499.5 1211.9 500.5 1212 501.5 1212.2 502.4 1212.3 503.4 1212.4 504.3 1212.5 505.3 1212.6 506.3 1212.7 507.2 1212.8 508.2 1212.9 509.1 1213 510.1 1213 511.1 1213.1 512 1213.2 513 1213.3 514 1213.4 514.9 1213.5 515.9 1213.5 516.8 1213.6 517.8 1213.7 518.8 1213.8 519.7 1213.8 520.7 1213.9 521.6 1214 522.6 1214 523.6 1214.1 524.5 1214.1 525.5 1214.2 526.4 1214.3 527.4 1214.3 528.4 1214.4 529.3 1214.4 530.3 1214.5 531.2 1214.5 532.2 1214.6 533.2 1214.6 534.1 1214.7 535.1 1214.7 536 1214.8 537 1214.8 538 1214.9 538.9 1214.9 539.9 1215 540.9 1215 541.8 1215 542.8 1215.1 543.7 1215.1 544.7 1215.2 545.7 1215.2 546.6 1215.2 547.6 1215.3 548.5 1215.3 549.5 1215.3 550.5 1215.4 551.4 1215.4 552.4 1215.4 553.3 1215.5 554.3 1215.5 555.3 1215.5 556.2 1215.6 557.2 1215.6 558.1 1215.6 559.1 1215.7 560.1 1215.7 561 1215.7 562 1215.7 562.9 1215.8 563.9 1215.8 564.9 1215.8 565.8 1215.9 566.8 1215.9 567.7 1215.9 568.7 1215.9 569.7 1216 570.6 1216 571.6 1216 572.6 1216 573.5 1216 574.5 1216.1 575.4 1216.1 576.4 1216.1 577.4 1216.1 578.3 1216.1 579.3 1216.2 580.2 1216.2 581.2 1216.2 582.2 1216.2 583.1 1216.2 584.1 1216.3 585 1216.3 586 1216.3 587 1216.3 587.9 1216.3 588.9 1216.4 589.8 1216.4 590.8 1216.4 591.8 1216.4 592.7 1216.4 593.7 1216.4 594.6 1216.5 595.6 1216.5 596.6 1216.5 597.5 1216.5 598.5 1216.5 599.5 1216.5 600.4 1216.5 601.4 1216.6 602.3 1216.6 603.3 1216.6 604.3 1216.6 605.2 1216.6 606.2 1216.6 607.1 1216.6 608.1 1216.6 609.1 1216.7 610 1216.7 611 1216.7 611.9 1216.7 612.9 1216.7 613.9 1216.7 614.8 1216.7 615.8 1216.7 616.7 1216.8 617.7 1216.8 618.7 1216.8 619.6 1216.8 620.6 1216.8 621.5 1216.8 622.5 1216.8 623.5 1216.8 624.4 1216.8 625.4 1216.8 626.3 1216.9 627.3 1216.9 628.3 1216.9 629.2 1216.9 630.2 1216.9 631.2 1216.9 632.1 1216.9 633.1 1216.9 634 1216.9 635 1216.9 636 1217 636.9 1217 637.9 1217 638.8 1217 639.8 1217 640.8 1217 641.7 1217 642.7 1217 643.6 1217 644.6 1217 645.6 1217 646.5 1217 647.5 1217 648.4 1217.1 649.4 1217.1 650.4 1217.1 651.3 1217.1 652.3 1217.1 653.2 1217.1 654.2 1217.1 655.2 1217.1 656.1 1217.1 657.1 1217.1 658.1 1217.1 659 1217.1 660 1217.1 660.9 1217.1 661.9 1217.1 662.9 1217.2 663.8 1217.2 664.8 1217.2 665.7 1217.2 666.7 1217.2 667.7 1217.2 668.6 1217.2 669.6 1217.2 670.5 1217.2 671.5 1217.2 672.5 1217.2 673.4 1217.2 674.4 1217.2 675.3 1217.2 676.3 1217.2 677.3 1217.2 678.2 1217.2 679.2 1217.3 680.1 1217.3 681.1 1217.3 682.1 1217.3 683 1217.3 684 1217.3 685 1217.3 685.9 1217.3 686.9 1217.3 687.8 1217.3 688.8 1217.3 689.8 1217.3 690.7 1217.3 691.7 1217.3 692.6 1217.3 693.6 1217.3 694.6 1217.3 695.5 1217.3 696.5 1217.3 697.4 1217.3 698.4 1217.3" fill="none" stroke="#00ffff" stroke-width="3.6" stroke-dasharray="5.5 10.5" stroke-linecap="round" stroke-linejoin="round"/><path d="M122.2 1216.5h0M123.2 1218.1h0M124.1 1214.8h0M125.1 1212.8h0M126 1210.7h0M127 1213.7h0M128 1215.7h0M128.9 1216.4h0M129.9 1211.8h0M130.8 1209.1h0M131.8 1213.2h0M132.8 1217.7h0M133.7 1216.9h0M134.7 1209.2h0M135.6 1213.4h0M136.6 1219.2h0M137.6 1214.2h0M138.5 1217.5h0M139.5 1215.9h0M140.4 1215.4h0M141.4 1216.1h0M142.4 1212.3h0M143.3 1214.1h0M144.3 1215.7h0M145.2 1212.7h0M146.2 1211.4h0M147.2 1218.8h0M148.1 1214.7h0M149.1 1216.8h0M150.1 1214.4h0M151 1217.7h0M152 1213.8h0M152.9 1214h0M153.9 1214.7h0M154.9 1217h0M155.8 1215h0M156.8 1217.1h0M157.7 1217.9h0M158.7 1213.1h0M159.7 1217.1h0M160.6 1210.2h0M161.6 1211.6h0M162.5 1219.7h0M163.5 1212.9h0M164.5 1217h0M165.4 1213.6h0M166.4 1213.6h0M167.3 1219.7h0M168.3 1214.4h0M169.3 1214.4h0M170.2 1210.8h0M171.2 1217.2h0M172.1 1211.4h0M173.1 1216.9h0M174.1 1214.6h0M175 1216.1h0M176 1209.2h0M177 1211.9h0M177.9 1206.2h0M178.9 1211.6h0M179.8 1211h0M180.8 1211h0M181.8 1215.3h0M182.7 1213.7h0M183.7 1209.4h0M184.6 1214.6h0M185.6 1212.9h0M186.6 1213.5h0M187.5 1211.6h0M188.5 1214.5h0M189.4 1213.8h0M190.4 1212.6h0M191.4 1213h0M192.3 1215.9h0M193.3 1210.6h0M194.2 1217.2h0M195.2 1216.9h0M196.2 1217.1h0M197.1 1210.3h0M198.1 1214.3h0M199 1216.1h0M200 1216.6h0M201 1211.9h0M201.9 1216.3h0M202.9 1217h0M203.8 1211.3h0M204.8 1216.7h0M205.8 1214.1h0M206.7 1213.1h0M207.7 1214.4h0M208.7 1213.2h0M209.6 1209h0M210.6 1214.5h0M211.5 1216.8h0M212.5 1218.5h0M213.5 1213.5h0M214.4 1214h0M215.4 1212.1h0M216.3 1214.3h0M217.3 1214.3h0M218.3 1215h0M219.2 1214.4h0M220.2 1212.3h0M221.1 1213.9h0M222.1 1212.4h0M223.1 1206.9h0M224 1211.2h0M225 1217.4h0M225.9 1207.4h0M226.9 1211.5h0M227.9 1215.4h0M228.8 1209.8h0M229.8 1212.4h0M230.7 1214.3h0M231.7 1214.4h0M232.7 1215.4h0M233.6 1212.2h0M234.6 1209.1h0M235.6 1213.3h0M236.5 1211h0M237.5 1206.6h0M238.4 1215.9h0M239.4 1211.4h0M240.4 1213.1h0M241.3 1215.3h0M242.3 1215.2h0M243.2 1212.1h0M244.2 1210.7h0M245.2 1213.6h0M246.1 1211.8h0M247.1 1209.7h0M248 1211h0M249 1209.2h0M250 1210.4h0M250.9 1210.3h0M251.9 1206.2h0M252.8 1209.8h0M253.8 1211.2h0M254.8 1209.4h0M255.7 1214.3h0M256.7 1212.5h0M257.6 1209h0M258.6 1209.5h0M259.6 1206.6h0M260.5 1211.3h0M261.5 1215.7h0M262.4 1205.3h0M263.4 1207.8h0M264.4 1214.3h0M265.3 1206.8h0M266.3 1210.9h0M267.3 1216.4h0M268.2 1212.1h0M269.2 1212.3h0M270.1 1205.9h0M271.1 1213.1h0M272.1 1211.4h0M273 1211.4h0M274 1211.6h0M274.9 1213.2h0M275.9 1209.7h0M276.9 1207h0M277.8 1208.3h0M278.8 1213h0M279.7 1213.6h0M280.7 1209.6h0M281.7 1212.1h0M282.6 1211.8h0M283.6 1214.9h0M284.5 1203.7h0M285.5 1206.8h0M286.5 1212.5h0M287.4 1206.6h0M288.4 1205.2h0M289.3 1216.6h0M290.3 1210.8h0M291.3 1210.2h0M292.2 1206.9h0M293.2 1209.2h0M294.2 1209.4h0M295.1 1208.8h0M296.1 1202.8h0M297 1201.7h0M298 1209.9h0M299 1211h0M299.9 1199.7h0M300.9 1210.9h0M301.8 1209.5h0M302.8 1207.5h0M303.8 1206h0M304.7 1204.2h0M305.7 1206h0M306.6 1209.8h0M307.6 1205.3h0M308.6 1206h0M309.5 1200.7h0M310.5 1206.5h0M311.4 1210.4h0M312.4 1209.3h0M313.4 1201.4h0M314.3 1207.4h0M315.3 1212.1h0M316.2 1207.1h0M317.2 1205.1h0M318.2 1201.2h0M319.1 1207.9h0M320.1 1202.4h0M321.1 1201.7h0M322 1206.2h0M323 1204.3h0M323.9 1197.9h0M324.9 1197.8h0M325.9 1200.2h0M326.8 1201.6h0M327.8 1198.7h0M328.7 1202.5h0M329.7 1202.1h0M330.7 1204.2h0M331.6 1201.1h0M332.6 1201h0M333.5 1191.5h0M334.5 1200.6h0M335.5 1195.5h0M336.4 1195h0M337.4 1199.4h0M338.3 1194.6h0M339.3 1205h0M340.3 1197.1h0M341.2 1194.2h0M342.2 1204.3h0M343.1 1199.7h0M344.1 1191.9h0M345.1 1195.7h0M346 1197.8h0M347 1194.8h0M347.9 1194.7h0M348.9 1189.9h0M349.9 1190h0M350.8 1191.8h0M351.8 1192.3h0M352.8 1189.4h0M353.7 1183.9h0M354.7 1186.3h0M355.6 1184.4h0M356.6 1186.1h0M357.6 1189h0M358.5 1186h0M359.5 1180.2h0M360.4 1180.9h0M361.4 1183.2h0M362.4 1184.4h0M363.3 1177h0M364.3 1177.2h0M365.2 1175.8h0M366.2 1174.2h0M367.2 1170.3h0M368.1 1168.6h0M369.1 1164.3h0M370 1162.6h0M371 1159.1h0M372 1159h0M372.9 1161.2h0M373.9 1157.9h0M374.8 1153.5h0M375.8 1154.2h0M376.8 1148.5h0M377.7 1143.6h0M378.7 1148.6h0M379.7 1149.9h0M380.6 1135.4h0M381.6 1137.4h0M382.5 1131.9h0M383.5 1137.5h0M384.5 1122.3h0M385.4 1123.8h0M386.4 1124.9h0M387.3 1123.4h0M388.3 1119.3h0M389.3 1118.4h0M390.2 1117.1h0M391.2 1119.1h0M392.1 1107.6h0M393.1 1112.1h0M394.1 1110.8h0M395 1110.3h0M396 1120.7h0M396.9 1108.2h0M397.9 1112.2h0M398.9 1112.6h0M399.8 1111.8h0M400.8 1117.2h0M401.7 1110.5h0M402.7 1118.4h0M403.7 1120.6h0M404.6 1121.9h0M405.6 1119.1h0M406.5 1118.2h0M407.5 1125.5h0M408.5 1130.9h0M409.4 1121.9h0M410.4 1132.4h0M411.4 1124.8h0M412.3 1131.7h0M413.3 1136h0M414.2 1137.5h0M415.2 1134.7h0M416.2 1134.7h0M417.1 1140.8h0M418.1 1138h0M419 1135.2h0M420 1145.9h0M421 1151.3h0M421.9 1152.6h0M422.9 1155.5h0M423.8 1154.3h0M424.8 1156.2h0M425.8 1160.1h0M426.7 1154.6h0M427.7 1168.1h0M428.6 1164.8h0M429.6 1153.8h0M430.6 1159h0M431.5 1162.4h0M432.5 1164.1h0M433.4 1160.7h0M434.4 1166.6h0M435.4 1169.6h0M436.3 1175.6h0M437.3 1172.7h0M438.3 1176.4h0M439.2 1177.5h0M440.2 1178.6h0M441.1 1177.4h0M442.1 1179.5h0M443.1 1176.4h0M444 1185.1h0M445 1182.1h0M445.9 1176h0M446.9 1183.3h0M447.9 1180.2h0M448.8 1181.3h0M449.8 1181.6h0M450.7 1184.4h0M451.7 1192.4h0M452.7 1189.4h0M453.6 1190.5h0M454.6 1195.1h0M455.5 1192.2h0M456.5 1195.4h0M457.5 1197.5h0M458.4 1191.8h0M459.4 1193.3h0M460.3 1196h0M461.3 1197.4h0M462.3 1196.6h0M463.2 1196.6h0M464.2 1197.2h0M465.2 1196.5h0M466.1 1198.2h0M467.1 1196h0M468 1196h0M469 1197h0M470 1200.7h0M470.9 1200.9h0M471.9 1197.9h0M472.8 1200.4h0M473.8 1200.2h0M474.8 1208.4h0M475.7 1209.4h0M476.7 1200h0M477.6 1200.4h0M478.6 1197.3h0M479.6 1199.7h0M480.5 1201.6h0M481.5 1202.5h0M482.4 1207.4h0M483.4 1200.3h0M484.4 1205.3h0M485.3 1202h0M486.3 1203.2h0M487.2 1203.2h0M488.2 1201.5h0M489.2 1206.1h0M490.1 1206h0M491.1 1207.7h0M492 1206.4h0M493 1200.2h0M494 1206.7h0M494.9 1202h0M495.9 1203.3h0M496.9 1203.8h0M497.8 1203.8h0M498.8 1209.6h0M499.7 1205.4h0M500.7 1201.8h0M501.7 1209.1h0M502.6 1207.2h0M503.6 1209.3h0M504.5 1206.4h0M505.5 1210.8h0M506.5 1202.6h0M507.4 1208.9h0M508.4 1212.6h0M509.3 1202.5h0M510.3 1205.1h0M511.3 1206.6h0M512.2 1206.7h0M513.2 1209.6h0M514.1 1209.3h0M515.1 1206.4h0M516.1 1206h0M517 1206h0M518 1208.3h0M518.9 1210.5h0M519.9 1209.8h0M520.9 1205.9h0M521.8 1204.9h0M522.8 1210.5h0M523.8 1211h0M524.7 1205.8h0M525.7 1207.5h0M526.6 1207.7h0M527.6 1213.9h0M528.6 1211.1h0M529.5 1211.6h0M530.5 1209.5h0M531.4 1215.3h0M532.4 1206.4h0M533.4 1209.4h0M534.3 1209.1h0M535.3 1214.1h0M536.2 1210.6h0M537.2 1206.5h0M538.2 1215.4h0M539.1 1209.8h0M540.1 1208.6h0M541 1212.9h0M542 1208.4h0M543 1211.9h0M543.9 1207.2h0M544.9 1209.4h0M545.8 1210.4h0M546.8 1205h0M547.8 1208.7h0M548.7 1207.3h0M549.7 1214.9h0M550.6 1213.3h0M551.6 1208.9h0M552.6 1208.7h0M553.5 1211.7h0M554.5 1209.2h0M555.5 1214.8h0M556.4 1211h0M557.4 1215.1h0M558.3 1210.7h0M559.3 1213.2h0M560.3 1213.7h0M561.2 1211.7h0M562.2 1206.4h0M563.1 1215h0M564.1 1213.8h0M565.1 1208.7h0M566 1213.3h0M567 1206.7h0M567.9 1211.4h0M568.9 1211.9h0M569.9 1211.1h0M570.8 1206.9h0M571.8 1210.2h0M572.7 1210.7h0M573.7 1211.5h0M574.7 1217h0M575.6 1215h0M576.6 1207.9h0M577.5 1209.9h0M578.5 1210.9h0M579.5 1210.5h0M580.4 1214.1h0M581.4 1211.5h0M582.4 1215.3h0M583.3 1211.4h0M584.3 1214.8h0M585.2 1213.3h0M586.2 1211.3h0M587.2 1213.7h0M588.1 1210.8h0M589.1 1211.4h0M590 1211.7h0M591 1208.8h0M592 1217.3h0M592.9 1217.6h0M593.9 1211h0M594.8 1210h0M595.8 1206.8h0M596.8 1210.6h0M597.7 1210.4h0M598.7 1215.6h0M599.6 1210.7h0M600.6 1211h0M601.6 1216.2h0M602.5 1215.7h0M603.5 1213.4h0M604.4 1212.2h0M605.4 1222h0M606.4 1212.9h0M607.3 1212.4h0M608.3 1213.7h0M609.3 1212.4h0M610.2 1211.8h0M611.2 1216.3h0M612.1 1212h0M613.1 1214h0M614.1 1216.1h0M615 1212.7h0M616 1208.8h0M616.9 1217.7h0M617.9 1218.3h0M618.9 1218.3h0M619.8 1207.4h0M620.8 1214.1h0M621.7 1213.6h0M622.7 1215.8h0M623.7 1216.2h0M624.6 1219.5h0M625.6 1212.9h0M626.5 1212.7h0M627.5 1219.4h0M628.5 1216.6h0M629.4 1215.7h0M630.4 1213.6h0M631.3 1212.8h0M632.3 1210.2h0M633.3 1209.5h0M634.2 1210.4h0M635.2 1209.6h0M636.1 1217.1h0M637.1 1215.3h0M638.1 1210.2h0M639 1212.8h0M640 1213.6h0M641 1219.6h0M641.9 1219.3h0M642.9 1211.5h0M643.8 1212.7h0M644.8 1214.6h0M645.8 1215h0M646.7 1218.9h0M647.7 1212.6h0M648.6 1210.6h0M649.6 1208.8h0M650.6 1213.6h0M651.5 1214.4h0M652.5 1217.1h0M653.4 1210.1h0M654.4 1208.7h0M655.4 1215.7h0M656.3 1213h0M657.3 1213.6h0M658.2 1215.6h0M659.2 1221.4h0M660.2 1215h0M661.1 1212.1h0M662.1 1218.2h0M663 1216.4h0M664 1223.8h0M665 1210.1h0M665.9 1212.4h0M666.9 1213.8h0M667.9 1214.8h0M668.8 1215.9h0M669.8 1214.2h0M670.7 1214.9h0M671.7 1214.7h0M672.7 1214.1h0M673.6 1213.6h0M674.6 1209.4h0M675.5 1218.4h0M676.5 1213.2h0M677.5 1215.9h0M678.4 1217.4h0M679.4 1221.1h0M680.3 1212.2h0M681.3 1217h0M682.3 1216.3h0M683.2 1212.7h0M684.2 1217.4h0M685.1 1214h0M686.1 1214.3h0M687.1 1211.7h0M688 1211.1h0M689 1216.7h0M689.9 1211.4h0M690.9 1214.4h0M691.9 1213.8h0M692.8 1214.8h0M693.8 1211.8h0M694.7 1217.8h0M695.7 1213.4h0M696.7 1210.7h0M697.6 1215h0" fill="none" stroke="#00aaaa" stroke-width="4.6" stroke-linecap="round"/><path d="M122 1214.1L123 1214.1 123.9 1214.1 124.9 1214.1 125.8 1214.1 126.8 1214.1 127.8 1214.1 128.7 1214.1 129.7 1214 130.6 1214 131.6 1214 132.6 1214 133.5 1214 134.5 1214 135.4 1214 136.4 1214 137.4 1214 138.3 1214 139.3 1214 140.3 1214 141.2 1214 142.2 1213.9 143.1 1213.9 144.1 1213.9 145.1 1213.9 146 1213.9 147 1213.9 147.9 1213.9 148.9 1213.9 149.9 1213.9 150.8 1213.9 151.8 1213.9 152.7 1213.8 153.7 1213.8 154.7 1213.8 155.6 1213.8 156.6 1213.8 157.5 1213.8 158.5 1213.8 159.5 1213.8 160.4 1213.8 161.4 1213.8 162.3 1213.7 163.3 1213.7 164.3 1213.7 165.2 1213.7 166.2 1213.7 167.2 1213.7 168.1 1213.7 169.1 1213.7 170 1213.7 171 1213.6 172 1213.6 172.9 1213.6 173.9 1213.6 174.8 1213.6 175.8 1213.6 176.8 1213.6 177.7 1213.6 178.7 1213.5 179.6 1213.5 180.6 1213.5 181.6 1213.5 182.5 1213.5 183.5 1213.5 184.4 1213.5 185.4 1213.4 186.4 1213.4 187.3 1213.4 188.3 1213.4 189.2 1213.4 190.2 1213.4 191.2 1213.3 192.1 1213.3 193.1 1213.3 194.1 1213.3 195 1213.3 196 1213.3 196.9 1213.3 197.9 1213.2 198.9 1213.2 199.8 1213.2 200.8 1213.2 201.7 1213.2 202.7 1213.1 203.7 1213.1 204.6 1213.1 205.6 1213.1 206.5 1213.1 207.5 1213 208.5 1213 209.4 1213 210.4 1213 211.3 1213 212.3 1212.9 213.3 1212.9 214.2 1212.9 215.2 1212.9 216.1 1212.9 217.1 1212.8 218.1 1212.8 219 1212.8 220 1212.8 220.9 1212.7 221.9 1212.7 222.9 1212.7 223.8 1212.7 224.8 1212.6 225.8 1212.6 226.7 1212.6 227.7 1212.6 228.6 1212.5 229.6 1212.5 230.6 1212.5 231.5 1212.4 232.5 1212.4 233.4 1212.4 234.4 1212.4 235.4 1212.3 236.3 1212.3 237.3 1212.3 238.2 1212.2 239.2 1212.2 240.2 1212.2 241.1 1212.1 242.1 1212.1 243 1212.1 244 1212 245 1212 245.9 1211.9 246.9 1211.9 247.8 1211.9 248.8 1211.8 249.8 1211.8 250.7 1211.8 251.7 1211.7 252.7 1211.7 253.6 1211.6 254.6 1211.6 255.5 1211.5 256.5 1211.5 257.5 1211.4 258.4 1211.4 259.4 1211.3 260.3 1211.3 261.3 1211.2 262.3 1211.2 263.2 1211.1 264.2 1211.1 265.1 1211 266.1 1211 267.1 1210.9 268 1210.9 269 1210.8 269.9 1210.7 270.9 1210.7 271.9 1210.6 272.8 1210.6 273.8 1210.5 274.7 1210.4 275.7 1210.4 276.7 1210.3 277.6 1210.2 278.6 1210.1 279.5 1210.1 280.5 1210 281.5 1209.9 282.4 1209.8 283.4 1209.8 284.4 1209.7 285.3 1209.6 286.3 1209.5 287.2 1209.4 288.2 1209.3 289.2 1209.2 290.1 1209.1 291.1 1209 292 1208.9 293 1208.8 294 1208.7 294.9 1208.6 295.9 1208.5 296.8 1208.4 297.8 1208.3 298.8 1208.2 299.7 1208 300.7 1207.9 301.6 1207.8 302.6 1207.7 303.6 1207.5 304.5 1207.4 305.5 1207.2 306.4 1207.1 307.4 1206.9 308.4 1206.8 309.3 1206.6 310.3 1206.4 311.3 1206.3 312.2 1206.1 313.2 1205.9 314.1 1205.7 315.1 1205.5 316.1 1205.3 317 1205.1 318 1204.9 318.9 1204.7 319.9 1204.5 320.9 1204.3 321.8 1204 322.8 1203.8 323.7 1203.5 324.7 1203.3 325.7 1203 326.6 1202.7 327.6 1202.4 328.5 1202.1 329.5 1201.8 330.5 1201.5 331.4 1201.2 332.4 1200.8 333.3 1200.5 334.3 1200.1 335.3 1199.7 336.2 1199.3 337.2 1198.9 338.1 1198.5 339.1 1198 340.1 1197.5 341 1197.1 342 1196.6 343 1196 343.9 1195.5 344.9 1194.9 345.8 1194.3 346.8 1193.7 347.8 1193.1 348.7 1192.4 349.7 1191.7 350.6 1191 351.6 1190.2 352.6 1189.4 353.5 1188.6 354.5 1187.7 355.4 1186.8 356.4 1185.8 357.4 1184.8 358.3 1183.8 359.3 1182.7 360.2 1181.5 361.2 1180.3 362.2 1179 363.1 1177.7 364.1 1176.3 365 1174.8 366 1173.3 367 1171.7 367.9 1170 368.9 1168.2 369.9 1166.4 370.8 1164.4 371.8 1162.4 372.7 1160.3 373.7 1158.1 374.7 1155.9 375.6 1153.5 376.6 1151.1 377.5 1148.6 378.5 1146 379.5 1143.4 380.4 1140.7 381.4 1138 382.3 1135.3 383.3 1132.6 384.3 1129.9 385.2 1127.3 386.2 1124.8 387.1 1122.4 388.1 1120.2 389.1 1118.1 390 1116.3 391 1114.6 391.9 1113.2 392.9 1112.1 393.9 1111.3 394.8 1110.8 395.8 1110.5 396.8 1110.5 397.7 1110.7 398.7 1111.2 399.6 1111.9 400.6 1112.8 401.6 1113.9 402.5 1115.1 403.5 1116.5 404.4 1117.9 405.4 1119.4 406.4 1121 407.3 1122.6 408.3 1124.3 409.2 1126 410.2 1127.7 411.2 1129.4 412.1 1131.1 413.1 1132.8 414 1134.5 415 1136.3 416 1138 416.9 1139.7 417.9 1141.4 418.8 1143.1 419.8 1144.8 420.8 1146.5 421.7 1148.2 422.7 1149.8 423.6 1151.5 424.6 1153.1 425.6 1154.7 426.5 1156.3 427.5 1157.9 428.5 1159.5 429.4 1161 430.4 1162.5 431.3 1164 432.3 1165.5 433.3 1166.9 434.2 1168.3 435.2 1169.6 436.1 1170.9 437.1 1172.2 438.1 1173.5 439 1174.7 440 1175.9 440.9 1177 441.9 1178.1 442.9 1179.2 443.8 1180.3 444.8 1181.3 445.7 1182.3 446.7 1183.2 447.7 1184.1 448.6 1185 449.6 1185.9 450.5 1186.7 451.5 1187.5 452.5 1188.3 453.4 1189 454.4 1189.8 455.4 1190.5 456.3 1191.1 457.3 1191.8 458.2 1192.4 459.2 1193 460.2 1193.6 461.1 1194.2 462.1 1194.7 463 1195.3 464 1195.8 465 1196.3 465.9 1196.7 466.9 1197.2 467.8 1197.6 468.8 1198.1 469.8 1198.5 470.7 1198.9 471.7 1199.3 472.6 1199.6 473.6 1200 474.6 1200.4 475.5 1200.7 476.5 1201 477.4 1201.4 478.4 1201.7 479.4 1202 480.3 1202.3 481.3 1202.5 482.2 1202.8 483.2 1203.1 484.2 1203.3 485.1 1203.6 486.1 1203.8 487.1 1204.1 488 1204.3 489 1204.5 489.9 1204.7 490.9 1204.9 491.9 1205.1 492.8 1205.3 493.8 1205.5 494.7 1205.7 495.7 1205.9 496.7 1206.1 497.6 1206.2 498.6 1206.4 499.5 1206.6 500.5 1206.7 501.5 1206.9 502.4 1207 503.4 1207.2 504.3 1207.3 505.3 1207.5 506.3 1207.6 507.2 1207.7 508.2 1207.8 509.1 1208 510.1 1208.1 511.1 1208.2 512 1208.3 513 1208.4 514 1208.6 514.9 1208.7 515.9 1208.8 516.8 1208.9 517.8 1209 518.8 1209.1 519.7 1209.2 520.7 1209.3 521.6 1209.3 522.6 1209.4 523.6 1209.5 524.5 1209.6 525.5 1209.7 526.4 1209.8 527.4 1209.9 528.4 1209.9 529.3 1210 530.3 1210.1 531.2 1210.2 532.2 1210.2 533.2 1210.3 534.1 1210.4 535.1 1210.4 536 1210.5 537 1210.6 538 1210.6 538.9 1210.7 539.9 1210.7 540.9 1210.8 541.8 1210.9 542.8 1210.9 543.7 1211 544.7 1211 545.7 1211.1 546.6 1211.1 547.6 1211.2 548.5 1211.2 549.5 1211.3 550.5 1211.3 551.4 1211.4 552.4 1211.4 553.3 1211.5 554.3 1211.5 555.3 1211.6 556.2 1211.6 557.2 1211.7 558.1 1211.7 559.1 1211.7 560.1 1211.8 561 1211.8 562 1211.9 562.9 1211.9 563.9 1211.9 564.9 1212 565.8 1212 566.8 1212 567.7 1212.1 568.7 1212.1 569.7 1212.2 570.6 1212.2 571.6 1212.2 572.6 1212.3 573.5 1212.3 574.5 1212.3 575.4 1212.3 576.4 1212.4 577.4 1212.4 578.3 1212.4 579.3 1212.5 580.2 1212.5 581.2 1212.5 582.2 1212.5 583.1 1212.6 584.1 1212.6 585 1212.6 586 1212.7 587 1212.7 587.9 1212.7 588.9 1212.7 589.8 1212.8 590.8 1212.8 591.8 1212.8 592.7 1212.8 593.7 1212.8 594.6 1212.9 595.6 1212.9 596.6 1212.9 597.5 1212.9 598.5 1213 599.5 1213 600.4 1213 601.4 1213 602.3 1213 603.3 1213.1 604.3 1213.1 605.2 1213.1 606.2 1213.1 607.1 1213.1 608.1 1213.2 609.1 1213.2 610 1213.2 611 1213.2 611.9 1213.2 612.9 1213.2 613.9 1213.3 614.8 1213.3 615.8 1213.3 616.7 1213.3 617.7 1213.3 618.7 1213.3 619.6 1213.4 620.6 1213.4 621.5 1213.4 622.5 1213.4 623.5 1213.4 624.4 1213.4 625.4 1213.4 626.3 1213.5 627.3 1213.5 628.3 1213.5 629.2 1213.5 630.2 1213.5 631.2 1213.5 632.1 1213.5 633.1 1213.6 634 1213.6 635 1213.6 636 1213.6 636.9 1213.6 637.9 1213.6 638.8 1213.6 639.8 1213.6 640.8 1213.7 641.7 1213.7 642.7 1213.7 643.6 1213.7 644.6 1213.7 645.6 1213.7 646.5 1213.7 647.5 1213.7 648.4 1213.7 649.4 1213.8 650.4 1213.8 651.3 1213.8 652.3 1213.8 653.2 1213.8 654.2 1213.8 655.2 1213.8 656.1 1213.8 657.1 1213.8 658.1 1213.8 659 1213.9 660 1213.9 660.9 1213.9 661.9 1213.9 662.9 1213.9 663.8 1213.9 664.8 1213.9 665.7 1213.9 666.7 1213.9 667.7 1213.9 668.6 1213.9 669.6 1214 670.5 1214 671.5 1214 672.5 1214 673.4 1214 674.4 1214 675.3 1214 676.3 1214 677.3 1214 678.2 1214 679.2 1214 680.1 1214 681.1 1214.1 682.1 1214.1 683 1214.1 684 1214.1 685 1214.1 685.9 1214.1 686.9 1214.1 687.8 1214.1 688.8 1214.1 689.8 1214.1 690.7 1214.1 691.7 1214.1 692.6 1214.1 693.6 1214.1 694.6 1214.1 695.5 1214.2 696.5 1214.2 697.4 1214.2 698.4 1214.2" fill="none" stroke="#00aaaa" stroke-width="3.9" stroke-linejoin="round"/></g>
<g clip-path="url(#c3)"><path d="M922.2 1214.9h0M923.2 1214h0M924.1 1215.7h0M925.1 1217.4h0M926 1216.2h0M927 1217.7h0M928 1214.7h0M928.9 1211h0M929.9 1216.2h0M930.8 1216.6h0M931.8 1213.4h0M932.8 1213.8h0M933.7 1214.5h0M934.7 1217.4h0M935.6 1214.9h0M936.6 1212.8h0M937.6 1218.6h0M938.5 1216.1h0M939.5 1220.2h0M940.4 1218.4h0M941.4 1220h0M942.4 1215.4h0M943.3 1218.3h0M944.3 1213.9h0M945.2 1214.2h0M946.2 1215.2h0M947.2 1221.8h0M948.1 1216.2h0M949.1 1214.8h0M950.1 1214.3h0M951 1219h0M952 1216h0M952.9 1217.4h0M953.9 1216.9h0M954.9 1211.6h0M955.8 1216.9h0M956.8 1214.7h0M957.7 1212h0M958.7 1216.2h0M959.7 1214.8h0M960.6 1214.2h0M961.6 1214.3h0M962.5 1218h0M963.5 1214.3h0M964.5 1210.6h0M965.4 1218.9h0M966.4 1212h0M967.3 1214.1h0M968.3 1216.2h0M969.3 1208.7h0M970.2 1212.2h0M971.2 1217.8h0M972.1 1214.2h0M973.1 1212.7h0M974.1 1214.9h0M975 1212.4h0M976 1214.5h0M977 1212.4h0M977.9 1210.2h0M978.9 1216.2h0M979.8 1213.7h0M980.8 1215.6h0M981.8 1213.9h0M982.7 1217.6h0M983.7 1215.8h0M984.6 1214.7h0M985.6 1211.6h0M986.6 1210.9h0M987.5 1217.9h0M988.5 1216.4h0M989.4 1212.2h0M990.4 1219.8h0M991.4 1215.4h0M992.3 1214.3h0M993.3 1210.4h0M994.2 1212h0M995.2 1214.9h0M996.2 1215h0M997.1 1214.7h0M998.1 1209.6h0M999 1215.1h0M1000 1214.8h0M1001 1212.9h0M1001.9 1214.2h0M1002.9 1214.4h0M1003.8 1217h0M1004.8 1213.8h0M1005.8 1215h0M1006.7 1210.4h0M1007.7 1211.8h0M1008.7 1213.8h0M1009.6 1211.8h0M1010.6 1214.6h0M1011.5 1210.6h0M1012.5 1213.6h0M1013.5 1211.9h0M1014.4 1217.3h0M1015.4 1212.5h0M1016.3 1218.4h0M1017.3 1219.3h0M1018.3 1214.3h0M1019.2 1216h0M1020.2 1212.9h0M1021.1 1206.9h0M1022.1 1215.7h0M1023.1 1215.1h0M1024 1212.7h0M1025 1211.8h0M1025.9 1213.7h0M1026.9 1213.8h0M1027.9 1211.1h0M1028.8 1211.6h0M1029.8 1216.1h0M1030.7 1213.3h0M1031.7 1212.9h0M1032.7 1216.1h0M1033.6 1212.2h0M1034.6 1215.4h0M1035.6 1210.1h0M1036.5 1212.3h0M1037.5 1212.6h0M1038.4 1214.5h0M1039.4 1213.1h0M1040.4 1218.5h0M1041.3 1216h0M1042.3 1211.6h0M1043.2 1218.8h0M1044.2 1210.1h0M1045.2 1217.6h0M1046.1 1210.3h0M1047.1 1214.9h0M1048 1210.1h0M1049 1212h0M1050 1216.8h0M1050.9 1208.6h0M1051.9 1208h0M1052.8 1212.4h0M1053.8 1212.9h0M1054.8 1212.5h0M1055.7 1214.9h0M1056.7 1208.8h0M1057.6 1213.5h0M1058.6 1212h0M1059.6 1214.1h0M1060.5 1213.6h0M1061.5 1215.4h0M1062.4 1207.9h0M1063.4 1212h0M1064.4 1208.7h0M1065.3 1211.4h0M1066.3 1213.4h0M1067.3 1212.3h0M1068.2 1212.9h0M1069.2 1211.2h0M1070.1 1212.2h0M1071.1 1211.9h0M1072.1 1215h0M1073 1213.3h0M1074 1206h0M1074.9 1212.7h0M1075.9 1213.8h0M1076.9 1209.6h0M1077.8 1206.4h0M1078.8 1214.7h0M1079.7 1211h0M1080.7 1212.1h0M1081.7 1215.4h0M1082.6 1207.9h0M1083.6 1210h0M1084.5 1209.7h0M1085.5 1212h0M1086.5 1208.3h0M1087.4 1211.2h0M1088.4 1209.9h0M1089.3 1212.7h0M1090.3 1212.9h0M1091.3 1205.2h0M1092.2 1210.5h0M1093.2 1208h0M1094.2 1208.9h0M1095.1 1210h0M1096.1 1210.1h0M1097 1206.5h0M1098 1209.2h0M1099 1208.6h0M1099.9 1207.9h0M1100.9 1204.3h0M1101.8 1205.6h0M1102.8 1206.4h0M1103.8 1209.1h0M1104.7 1211.4h0M1105.7 1204.2h0M1106.6 1203.9h0M1107.6 1207.1h0M1108.6 1204.9h0M1109.5 1203.9h0M1110.5 1203.6h0M1111.4 1203.1h0M1112.4 1207.1h0M1113.4 1200.8h0M1114.3 1209.1h0M1115.3 1202.4h0M1116.2 1203.3h0M1117.2 1201.9h0M1118.2 1198.5h0M1119.1 1199.5h0M1120.1 1207.4h0M1121.1 1208.8h0M1122 1200.7h0M1123 1206.1h0M1123.9 1202.7h0M1124.9 1199.7h0M1125.9 1207.2h0M1126.8 1208.4h0M1127.8 1200.5h0M1128.7 1200.8h0M1129.7 1201.4h0M1130.7 1200.1h0M1131.6 1202.6h0M1132.6 1204.3h0M1133.5 1199.5h0M1134.5 1201.7h0M1135.5 1203.4h0M1136.4 1195.9h0M1137.4 1197.2h0M1138.3 1195.2h0M1139.3 1199.2h0M1140.3 1197.6h0M1141.2 1198.1h0M1142.2 1197.1h0M1143.1 1192.8h0M1144.1 1195.4h0M1145.1 1190.9h0M1146 1190.2h0M1147 1183.6h0M1147.9 1194.5h0M1148.9 1185.8h0M1149.9 1188.3h0M1150.8 1187.1h0M1151.8 1191.2h0M1152.8 1186.6h0M1153.7 1181.3h0M1154.7 1183.1h0M1155.6 1181.3h0M1156.6 1181.3h0M1157.6 1174.7h0M1158.5 1177.6h0M1159.5 1184.3h0M1160.4 1177.1h0M1161.4 1180.3h0M1162.4 1183.5h0M1163.3 1171.2h0M1164.3 1162h0M1165.2 1164.9h0M1166.2 1167.6h0M1167.2 1164.4h0M1168.1 1153.5h0M1169.1 1154.8h0M1170 1152.5h0M1171 1150h0M1172 1146.5h0M1172.9 1139.9h0M1173.9 1137.5h0M1174.8 1135.3h0M1175.8 1137.2h0M1176.8 1126.1h0M1177.7 1127.5h0M1178.7 1114.8h0M1179.7 1121.6h0M1180.6 1111.6h0M1181.6 1106.3h0M1182.5 1108.2h0M1183.5 1088h0M1184.5 1084.6h0M1185.4 1090h0M1186.4 1079.2h0M1187.3 1077.2h0M1188.3 1089.7h0M1189.3 1070.9h0M1190.2 1069.9h0M1191.2 1066.9h0M1192.1 1071.7h0M1193.1 1066.2h0M1194.1 1065.3h0M1195 1057.8h0M1196 1063.3h0M1196.9 1066.3h0M1197.9 1059.4h0M1198.9 1072.8h0M1199.8 1074.1h0M1200.8 1084.2h0M1201.7 1068.5h0M1202.7 1074.4h0M1203.7 1077.5h0M1204.6 1081.6h0M1205.6 1087.4h0M1206.5 1089.6h0M1207.5 1094.9h0M1208.5 1097.4h0M1209.4 1098.8h0M1210.4 1094.3h0M1211.4 1101.8h0M1212.3 1107.6h0M1213.3 1112.9h0M1214.2 1115.8h0M1215.2 1107.7h0M1216.2 1115.6h0M1217.1 1120.4h0M1218.1 1124.9h0M1219 1131.1h0M1220 1128.8h0M1221 1127.1h0M1221.9 1135.3h0M1222.9 1137.1h0M1223.8 1139.5h0M1224.8 1140.4h0M1225.8 1150.2h0M1226.7 1146.6h0M1227.7 1151.5h0M1228.6 1146.3h0M1229.6 1155.4h0M1230.6 1151.9h0M1231.5 1150.1h0M1232.5 1159.6h0M1233.4 1162.6h0M1234.4 1161.3h0M1235.4 1163.8h0M1236.3 1169.5h0M1237.3 1165.4h0M1238.3 1161h0M1239.2 1171.4h0M1240.2 1172.6h0M1241.1 1177.3h0M1242.1 1173.5h0M1243.1 1180.7h0M1244 1181.4h0M1245 1173.8h0M1245.9 1183h0M1246.9 1176.9h0M1247.9 1176.4h0M1248.8 1182h0M1249.8 1182h0M1250.7 1178h0M1251.7 1186.6h0M1252.7 1188.9h0M1253.6 1192.4h0M1254.6 1188.3h0M1255.5 1184.1h0M1256.5 1186.7h0M1257.5 1194h0M1258.4 1194.4h0M1259.4 1193.9h0M1260.3 1191.8h0M1261.3 1194.1h0M1262.3 1193.3h0M1263.2 1193.7h0M1264.2 1196.2h0M1265.2 1195.9h0M1266.1 1195.6h0M1267.1 1197.1h0M1268 1195.6h0M1269 1191.6h0M1270 1196.3h0M1270.9 1198.5h0M1271.9 1204.5h0M1272.8 1198.2h0M1273.8 1206.1h0M1274.8 1204.8h0M1275.7 1197.9h0M1276.7 1198.7h0M1277.6 1201.8h0M1278.6 1207.1h0M1279.6 1203.2h0M1280.5 1204.4h0M1281.5 1200.6h0M1282.4 1195.8h0M1283.4 1202.5h0M1284.4 1205.9h0M1285.3 1207.4h0M1286.3 1204.2h0M1287.2 1204.8h0M1288.2 1208.1h0M1289.2 1204.4h0M1290.1 1208.5h0M1291.1 1201.7h0M1292 1202.1h0M1293 1202.3h0M1294 1207.3h0M1294.9 1204.4h0M1295.9 1206.6h0M1296.9 1207.6h0M1297.8 1207.6h0M1298.8 1210.7h0M1299.7 1211.3h0M1300.7 1204.7h0M1301.7 1207.8h0M1302.6 1206.8h0M1303.6 1204.5h0M1304.5 1213h0M1305.5 1210.2h0M1306.5 1207.5h0M1307.4 1207h0M1308.4 1209.4h0M1309.3 1205.3h0M1310.3 1207.9h0M1311.3 1212.3h0M1312.2 1211.6h0M1313.2 1206.5h0M1314.1 1207.6h0M1315.1 1214.8h0M1316.1 1205.2h0M1317 1207.6h0M1318 1205.5h0M1318.9 1210.7h0M1319.9 1210.6h0M1320.9 1213.1h0M1321.8 1202.3h0M1322.8 1210.5h0M1323.8 1205.4h0M1324.7 1212.1h0M1325.7 1209.8h0M1326.6 1215.3h0M1327.6 1211.5h0M1328.6 1207.6h0M1329.5 1214.3h0M1330.5 1207.5h0M1331.4 1209.7h0M1332.4 1213.9h0M1333.4 1212.4h0M1334.3 1212.3h0M1335.3 1211.2h0M1336.2 1212.7h0M1337.2 1213.6h0M1338.2 1212.1h0M1339.1 1214.3h0M1340.1 1215.1h0M1341 1211.6h0M1342 1208.9h0M1343 1216h0M1343.9 1211.6h0M1344.9 1213.6h0M1345.8 1214.6h0M1346.8 1209.3h0M1347.8 1213.3h0M1348.7 1207.5h0M1349.7 1214.2h0M1350.6 1210.9h0M1351.6 1212.7h0M1352.6 1214.3h0M1353.5 1210.4h0M1354.5 1212.6h0M1355.5 1210.5h0M1356.4 1212.4h0M1357.4 1215.5h0M1358.3 1212.7h0M1359.3 1212.3h0M1360.3 1209.7h0M1361.2 1215.1h0M1362.2 1212.7h0M1363.1 1217.6h0M1364.1 1210.7h0M1365.1 1215.8h0M1366 1217.9h0M1367 1212.9h0M1367.9 1209.6h0M1368.9 1217.2h0M1369.9 1216h0M1370.8 1215h0M1371.8 1216.2h0M1372.7 1211.9h0M1373.7 1215.3h0M1374.7 1215.1h0M1375.6 1211.4h0M1376.6 1215.3h0M1377.5 1211.9h0M1378.5 1216h0M1379.5 1216.7h0M1380.4 1218.5h0M1381.4 1207.9h0M1382.4 1214.2h0M1383.3 1212.6h0M1384.3 1213.4h0M1385.2 1212.9h0M1386.2 1213.2h0M1387.2 1207.9h0M1388.1 1216.4h0M1389.1 1217.9h0M1390 1216.4h0M1391 1217.4h0M1392 1211.4h0M1392.9 1211.2h0M1393.9 1216.4h0M1394.8 1217.6h0M1395.8 1214.7h0M1396.8 1209.7h0M1397.7 1221.8h0M1398.7 1212.2h0M1399.6 1216.8h0M1400.6 1210.8h0M1401.6 1216.9h0M1402.5 1214.6h0M1403.5 1218.1h0M1404.4 1216.6h0M1405.4 1209.9h0M1406.4 1211.5h0M1407.3 1215h0M1408.3 1216.4h0M1409.3 1219.4h0M1410.2 1215.1h0M1411.2 1214.1h0M1412.1 1214.2h0M1413.1 1214.3h0M1414.1 1217.2h0M1415 1214.2h0M1416 1214.2h0M1416.9 1210.4h0M1417.9 1208.8h0M1418.9 1214.5h0M1419.8 1216.3h0M1420.8 1214.3h0M1421.7 1215.9h0M1422.7 1216.3h0M1423.7 1214.4h0M1424.6 1217.2h0M1425.6 1212.5h0M1426.5 1214.5h0M1427.5 1213.5h0M1428.5 1214.8h0M1429.4 1216.4h0M1430.4 1217h0M1431.3 1215h0M1432.3 1215.9h0M1433.3 1213.7h0M1434.2 1214.4h0M1435.2 1218.3h0M1436.1 1214.2h0M1437.1 1218.2h0M1438.1 1216.2h0M1439 1215.3h0M1440 1220.4h0M1441 1214.2h0M1441.9 1214h0M1442.9 1214.9h0M1443.8 1215.7h0M1444.8 1215.6h0M1445.8 1217.3h0M1446.7 1215.3h0M1447.7 1216.1h0M1448.6 1214.3h0M1449.6 1218h0M1450.6 1213.9h0M1451.5 1214.2h0M1452.5 1215h0M1453.4 1215.9h0M1454.4 1213h0M1455.4 1219.4h0M1456.3 1213.3h0M1457.3 1214h0M1458.2 1213.8h0M1459.2 1213.6h0M1460.2 1216.5h0M1461.1 1215.4h0M1462.1 1212.9h0M1463 1213.5h0M1464 1214.1h0M1465 1219h0M1465.9 1213.2h0M1466.9 1211.4h0M1467.9 1211.9h0M1468.8 1214.1h0M1469.8 1219.2h0M1470.7 1212.1h0M1471.7 1215.2h0M1472.7 1222h0M1473.6 1213.7h0M1474.6 1219.1h0M1475.5 1218.5h0M1476.5 1216.6h0M1477.5 1211.2h0M1478.4 1215.9h0M1479.4 1214.1h0M1480.3 1209.9h0M1481.3 1210.3h0M1482.3 1215.2h0M1483.2 1215.6h0M1484.2 1218.5h0M1485.1 1216.9h0M1486.1 1213.7h0M1487.1 1213.8h0M1488 1214.6h0M1489 1212.1h0M1489.9 1217.1h0M1490.9 1215.1h0M1491.9 1212.9h0M1492.8 1213.3h0M1493.8 1211.9h0M1494.7 1213.8h0M1495.7 1215.9h0M1496.7 1214h0M1497.6 1217.8h0" fill="none" stroke="#000000" stroke-width="4.6" stroke-linecap="round"/><path d="M922 1214.9L923 1214.9 923.9 1214.9 924.9 1214.9 925.8 1214.9 926.8 1214.9 927.8 1214.9 928.7 1214.8 929.7 1214.8 930.6 1214.8 931.6 1214.8 932.6 1214.8 933.5 1214.8 934.5 1214.8 935.4 1214.8 936.4 1214.8 937.4 1214.8 938.3 1214.8 939.3 1214.8 940.3 1214.7 941.2 1214.7 942.2 1214.7 943.1 1214.7 944.1 1214.7 945.1 1214.7 946 1214.7 947 1214.7 947.9 1214.7 948.9 1214.7 949.9 1214.6 950.8 1214.6 951.8 1214.6 952.7 1214.6 953.7 1214.6 954.7 1214.6 955.6 1214.6 956.6 1214.6 957.5 1214.6 958.5 1214.5 959.5 1214.5 960.4 1214.5 961.4 1214.5 962.3 1214.5 963.3 1214.5 964.3 1214.5 965.2 1214.5 966.2 1214.4 967.2 1214.4 968.1 1214.4 969.1 1214.4 970 1214.4 971 1214.4 972 1214.4 972.9 1214.4 973.9 1214.3 974.8 1214.3 975.8 1214.3 976.8 1214.3 977.7 1214.3 978.7 1214.3 979.6 1214.3 980.6 1214.2 981.6 1214.2 982.5 1214.2 983.5 1214.2 984.4 1214.2 985.4 1214.2 986.4 1214.1 987.3 1214.1 988.3 1214.1 989.2 1214.1 990.2 1214.1 991.2 1214.1 992.1 1214 993.1 1214 994 1214 995 1214 996 1214 996.9 1214 997.9 1213.9 998.9 1213.9 999.8 1213.9 1000.8 1213.9 1001.7 1213.9 1002.7 1213.8 1003.7 1213.8 1004.6 1213.8 1005.6 1213.8 1006.5 1213.7 1007.5 1213.7 1008.5 1213.7 1009.4 1213.7 1010.4 1213.7 1011.3 1213.6 1012.3 1213.6 1013.3 1213.6 1014.2 1213.6 1015.2 1213.5 1016.1 1213.5 1017.1 1213.5 1018.1 1213.5 1019 1213.4 1020 1213.4 1020.9 1213.4 1021.9 1213.3 1022.9 1213.3 1023.8 1213.3 1024.8 1213.3 1025.8 1213.2 1026.7 1213.2 1027.7 1213.2 1028.6 1213.1 1029.6 1213.1 1030.6 1213.1 1031.5 1213 1032.5 1213 1033.4 1213 1034.4 1212.9 1035.4 1212.9 1036.3 1212.9 1037.3 1212.8 1038.2 1212.8 1039.2 1212.8 1040.2 1212.7 1041.1 1212.7 1042.1 1212.6 1043 1212.6 1044 1212.6 1045 1212.5 1045.9 1212.5 1046.9 1212.4 1047.8 1212.4 1048.8 1212.4 1049.8 1212.3 1050.7 1212.3 1051.7 1212.2 1052.7 1212.2 1053.6 1212.1 1054.6 1212.1 1055.5 1212 1056.5 1212 1057.5 1211.9 1058.4 1211.9 1059.4 1211.8 1060.3 1211.8 1061.3 1211.7 1062.3 1211.6 1063.2 1211.6 1064.2 1211.5 1065.1 1211.5 1066.1 1211.4 1067.1 1211.3 1068 1211.3 1069 1211.2 1069.9 1211.1 1070.9 1211.1 1071.9 1211 1072.8 1210.9 1073.8 1210.8 1074.7 1210.8 1075.7 1210.7 1076.7 1210.6 1077.6 1210.5 1078.6 1210.4 1079.5 1210.4 1080.5 1210.3 1081.5 1210.2 1082.4 1210.1 1083.4 1210 1084.4 1209.9 1085.3 1209.8 1086.3 1209.7 1087.2 1209.6 1088.2 1209.5 1089.2 1209.4 1090.1 1209.3 1091.1 1209.2 1092 1209.1 1093 1208.9 1094 1208.8 1094.9 1208.7 1095.9 1208.6 1096.8 1208.4 1097.8 1208.3 1098.8 1208.2 1099.7 1208 1100.7 1207.9 1101.6 1207.7 1102.6 1207.6 1103.6 1207.4 1104.5 1207.2 1105.5 1207.1 1106.4 1206.9 1107.4 1206.7 1108.4 1206.5 1109.3 1206.4 1110.3 1206.2 1111.3 1206 1112.2 1205.8 1113.2 1205.5 1114.1 1205.3 1115.1 1205.1 1116.1 1204.9 1117 1204.6 1118 1204.4 1118.9 1204.1 1119.9 1203.9 1120.9 1203.6 1121.8 1203.3 1122.8 1203 1123.7 1202.7 1124.7 1202.4 1125.7 1202.1 1126.6 1201.7 1127.6 1201.4 1128.5 1201 1129.5 1200.7 1130.5 1200.3 1131.4 1199.9 1132.4 1199.5 1133.3 1199 1134.3 1198.6 1135.3 1198.1 1136.2 1197.6 1137.2 1197.1 1138.2 1196.6 1139.1 1196.1 1140.1 1195.5 1141 1194.9 1142 1194.3 1143 1193.6 1143.9 1192.9 1144.9 1192.2 1145.8 1191.5 1146.8 1190.7 1147.8 1189.9 1148.7 1189.1 1149.7 1188.2 1150.6 1187.2 1151.6 1186.3 1152.6 1185.2 1153.5 1184.1 1154.5 1183 1155.4 1181.8 1156.4 1180.5 1157.4 1179.2 1158.3 1177.8 1159.3 1176.3 1160.2 1174.8 1161.2 1173.1 1162.2 1171.4 1163.1 1169.5 1164.1 1167.6 1165 1165.5 1166 1163.4 1167 1161 1167.9 1158.6 1168.9 1156 1169.9 1153.3 1170.8 1150.4 1171.8 1147.3 1172.7 1144.1 1173.7 1140.6 1174.7 1137 1175.6 1133.3 1176.6 1129.3 1177.5 1125.2 1178.5 1120.9 1179.5 1116.4 1180.4 1111.9 1181.4 1107.2 1182.3 1102.5 1183.3 1097.7 1184.3 1093 1185.2 1088.5 1186.2 1084.1 1187.1 1080 1188.1 1076.2 1189.1 1072.9 1190 1070 1191 1067.7 1191.9 1066 1192.9 1064.9 1193.9 1064.3 1194.8 1064.4 1195.8 1065 1196.8 1066 1197.7 1067.5 1198.7 1069.4 1199.6 1071.5 1200.6 1073.9 1201.6 1076.4 1202.5 1079.1 1203.5 1081.8 1204.4 1084.6 1205.4 1087.4 1206.4 1090.2 1207.3 1093 1208.3 1095.8 1209.2 1098.6 1210.2 1101.3 1211.2 1104.1 1212.1 1106.8 1213.1 1109.5 1214 1112.2 1215 1114.8 1216 1117.5 1216.9 1120.2 1217.9 1122.8 1218.8 1125.4 1219.8 1128 1220.8 1130.5 1221.7 1133.1 1222.7 1135.6 1223.6 1138 1224.6 1140.4 1225.6 1142.8 1226.5 1145.1 1227.5 1147.4 1228.5 1149.6 1229.4 1151.8 1230.4 1153.9 1231.3 1155.9 1232.3 1157.9 1233.3 1159.8 1234.2 1161.7 1235.2 1163.5 1236.1 1165.2 1237.1 1166.9 1238.1 1168.5 1239 1170.1 1240 1171.6 1240.9 1173 1241.9 1174.4 1242.9 1175.7 1243.8 1177 1244.8 1178.3 1245.7 1179.5 1246.7 1180.6 1247.7 1181.7 1248.6 1182.8 1249.6 1183.8 1250.5 1184.8 1251.5 1185.7 1252.5 1186.6 1253.4 1187.5 1254.4 1188.3 1255.4 1189.1 1256.3 1189.9 1257.3 1190.6 1258.2 1191.3 1259.2 1192 1260.2 1192.7 1261.1 1193.3 1262.1 1193.9 1263 1194.5 1264 1195.1 1265 1195.6 1265.9 1196.2 1266.9 1196.7 1267.8 1197.2 1268.8 1197.7 1269.8 1198.1 1270.7 1198.6 1271.7 1199 1272.6 1199.4 1273.6 1199.8 1274.6 1200.2 1275.5 1200.6 1276.5 1200.9 1277.4 1201.3 1278.4 1201.6 1279.4 1201.9 1280.3 1202.2 1281.3 1202.5 1282.2 1202.8 1283.2 1203.1 1284.2 1203.4 1285.1 1203.7 1286.1 1203.9 1287.1 1204.2 1288 1204.4 1289 1204.7 1289.9 1204.9 1290.9 1205.1 1291.9 1205.3 1292.8 1205.6 1293.8 1205.8 1294.7 1206 1295.7 1206.2 1296.7 1206.3 1297.6 1206.5 1298.6 1206.7 1299.5 1206.9 1300.5 1207.1 1301.5 1207.2 1302.4 1207.4 1303.4 1207.5 1304.3 1207.7 1305.3 1207.8 1306.3 1208 1307.2 1208.1 1308.2 1208.3 1309.1 1208.4 1310.1 1208.5 1311.1 1208.6 1312 1208.8 1313 1208.9 1314 1209 1314.9 1209.1 1315.9 1209.2 1316.8 1209.3 1317.8 1209.5 1318.8 1209.6 1319.7 1209.7 1320.7 1209.8 1321.6 1209.9 1322.6 1210 1323.6 1210 1324.5 1210.1 1325.5 1210.2 1326.4 1210.3 1327.4 1210.4 1328.4 1210.5 1329.3 1210.6 1330.3 1210.6 1331.2 1210.7 1332.2 1210.8 1333.2 1210.9 1334.1 1210.9 1335.1 1211 1336 1211.1 1337 1211.2 1338 1211.2 1338.9 1211.3 1339.9 1211.4 1340.9 1211.4 1341.8 1211.5 1342.8 1211.5 1343.7 1211.6 1344.7 1211.7 1345.7 1211.7 1346.6 1211.8 1347.6 1211.8 1348.5 1211.9 1349.5 1211.9 1350.5 1212 1351.4 1212 1352.4 1212.1 1353.3 1212.1 1354.3 1212.2 1355.3 1212.2 1356.2 1212.3 1357.2 1212.3 1358.1 1212.4 1359.1 1212.4 1360.1 1212.5 1361 1212.5 1362 1212.5 1362.9 1212.6 1363.9 1212.6 1364.9 1212.7 1365.8 1212.7 1366.8 1212.7 1367.7 1212.8 1368.7 1212.8 1369.7 1212.8 1370.6 1212.9 1371.6 1212.9 1372.6 1213 1373.5 1213 1374.5 1213 1375.4 1213.1 1376.4 1213.1 1377.4 1213.1 1378.3 1213.1 1379.3 1213.2 1380.2 1213.2 1381.2 1213.2 1382.2 1213.3 1383.1 1213.3 1384.1 1213.3 1385 1213.4 1386 1213.4 1387 1213.4 1387.9 1213.4 1388.9 1213.5 1389.8 1213.5 1390.8 1213.5 1391.8 1213.5 1392.7 1213.6 1393.7 1213.6 1394.6 1213.6 1395.6 1213.6 1396.6 1213.7 1397.5 1213.7 1398.5 1213.7 1399.5 1213.7 1400.4 1213.7 1401.4 1213.8 1402.3 1213.8 1403.3 1213.8 1404.3 1213.8 1405.2 1213.9 1406.2 1213.9 1407.1 1213.9 1408.1 1213.9 1409.1 1213.9 1410 1214 1411 1214 1411.9 1214 1412.9 1214 1413.9 1214 1414.8 1214 1415.8 1214.1 1416.7 1214.1 1417.7 1214.1 1418.7 1214.1 1419.6 1214.1 1420.6 1214.1 1421.5 1214.2 1422.5 1214.2 1423.5 1214.2 1424.4 1214.2 1425.4 1214.2 1426.3 1214.2 1427.3 1214.3 1428.3 1214.3 1429.2 1214.3 1430.2 1214.3 1431.2 1214.3 1432.1 1214.3 1433.1 1214.3 1434 1214.4 1435 1214.4 1436 1214.4 1436.9 1214.4 1437.9 1214.4 1438.8 1214.4 1439.8 1214.4 1440.8 1214.4 1441.7 1214.5 1442.7 1214.5 1443.6 1214.5 1444.6 1214.5 1445.6 1214.5 1446.5 1214.5 1447.5 1214.5 1448.4 1214.5 1449.4 1214.6 1450.4 1214.6 1451.3 1214.6 1452.3 1214.6 1453.2 1214.6 1454.2 1214.6 1455.2 1214.6 1456.1 1214.6 1457.1 1214.6 1458.1 1214.7 1459 1214.7 1460 1214.7 1460.9 1214.7 1461.9 1214.7 1462.9 1214.7 1463.8 1214.7 1464.8 1214.7 1465.7 1214.7 1466.7 1214.7 1467.7 1214.7 1468.6 1214.8 1469.6 1214.8 1470.5 1214.8 1471.5 1214.8 1472.5 1214.8 1473.4 1214.8 1474.4 1214.8 1475.3 1214.8 1476.3 1214.8 1477.3 1214.8 1478.2 1214.8 1479.2 1214.9 1480.1 1214.9 1481.1 1214.9 1482.1 1214.9 1483 1214.9 1484 1214.9 1485 1214.9 1485.9 1214.9 1486.9 1214.9 1487.8 1214.9 1488.8 1214.9 1489.8 1214.9 1490.7 1214.9 1491.7 1215 1492.6 1215 1493.6 1215 1494.6 1215 1495.5 1215 1496.5 1215 1497.4 1215 1498.4 1215" fill="none" stroke="#000000" stroke-width="3.9" stroke-linejoin="round"/><path d="M922 1215.6L923 1215.6 923.9 1215.6 924.9 1215.6 925.8 1215.6 926.8 1215.6 927.8 1215.6 928.7 1215.6 929.7 1215.6 930.6 1215.5 931.6 1215.5 932.6 1215.5 933.5 1215.5 934.5 1215.5 935.4 1215.5 936.4 1215.5 937.4 1215.5 938.3 1215.5 939.3 1215.5 940.3 1215.5 941.2 1215.5 942.2 1215.5 943.1 1215.5 944.1 1215.5 945.1 1215.5 946 1215.5 947 1215.5 947.9 1215.5 948.9 1215.5 949.9 1215.5 950.8 1215.5 951.8 1215.5 952.7 1215.5 953.7 1215.5 954.7 1215.4 955.6 1215.4 956.6 1215.4 957.5 1215.4 958.5 1215.4 959.5 1215.4 960.4 1215.4 961.4 1215.4 962.3 1215.4 963.3 1215.4 964.3 1215.4 965.2 1215.4 966.2 1215.4 967.2 1215.4 968.1 1215.4 969.1 1215.4 970 1215.4 971 1215.4 972 1215.4 972.9 1215.3 973.9 1215.3 974.8 1215.3 975.8 1215.3 976.8 1215.3 977.7 1215.3 978.7 1215.3 979.6 1215.3 980.6 1215.3 981.6 1215.3 982.5 1215.3 983.5 1215.3 984.4 1215.3 985.4 1215.3 986.4 1215.3 987.3 1215.3 988.3 1215.2 989.2 1215.2 990.2 1215.2 991.2 1215.2 992.1 1215.2 993.1 1215.2 994 1215.2 995 1215.2 996 1215.2 996.9 1215.2 997.9 1215.2 998.9 1215.2 999.8 1215.1 1000.8 1215.1 1001.7 1215.1 1002.7 1215.1 1003.7 1215.1 1004.6 1215.1 1005.6 1215.1 1006.5 1215.1 1007.5 1215.1 1008.5 1215.1 1009.4 1215.1 1010.4 1215 1011.3 1215 1012.3 1215 1013.3 1215 1014.2 1215 1015.2 1215 1016.1 1215 1017.1 1215 1018.1 1215 1019 1214.9 1020 1214.9 1020.9 1214.9 1021.9 1214.9 1022.9 1214.9 1023.8 1214.9 1024.8 1214.9 1025.8 1214.9 1026.7 1214.8 1027.7 1214.8 1028.6 1214.8 1029.6 1214.8 1030.6 1214.8 1031.5 1214.8 1032.5 1214.8 1033.4 1214.7 1034.4 1214.7 1035.4 1214.7 1036.3 1214.7 1037.3 1214.7 1038.2 1214.7 1039.2 1214.7 1040.2 1214.6 1041.1 1214.6 1042.1 1214.6 1043 1214.6 1044 1214.6 1045 1214.5 1045.9 1214.5 1046.9 1214.5 1047.8 1214.5 1048.8 1214.5 1049.8 1214.4 1050.7 1214.4 1051.7 1214.4 1052.7 1214.4 1053.6 1214.4 1054.6 1214.3 1055.5 1214.3 1056.5 1214.3 1057.5 1214.3 1058.4 1214.2 1059.4 1214.2 1060.3 1214.2 1061.3 1214.2 1062.3 1214.1 1063.2 1214.1 1064.2 1214.1 1065.1 1214 1066.1 1214 1067.1 1214 1068 1214 1069 1213.9 1069.9 1213.9 1070.9 1213.9 1071.9 1213.8 1072.8 1213.8 1073.8 1213.8 1074.7 1213.7 1075.7 1213.7 1076.7 1213.6 1077.6 1213.6 1078.6 1213.6 1079.5 1213.5 1080.5 1213.5 1081.5 1213.4 1082.4 1213.4 1083.4 1213.3 1084.4 1213.3 1085.3 1213.2 1086.3 1213.2 1087.2 1213.2 1088.2 1213.1 1089.2 1213 1090.1 1213 1091.1 1212.9 1092 1212.9 1093 1212.8 1094 1212.8 1094.9 1212.7 1095.9 1212.6 1096.8 1212.6 1097.8 1212.5 1098.8 1212.4 1099.7 1212.4 1100.7 1212.3 1101.6 1212.2 1102.6 1212.1 1103.6 1212 1104.5 1212 1105.5 1211.9 1106.4 1211.8 1107.4 1211.7 1108.4 1211.6 1109.3 1211.5 1110.3 1211.4 1111.3 1211.3 1112.2 1211.2 1113.2 1211.1 1114.1 1210.9 1115.1 1210.8 1116.1 1210.7 1117 1210.6 1118 1210.4 1118.9 1210.3 1119.9 1210.1 1120.9 1210 1121.8 1209.8 1122.8 1209.7 1123.7 1209.5 1124.7 1209.3 1125.7 1209.2 1126.6 1209 1127.6 1208.8 1128.5 1208.6 1129.5 1208.3 1130.5 1208.1 1131.4 1207.9 1132.4 1207.7 1133.3 1207.4 1134.3 1207.1 1135.3 1206.9 1136.2 1206.6 1137.2 1206.3 1138.2 1206 1139.1 1205.6 1140.1 1205.3 1141 1204.9 1142 1204.5 1143 1204.1 1143.9 1203.7 1144.9 1203.3 1145.8 1202.8 1146.8 1202.3 1147.8 1201.8 1148.7 1201.2 1149.7 1200.7 1150.6 1200 1151.6 1199.4 1152.6 1198.7 1153.5 1198 1154.5 1197.2 1155.4 1196.4 1156.4 1195.6 1157.4 1194.7 1158.3 1193.7 1159.3 1192.7 1160.2 1191.6 1161.2 1190.4 1162.2 1189.2 1163.1 1187.9 1164.1 1186.5 1165 1185 1166 1183.4 1167 1181.7 1167.9 1179.9 1168.9 1177.9 1169.9 1175.9 1170.8 1173.7 1171.8 1171.4 1172.7 1168.9 1173.7 1166.3 1174.7 1163.5 1175.6 1160.6 1176.6 1157.5 1177.5 1154.3 1178.5 1150.9 1179.5 1147.5 1180.4 1143.9 1181.4 1140.3 1182.3 1136.7 1183.3 1133 1184.3 1129.5 1185.2 1126.1 1186.2 1123 1187.1 1120.1 1188.1 1117.6 1189.1 1115.5 1190 1114 1191 1113 1191.9 1112.6 1192.9 1112.8 1193.9 1113.6 1194.8 1115 1195.8 1116.9 1196.8 1119.3 1197.7 1122.1 1198.7 1125.2 1199.6 1128.5 1200.6 1132 1201.6 1135.6 1202.5 1139.2 1203.5 1142.8 1204.4 1146.4 1205.4 1149.9 1206.4 1153.3 1207.3 1156.5 1208.3 1159.7 1209.2 1162.6 1210.2 1165.4 1211.2 1168.1 1212.1 1170.6 1213.1 1173 1214 1175.2 1215 1177.3 1216 1179.3 1216.9 1181.1 1217.9 1182.9 1218.8 1184.5 1219.8 1186 1220.8 1187.5 1221.7 1188.8 1222.7 1190.1 1223.6 1191.2 1224.6 1192.4 1225.6 1193.4 1226.5 1194.4 1227.5 1195.3 1228.5 1196.2 1229.4 1197 1230.4 1197.8 1231.3 1198.5 1232.3 1199.2 1233.3 1199.9 1234.2 1200.5 1235.2 1201.1 1236.1 1201.6 1237.1 1202.1 1238.1 1202.6 1239 1203.1 1240 1203.6 1240.9 1204 1241.9 1204.4 1242.9 1204.8 1243.8 1205.2 1244.8 1205.5 1245.7 1205.9 1246.7 1206.2 1247.7 1206.5 1248.6 1206.8 1249.6 1207.1 1250.5 1207.3 1251.5 1207.6 1252.5 1207.8 1253.4 1208.1 1254.4 1208.3 1255.4 1208.5 1256.3 1208.7 1257.3 1208.9 1258.2 1209.1 1259.2 1209.3 1260.2 1209.5 1261.1 1209.6 1262.1 1209.8 1263 1209.9 1264 1210.1 1265 1210.2 1265.9 1210.4 1266.9 1210.5 1267.8 1210.7 1268.8 1210.8 1269.8 1210.9 1270.7 1211 1271.7 1211.1 1272.6 1211.2 1273.6 1211.4 1274.6 1211.5 1275.5 1211.6 1276.5 1211.7 1277.4 1211.7 1278.4 1211.8 1279.4 1211.9 1280.3 1212 1281.3 1212.1 1282.2 1212.2 1283.2 1212.3 1284.2 1212.3 1285.1 1212.4 1286.1 1212.5 1287.1 1212.5 1288 1212.6 1289 1212.7 1289.9 1212.7 1290.9 1212.8 1291.9 1212.9 1292.8 1212.9 1293.8 1213 1294.7 1213 1295.7 1213.1 1296.7 1213.1 1297.6 1213.2 1298.6 1213.2 1299.5 1213.3 1300.5 1213.3 1301.5 1213.4 1302.4 1213.4 1303.4 1213.5 1304.3 1213.5 1305.3 1213.5 1306.3 1213.6 1307.2 1213.6 1308.2 1213.7 1309.1 1213.7 1310.1 1213.7 1311.1 1213.8 1312 1213.8 1313 1213.8 1314 1213.9 1314.9 1213.9 1315.9 1213.9 1316.8 1214 1317.8 1214 1318.8 1214 1319.7 1214.1 1320.7 1214.1 1321.6 1214.1 1322.6 1214.1 1323.6 1214.2 1324.5 1214.2 1325.5 1214.2 1326.4 1214.3 1327.4 1214.3 1328.4 1214.3 1329.3 1214.3 1330.3 1214.3 1331.2 1214.4 1332.2 1214.4 1333.2 1214.4 1334.1 1214.4 1335.1 1214.5 1336 1214.5 1337 1214.5 1338 1214.5 1338.9 1214.5 1339.9 1214.6 1340.9 1214.6 1341.8 1214.6 1342.8 1214.6 1343.7 1214.6 1344.7 1214.6 1345.7 1214.7 1346.6 1214.7 1347.6 1214.7 1348.5 1214.7 1349.5 1214.7 1350.5 1214.7 1351.4 1214.8 1352.4 1214.8 1353.3 1214.8 1354.3 1214.8 1355.3 1214.8 1356.2 1214.8 1357.2 1214.8 1358.1 1214.9 1359.1 1214.9 1360.1 1214.9 1361 1214.9 1362 1214.9 1362.9 1214.9 1363.9 1214.9 1364.9 1214.9 1365.8 1215 1366.8 1215 1367.7 1215 1368.7 1215 1369.7 1215 1370.6 1215 1371.6 1215 1372.6 1215 1373.5 1215 1374.5 1215.1 1375.4 1215.1 1376.4 1215.1 1377.4 1215.1 1378.3 1215.1 1379.3 1215.1 1380.2 1215.1 1381.2 1215.1 1382.2 1215.1 1383.1 1215.1 1384.1 1215.1 1385 1215.2 1386 1215.2 1387 1215.2 1387.9 1215.2 1388.9 1215.2 1389.8 1215.2 1390.8 1215.2 1391.8 1215.2 1392.7 1215.2 1393.7 1215.2 1394.6 1215.2 1395.6 1215.2 1396.6 1215.2 1397.5 1215.3 1398.5 1215.3 1399.5 1215.3 1400.4 1215.3 1401.4 1215.3 1402.3 1215.3 1403.3 1215.3 1404.3 1215.3 1405.2 1215.3 1406.2 1215.3 1407.1 1215.3 1408.1 1215.3 1409.1 1215.3 1410 1215.3 1411 1215.3 1411.9 1215.4 1412.9 1215.4 1413.9 1215.4 1414.8 1215.4 1415.8 1215.4 1416.7 1215.4 1417.7 1215.4 1418.7 1215.4 1419.6 1215.4 1420.6 1215.4 1421.5 1215.4 1422.5 1215.4 1423.5 1215.4 1424.4 1215.4 1425.4 1215.4 1426.3 1215.4 1427.3 1215.4 1428.3 1215.4 1429.2 1215.4 1430.2 1215.5 1431.2 1215.5 1432.1 1215.5 1433.1 1215.5 1434 1215.5 1435 1215.5 1436 1215.5 1436.9 1215.5 1437.9 1215.5 1438.8 1215.5 1439.8 1215.5 1440.8 1215.5 1441.7 1215.5 1442.7 1215.5 1443.6 1215.5 1444.6 1215.5 1445.6 1215.5 1446.5 1215.5 1447.5 1215.5 1448.4 1215.5 1449.4 1215.5 1450.4 1215.5 1451.3 1215.5 1452.3 1215.5 1453.2 1215.5 1454.2 1215.6 1455.2 1215.6 1456.1 1215.6 1457.1 1215.6 1458.1 1215.6 1459 1215.6 1460 1215.6 1460.9 1215.6 1461.9 1215.6 1462.9 1215.6 1463.8 1215.6 1464.8 1215.6 1465.7 1215.6 1466.7 1215.6 1467.7 1215.6 1468.6 1215.6 1469.6 1215.6 1470.5 1215.6 1471.5 1215.6 1472.5 1215.6 1473.4 1215.6 1474.4 1215.6 1475.3 1215.6 1476.3 1215.6 1477.3 1215.6 1478.2 1215.6 1479.2 1215.6 1480.1 1215.6 1481.1 1215.6 1482.1 1215.6 1483 1215.6 1484 1215.6 1485 1215.6 1485.9 1215.6 1486.9 1215.6 1487.8 1215.7 1488.8 1215.7 1489.8 1215.7 1490.7 1215.7 1491.7 1215.7 1492.6 1215.7 1493.6 1215.7 1494.6 1215.7 1495.5 1215.7 1496.5 1215.7 1497.4 1215.7 1498.4 1215.7" fill="none" stroke="#808080" stroke-width="3.6" stroke-dasharray="5.5 10.5" stroke-linecap="round" stroke-linejoin="round"/><path d="M922 1215.3L923 1215.3 923.9 1215.3 924.9 1215.3 925.8 1215.3 926.8 1215.3 927.8 1215.3 928.7 1215.3 929.7 1215.3 930.6 1215.3 931.6 1215.3 932.6 1215.3 933.5 1215.3 934.5 1215.3 935.4 1215.3 936.4 1215.3 937.4 1215.3 938.3 1215.3 939.3 1215.3 940.3 1215.3 941.2 1215.2 942.2 1215.2 943.1 1215.2 944.1 1215.2 945.1 1215.2 946 1215.2 947 1215.2 947.9 1215.2 948.9 1215.2 949.9 1215.2 950.8 1215.2 951.8 1215.2 952.7 1215.2 953.7 1215.2 954.7 1215.2 955.6 1215.2 956.6 1215.1 957.5 1215.1 958.5 1215.1 959.5 1215.1 960.4 1215.1 961.4 1215.1 962.3 1215.1 963.3 1215.1 964.3 1215.1 965.2 1215.1 966.2 1215.1 967.2 1215.1 968.1 1215.1 969.1 1215.1 970 1215.1 971 1215 972 1215 972.9 1215 973.9 1215 974.8 1215 975.8 1215 976.8 1215 977.7 1215 978.7 1215 979.6 1215 980.6 1215 981.6 1215 982.5 1214.9 983.5 1214.9 984.4 1214.9 985.4 1214.9 986.4 1214.9 987.3 1214.9 988.3 1214.9 989.2 1214.9 990.2 1214.9 991.2 1214.9 992.1 1214.8 993.1 1214.8 994 1214.8 995 1214.8 996 1214.8 996.9 1214.8 997.9 1214.8 998.9 1214.8 999.8 1214.8 1000.8 1214.8 1001.7 1214.7 1002.7 1214.7 1003.7 1214.7 1004.6 1214.7 1005.6 1214.7 1006.5 1214.7 1007.5 1214.7 1008.5 1214.7 1009.4 1214.6 1010.4 1214.6 1011.3 1214.6 1012.3 1214.6 1013.3 1214.6 1014.2 1214.6 1015.2 1214.6 1016.1 1214.5 1017.1 1214.5 1018.1 1214.5 1019 1214.5 1020 1214.5 1020.9 1214.5 1021.9 1214.5 1022.9 1214.4 1023.8 1214.4 1024.8 1214.4 1025.8 1214.4 1026.7 1214.4 1027.7 1214.4 1028.6 1214.3 1029.6 1214.3 1030.6 1214.3 1031.5 1214.3 1032.5 1214.3 1033.4 1214.3 1034.4 1214.2 1035.4 1214.2 1036.3 1214.2 1037.3 1214.2 1038.2 1214.2 1039.2 1214.1 1040.2 1214.1 1041.1 1214.1 1042.1 1214.1 1043 1214.1 1044 1214 1045 1214 1045.9 1214 1046.9 1214 1047.8 1213.9 1048.8 1213.9 1049.8 1213.9 1050.7 1213.9 1051.7 1213.8 1052.7 1213.8 1053.6 1213.8 1054.6 1213.8 1055.5 1213.7 1056.5 1213.7 1057.5 1213.7 1058.4 1213.6 1059.4 1213.6 1060.3 1213.6 1061.3 1213.6 1062.3 1213.5 1063.2 1213.5 1064.2 1213.5 1065.1 1213.4 1066.1 1213.4 1067.1 1213.4 1068 1213.3 1069 1213.3 1069.9 1213.3 1070.9 1213.2 1071.9 1213.2 1072.8 1213.1 1073.8 1213.1 1074.7 1213.1 1075.7 1213 1076.7 1213 1077.6 1212.9 1078.6 1212.9 1079.5 1212.9 1080.5 1212.8 1081.5 1212.8 1082.4 1212.7 1083.4 1212.7 1084.4 1212.6 1085.3 1212.6 1086.3 1212.5 1087.2 1212.5 1088.2 1212.4 1089.2 1212.4 1090.1 1212.3 1091.1 1212.3 1092 1212.2 1093 1212.1 1094 1212.1 1094.9 1212 1095.9 1212 1096.8 1211.9 1097.8 1211.8 1098.8 1211.8 1099.7 1211.7 1100.7 1211.6 1101.6 1211.5 1102.6 1211.5 1103.6 1211.4 1104.5 1211.3 1105.5 1211.2 1106.4 1211.1 1107.4 1211.1 1108.4 1211 1109.3 1210.9 1110.3 1210.8 1111.3 1210.7 1112.2 1210.6 1113.2 1210.5 1114.1 1210.4 1115.1 1210.3 1116.1 1210.2 1117 1210.1 1118 1210 1118.9 1209.9 1119.9 1209.7 1120.9 1209.6 1121.8 1209.5 1122.8 1209.4 1123.7 1209.2 1124.7 1209.1 1125.7 1208.9 1126.6 1208.8 1127.6 1208.7 1128.5 1208.5 1129.5 1208.3 1130.5 1208.2 1131.4 1208 1132.4 1207.8 1133.3 1207.7 1134.3 1207.5 1135.3 1207.3 1136.2 1207.1 1137.2 1206.9 1138.2 1206.7 1139.1 1206.5 1140.1 1206.2 1141 1206 1142 1205.8 1143 1205.5 1143.9 1205.3 1144.9 1205 1145.8 1204.7 1146.8 1204.4 1147.8 1204.1 1148.7 1203.8 1149.7 1203.5 1150.6 1203.2 1151.6 1202.9 1152.6 1202.5 1153.5 1202.2 1154.5 1201.8 1155.4 1201.4 1156.4 1201 1157.4 1200.6 1158.3 1200.1 1159.3 1199.7 1160.2 1199.2 1161.2 1198.7 1162.2 1198.2 1163.1 1197.7 1164.1 1197.2 1165 1196.6 1166 1196 1167 1195.4 1167.9 1194.8 1168.9 1194.1 1169.9 1193.4 1170.8 1192.7 1171.8 1192 1172.7 1191.2 1173.7 1190.4 1174.7 1189.6 1175.6 1188.7 1176.6 1187.8 1177.5 1186.9 1178.5 1186 1179.5 1185 1180.4 1184 1181.4 1182.9 1182.3 1181.8 1183.3 1180.7 1184.3 1179.6 1185.2 1178.4 1186.2 1177.2 1187.1 1175.9 1188.1 1174.7 1189.1 1173.4 1190 1172.1 1191 1170.7 1191.9 1169.4 1192.9 1168 1193.9 1166.7 1194.8 1165.4 1195.8 1164 1196.8 1162.7 1197.7 1161.5 1198.7 1160.2 1199.6 1159 1200.6 1157.9 1201.6 1156.9 1202.5 1155.9 1203.5 1155 1204.4 1154.2 1205.4 1153.5 1206.4 1152.9 1207.3 1152.5 1208.3 1152.1 1209.2 1152 1210.2 1151.9 1211.2 1152 1212.1 1152.2 1213.1 1152.5 1214 1153 1215 1153.5 1216 1154.2 1216.9 1155 1217.9 1155.9 1218.8 1156.9 1219.8 1158 1220.8 1159.1 1221.7 1160.3 1222.7 1161.5 1223.6 1162.8 1224.6 1164.1 1225.6 1165.4 1226.5 1166.8 1227.5 1168.1 1228.5 1169.5 1229.4 1170.8 1230.4 1172.1 1231.3 1173.4 1232.3 1174.7 1233.3 1176 1234.2 1177.2 1235.2 1178.4 1236.1 1179.6 1237.1 1180.8 1238.1 1181.9 1239 1183 1240 1184 1240.9 1185 1241.9 1186 1242.9 1187 1243.8 1187.9 1244.8 1188.8 1245.7 1189.6 1246.7 1190.5 1247.7 1191.2 1248.6 1192 1249.6 1192.7 1250.5 1193.5 1251.5 1194.1 1252.5 1194.8 1253.4 1195.4 1254.4 1196 1255.4 1196.6 1256.3 1197.2 1257.3 1197.7 1258.2 1198.3 1259.2 1198.8 1260.2 1199.2 1261.1 1199.7 1262.1 1200.2 1263 1200.6 1264 1201 1265 1201.4 1265.9 1201.8 1266.9 1202.2 1267.8 1202.5 1268.8 1202.9 1269.8 1203.2 1270.7 1203.6 1271.7 1203.9 1272.6 1204.2 1273.6 1204.5 1274.6 1204.7 1275.5 1205 1276.5 1205.3 1277.4 1205.5 1278.4 1205.8 1279.4 1206 1280.3 1206.2 1281.3 1206.5 1282.2 1206.7 1283.2 1206.9 1284.2 1207.1 1285.1 1207.3 1286.1 1207.5 1287.1 1207.7 1288 1207.8 1289 1208 1289.9 1208.2 1290.9 1208.4 1291.9 1208.5 1292.8 1208.7 1293.8 1208.8 1294.7 1209 1295.7 1209.1 1296.7 1209.2 1297.6 1209.4 1298.6 1209.5 1299.5 1209.6 1300.5 1209.7 1301.5 1209.9 1302.4 1210 1303.4 1210.1 1304.3 1210.2 1305.3 1210.3 1306.3 1210.4 1307.2 1210.5 1308.2 1210.6 1309.1 1210.7 1310.1 1210.8 1311.1 1210.9 1312 1211 1313 1211.1 1314 1211.2 1314.9 1211.2 1315.9 1211.3 1316.8 1211.4 1317.8 1211.5 1318.8 1211.5 1319.7 1211.6 1320.7 1211.7 1321.6 1211.8 1322.6 1211.8 1323.6 1211.9 1324.5 1212 1325.5 1212 1326.4 1212.1 1327.4 1212.1 1328.4 1212.2 1329.3 1212.3 1330.3 1212.3 1331.2 1212.4 1332.2 1212.4 1333.2 1212.5 1334.1 1212.5 1335.1 1212.6 1336 1212.6 1337 1212.7 1338 1212.7 1338.9 1212.8 1339.9 1212.8 1340.9 1212.9 1341.8 1212.9 1342.8 1212.9 1343.7 1213 1344.7 1213 1345.7 1213.1 1346.6 1213.1 1347.6 1213.1 1348.5 1213.2 1349.5 1213.2 1350.5 1213.3 1351.4 1213.3 1352.4 1213.3 1353.3 1213.4 1354.3 1213.4 1355.3 1213.4 1356.2 1213.5 1357.2 1213.5 1358.1 1213.5 1359.1 1213.6 1360.1 1213.6 1361 1213.6 1362 1213.6 1362.9 1213.7 1363.9 1213.7 1364.9 1213.7 1365.8 1213.8 1366.8 1213.8 1367.7 1213.8 1368.7 1213.8 1369.7 1213.9 1370.6 1213.9 1371.6 1213.9 1372.6 1213.9 1373.5 1214 1374.5 1214 1375.4 1214 1376.4 1214 1377.4 1214.1 1378.3 1214.1 1379.3 1214.1 1380.2 1214.1 1381.2 1214.1 1382.2 1214.2 1383.1 1214.2 1384.1 1214.2 1385 1214.2 1386 1214.2 1387 1214.3 1387.9 1214.3 1388.9 1214.3 1389.8 1214.3 1390.8 1214.3 1391.8 1214.3 1392.7 1214.4 1393.7 1214.4 1394.6 1214.4 1395.6 1214.4 1396.6 1214.4 1397.5 1214.4 1398.5 1214.5 1399.5 1214.5 1400.4 1214.5 1401.4 1214.5 1402.3 1214.5 1403.3 1214.5 1404.3 1214.5 1405.2 1214.6 1406.2 1214.6 1407.1 1214.6 1408.1 1214.6 1409.1 1214.6 1410 1214.6 1411 1214.6 1411.9 1214.7 1412.9 1214.7 1413.9 1214.7 1414.8 1214.7 1415.8 1214.7 1416.7 1214.7 1417.7 1214.7 1418.7 1214.7 1419.6 1214.8 1420.6 1214.8 1421.5 1214.8 1422.5 1214.8 1423.5 1214.8 1424.4 1214.8 1425.4 1214.8 1426.3 1214.8 1427.3 1214.8 1428.3 1214.8 1429.2 1214.9 1430.2 1214.9 1431.2 1214.9 1432.1 1214.9 1433.1 1214.9 1434 1214.9 1435 1214.9 1436 1214.9 1436.9 1214.9 1437.9 1214.9 1438.8 1215 1439.8 1215 1440.8 1215 1441.7 1215 1442.7 1215 1443.6 1215 1444.6 1215 1445.6 1215 1446.5 1215 1447.5 1215 1448.4 1215 1449.4 1215 1450.4 1215.1 1451.3 1215.1 1452.3 1215.1 1453.2 1215.1 1454.2 1215.1 1455.2 1215.1 1456.1 1215.1 1457.1 1215.1 1458.1 1215.1 1459 1215.1 1460 1215.1 1460.9 1215.1 1461.9 1215.1 1462.9 1215.1 1463.8 1215.2 1464.8 1215.2 1465.7 1215.2 1466.7 1215.2 1467.7 1215.2 1468.6 1215.2 1469.6 1215.2 1470.5 1215.2 1471.5 1215.2 1472.5 1215.2 1473.4 1215.2 1474.4 1215.2 1475.3 1215.2 1476.3 1215.2 1477.3 1215.2 1478.2 1215.2 1479.2 1215.2 1480.1 1215.3 1481.1 1215.3 1482.1 1215.3 1483 1215.3 1484 1215.3 1485 1215.3 1485.9 1215.3 1486.9 1215.3 1487.8 1215.3 1488.8 1215.3 1489.8 1215.3 1490.7 1215.3 1491.7 1215.3 1492.6 1215.3 1493.6 1215.3 1494.6 1215.3 1495.5 1215.3 1496.5 1215.3 1497.4 1215.3 1498.4 1215.3" fill="none" stroke="#808080" stroke-width="3.6" stroke-dasharray="5.5 10.5" stroke-linecap="round" stroke-linejoin="round"/><path d="M922.2 1213.6h0M923.2 1211h0M924.1 1226.4h0M925.1 1217.8h0M926 1213.6h0M927 1212.4h0M928 1214.9h0M928.9 1211.9h0M929.9 1216.1h0M930.8 1215.2h0M931.8 1216.5h0M932.8 1220.9h0M933.7 1220.1h0M934.7 1215.7h0M935.6 1219.1h0M936.6 1212.5h0M937.6 1212.4h0M938.5 1210.6h0M939.5 1217.1h0M940.4 1212h0M941.4 1220.2h0M942.4 1219.8h0M943.3 1216.6h0M944.3 1215.9h0M945.2 1222.5h0M946.2 1223h0M947.2 1215.5h0M948.1 1219.8h0M949.1 1212.4h0M950.1 1215.3h0M951 1215.6h0M952 1215.9h0M952.9 1213.4h0M953.9 1217.2h0M954.9 1212.7h0M955.8 1218.5h0M956.8 1217.3h0M957.7 1219h0M958.7 1214.4h0M959.7 1216.3h0M960.6 1219.5h0M961.6 1209.2h0M962.5 1217.7h0M963.5 1216.8h0M964.5 1214.9h0M965.4 1210h0M966.4 1216.8h0M967.3 1213.7h0M968.3 1215.8h0M969.3 1221.4h0M970.2 1213.3h0M971.2 1212.4h0M972.1 1216.9h0M973.1 1216.1h0M974.1 1221.4h0M975 1221.4h0M976 1217.3h0M977 1213.7h0M977.9 1217.6h0M978.9 1214.8h0M979.8 1212.3h0M980.8 1215.4h0M981.8 1213.7h0M982.7 1210.5h0M983.7 1220.1h0M984.6 1212.9h0M985.6 1222.4h0M986.6 1214h0M987.5 1214.8h0M988.5 1217.4h0M989.4 1219.3h0M990.4 1215.6h0M991.4 1216.8h0M992.3 1214.9h0M993.3 1218.5h0M994.2 1213.2h0M995.2 1218.9h0M996.2 1216.2h0M997.1 1216.5h0M998.1 1210.4h0M999 1220.4h0M1000 1216.4h0M1001 1210.6h0M1001.9 1217.2h0M1002.9 1219.3h0M1003.8 1213.7h0M1004.8 1215.7h0M1005.8 1211.6h0M1006.7 1217.9h0M1007.7 1213.8h0M1008.7 1212h0M1009.6 1210.6h0M1010.6 1218.4h0M1011.5 1209.1h0M1012.5 1217.5h0M1013.5 1219.7h0M1014.4 1217.6h0M1015.4 1213.5h0M1016.3 1215.1h0M1017.3 1212.3h0M1018.3 1212h0M1019.2 1212.6h0M1020.2 1214.6h0M1021.1 1207h0M1022.1 1221.7h0M1023.1 1219.9h0M1024 1215.3h0M1025 1218h0M1025.9 1222.7h0M1026.9 1216.1h0M1027.9 1215.9h0M1028.8 1222.1h0M1029.8 1209.8h0M1030.7 1208.1h0M1031.7 1208.2h0M1032.7 1214.6h0M1033.6 1212.1h0M1034.6 1216.7h0M1035.6 1211.7h0M1036.5 1214.9h0M1037.5 1210.8h0M1038.4 1213.5h0M1039.4 1208.2h0M1040.4 1208.9h0M1041.3 1207.3h0M1042.3 1217.8h0M1043.2 1218.5h0M1044.2 1210.1h0M1045.2 1213.6h0M1046.1 1209.9h0M1047.1 1210.1h0M1048 1210.5h0M1049 1207.6h0M1050 1208.8h0M1050.9 1209h0M1051.9 1214h0M1052.8 1204h0M1053.8 1209.9h0M1054.8 1206.1h0M1055.7 1208.9h0M1056.7 1205.2h0M1057.6 1209.3h0M1058.6 1208.9h0M1059.6 1209.1h0M1060.5 1212.1h0M1061.5 1211.5h0M1062.4 1209.7h0M1063.4 1209.4h0M1064.4 1212.6h0M1065.3 1199.7h0M1066.3 1212.2h0M1067.3 1209.5h0M1068.2 1198.8h0M1069.2 1210.5h0M1070.1 1204.9h0M1071.1 1205.1h0M1072.1 1208.3h0M1073 1212.8h0M1074 1213.1h0M1074.9 1206.9h0M1075.9 1205.1h0M1076.9 1214.9h0M1077.8 1205.7h0M1078.8 1208.7h0M1079.7 1202.5h0M1080.7 1205.1h0M1081.7 1208.7h0M1082.6 1207h0M1083.6 1205h0M1084.5 1199.7h0M1085.5 1192.8h0M1086.5 1203.1h0M1087.4 1203.9h0M1088.4 1201.4h0M1089.3 1203.8h0M1090.3 1201h0M1091.3 1201.7h0M1092.2 1203.1h0M1093.2 1206h0M1094.2 1202.1h0M1095.1 1198.9h0M1096.1 1202h0M1097 1196.1h0M1098 1198.2h0M1099 1202.3h0M1099.9 1194.7h0M1100.9 1206h0M1101.8 1196.6h0M1102.8 1193.7h0M1103.8 1202h0M1104.7 1201.3h0M1105.7 1196.9h0M1106.6 1194.8h0M1107.6 1198.6h0M1108.6 1199.3h0M1109.5 1196.4h0M1110.5 1198.9h0M1111.4 1204.7h0M1112.4 1200.4h0M1113.4 1199.5h0M1114.3 1205.4h0M1115.3 1197.5h0M1116.2 1202h0M1117.2 1195.7h0M1118.2 1204.6h0M1119.1 1202h0M1120.1 1204h0M1121.1 1192.4h0M1122 1192.1h0M1123 1190.9h0M1123.9 1190.5h0M1124.9 1192.4h0M1125.9 1191.9h0M1126.8 1202.2h0M1127.8 1193.1h0M1128.7 1196h0M1129.7 1194.5h0M1130.7 1197.6h0M1131.6 1185.9h0M1132.6 1189.9h0M1133.5 1196h0M1134.5 1186.3h0M1135.5 1187.7h0M1136.4 1190.8h0M1137.4 1186.2h0M1138.3 1186.9h0M1139.3 1192.3h0M1140.3 1187.3h0M1141.2 1176.2h0M1142.2 1175.1h0M1143.1 1173.4h0M1144.1 1178h0M1145.1 1172.6h0M1146 1166.2h0M1147 1159.6h0M1147.9 1163.5h0M1148.9 1160.5h0M1149.9 1144.6h0M1150.8 1145.6h0M1151.8 1143.2h0M1152.8 1140.2h0M1153.7 1134.6h0M1154.7 1116.3h0M1155.6 1114.1h0M1156.6 1116.5h0M1157.6 1115.5h0M1158.5 1091.1h0M1159.5 1084.9h0M1160.4 1080.2h0M1161.4 1075.4h0M1162.4 1086.4h0M1163.3 1075.1h0M1164.3 1054.9h0M1165.2 1053.5h0M1166.2 1042.4h0M1167.2 1041.1h0M1168.1 1035.6h0M1169.1 1020.5h0M1170 1022.1h0M1171 1014h0M1172 1007.4h0M1172.9 1003.5h0M1173.9 992.6h0M1174.8 987.6h0M1175.8 1006.2h0M1176.8 994.7h0M1177.7 995.1h0M1178.7 981.2h0M1179.7 993.3h0M1180.6 975.8h0M1181.6 973.9h0M1182.5 972.3h0M1183.5 982.7h0M1184.5 974.1h0M1185.4 979.2h0M1186.4 965h0M1187.3 958.7h0M1188.3 978.1h0M1189.3 971.4h0M1190.2 965.4h0M1191.2 968.4h0M1192.1 951.9h0M1193.1 966.6h0M1194.1 964.8h0M1195 978.2h0M1196 958.7h0M1196.9 973.1h0M1197.9 971.6h0M1198.9 981.2h0M1199.8 1003.4h0M1200.8 1003.8h0M1201.7 1006.3h0M1202.7 997.7h0M1203.7 1010.9h0M1204.6 1009.4h0M1205.6 1016.4h0M1206.5 1022.7h0M1207.5 1023.8h0M1208.5 1035.3h0M1209.4 1054.5h0M1210.4 1053.4h0M1211.4 1042.7h0M1212.3 1067.6h0M1213.3 1056.4h0M1214.2 1060h0M1215.2 1080.5h0M1216.2 1079.4h0M1217.1 1095.8h0M1218.1 1086.5h0M1219 1101h0M1220 1108.7h0M1221 1107.2h0M1221.9 1111.7h0M1222.9 1116.4h0M1223.8 1115.4h0M1224.8 1121.2h0M1225.8 1127.5h0M1226.7 1121.5h0M1227.7 1116.4h0M1228.6 1132.8h0M1229.6 1140h0M1230.6 1144.3h0M1231.5 1138.3h0M1232.5 1145.4h0M1233.4 1146.3h0M1234.4 1159.3h0M1235.4 1156.9h0M1236.3 1159.1h0M1237.3 1150.2h0M1238.3 1158.4h0M1239.2 1171.6h0M1240.2 1158.2h0M1241.1 1156.7h0M1242.1 1157.5h0M1243.1 1179.4h0M1244 1166.4h0M1245 1164.6h0M1245.9 1167h0M1246.9 1172.4h0M1247.9 1181.1h0M1248.8 1175.8h0M1249.8 1176.5h0M1250.7 1173.4h0M1251.7 1174.2h0M1252.7 1179.4h0M1253.6 1175.3h0M1254.6 1185.1h0M1255.5 1184.3h0M1256.5 1182.2h0M1257.5 1180.3h0M1258.4 1185.2h0M1259.4 1179.1h0M1260.3 1183.5h0M1261.3 1190.3h0M1262.3 1186.5h0M1263.2 1191.5h0M1264.2 1192.5h0M1265.2 1195.1h0M1266.1 1183.5h0M1267.1 1186.2h0M1268 1197.7h0M1269 1186.6h0M1270 1187.8h0M1270.9 1194h0M1271.9 1190.8h0M1272.8 1183.9h0M1273.8 1192.8h0M1274.8 1192.7h0M1275.7 1190.2h0M1276.7 1199.7h0M1277.6 1201.1h0M1278.6 1202.1h0M1279.6 1197h0M1280.5 1193.4h0M1281.5 1201h0M1282.4 1203.5h0M1283.4 1197.3h0M1284.4 1200h0M1285.3 1196.3h0M1286.3 1199.6h0M1287.2 1200.1h0M1288.2 1200h0M1289.2 1199.9h0M1290.1 1204.2h0M1291.1 1205.1h0M1292 1194.5h0M1293 1188.7h0M1294 1196.9h0M1294.9 1208.2h0M1295.9 1201.8h0M1296.9 1197.4h0M1297.8 1208.9h0M1298.8 1204.6h0M1299.7 1204.5h0M1300.7 1206.7h0M1301.7 1206.7h0M1302.6 1199.5h0M1303.6 1205.5h0M1304.5 1204.9h0M1305.5 1197.4h0M1306.5 1207.7h0M1307.4 1212.1h0M1308.4 1202.2h0M1309.3 1197h0M1310.3 1204.3h0M1311.3 1204.1h0M1312.2 1210.5h0M1313.2 1209.3h0M1314.1 1200.1h0M1315.1 1201h0M1316.1 1203.8h0M1317 1208.8h0M1318 1211h0M1318.9 1210.6h0M1319.9 1211.3h0M1320.9 1204.5h0M1321.8 1210.1h0M1322.8 1209.1h0M1323.8 1204.7h0M1324.7 1204.9h0M1325.7 1207.4h0M1326.6 1205.9h0M1327.6 1207.9h0M1328.6 1215.5h0M1329.5 1208.5h0M1330.5 1209.9h0M1331.4 1209.8h0M1332.4 1207.6h0M1333.4 1210.8h0M1334.3 1204.1h0M1335.3 1209.5h0M1336.2 1208.3h0M1337.2 1207.8h0M1338.2 1209.8h0M1339.1 1206.8h0M1340.1 1206.5h0M1341 1207h0M1342 1212.2h0M1343 1213.1h0M1343.9 1212.1h0M1344.9 1209.8h0M1345.8 1217h0M1346.8 1213.2h0M1347.8 1214.5h0M1348.7 1212.8h0M1349.7 1213.8h0M1350.6 1207.3h0M1351.6 1208.8h0M1352.6 1206.9h0M1353.5 1214.3h0M1354.5 1213.6h0M1355.5 1211.9h0M1356.4 1204.6h0M1357.4 1204.6h0M1358.3 1213.3h0M1359.3 1208.6h0M1360.3 1203h0M1361.2 1215h0M1362.2 1211.9h0M1363.1 1206.4h0M1364.1 1208.6h0M1365.1 1215.1h0M1366 1205.7h0M1367 1207.8h0M1367.9 1208.9h0M1368.9 1216.2h0M1369.9 1212.3h0M1370.8 1206.8h0M1371.8 1209.9h0M1372.7 1208.8h0M1373.7 1212.8h0M1374.7 1206.3h0M1375.6 1212.8h0M1376.6 1208.6h0M1377.5 1210.8h0M1378.5 1215.7h0M1379.5 1206.6h0M1380.4 1216.9h0M1381.4 1215h0M1382.4 1211.8h0M1383.3 1217.5h0M1384.3 1219.1h0M1385.2 1212.9h0M1386.2 1214.1h0M1387.2 1213.5h0M1388.1 1210.7h0M1389.1 1204.2h0M1390 1214.2h0M1391 1203.6h0M1392 1211.8h0M1392.9 1213.1h0M1393.9 1222.8h0M1394.8 1218.5h0M1395.8 1212h0M1396.8 1210.9h0M1397.7 1216.1h0M1398.7 1211.9h0M1399.6 1209.8h0M1400.6 1215.2h0M1401.6 1219.2h0M1402.5 1216.9h0M1403.5 1214.4h0M1404.4 1212.3h0M1405.4 1210.5h0M1406.4 1216.8h0M1407.3 1213.3h0M1408.3 1214.4h0M1409.3 1213.3h0M1410.2 1209.5h0M1411.2 1208.8h0M1412.1 1215.3h0M1413.1 1215.8h0M1414.1 1216.2h0M1415 1215.6h0M1416 1215.2h0M1416.9 1214.3h0M1417.9 1215.6h0M1418.9 1217.7h0M1419.8 1218.1h0M1420.8 1213.6h0M1421.7 1204.9h0M1422.7 1211.8h0M1423.7 1211.5h0M1424.6 1212.6h0M1425.6 1214.5h0M1426.5 1206.6h0M1427.5 1215.1h0M1428.5 1217.6h0M1429.4 1218.6h0M1430.4 1213.4h0M1431.3 1217.7h0M1432.3 1217.3h0M1433.3 1217.3h0M1434.2 1219h0M1435.2 1213.6h0M1436.1 1220.3h0M1437.1 1205.9h0M1438.1 1224.3h0M1439 1219.3h0M1440 1214h0M1441 1212.8h0M1441.9 1215.5h0M1442.9 1213.3h0M1443.8 1213.7h0M1444.8 1213.9h0M1445.8 1212.2h0M1446.7 1213.5h0M1447.7 1214.7h0M1448.6 1214.9h0M1449.6 1211.1h0M1450.6 1215.1h0M1451.5 1212.3h0M1452.5 1208.6h0M1453.4 1213h0M1454.4 1210h0M1455.4 1216h0M1456.3 1213.5h0M1457.3 1212.6h0M1458.2 1213.6h0M1459.2 1212.8h0M1460.2 1209.4h0M1461.1 1215.7h0M1462.1 1217h0M1463 1213.4h0M1464 1219.9h0M1465 1214.7h0M1465.9 1210.3h0M1466.9 1214.7h0M1467.9 1212.7h0M1468.8 1213.3h0M1469.8 1210.3h0M1470.7 1212.9h0M1471.7 1214h0M1472.7 1226.9h0M1473.6 1216.7h0M1474.6 1212.2h0M1475.5 1215.3h0M1476.5 1217.6h0M1477.5 1211.6h0M1478.4 1218.1h0M1479.4 1216.2h0M1480.3 1212.5h0M1481.3 1216.9h0M1482.3 1214.4h0M1483.2 1215.1h0M1484.2 1219.4h0M1485.1 1217h0M1486.1 1216.4h0M1487.1 1217.5h0M1488 1211.2h0M1489 1215.3h0M1489.9 1217.5h0M1490.9 1220.3h0M1491.9 1216.4h0M1492.8 1210.5h0M1493.8 1216.4h0M1494.7 1212.6h0M1495.7 1213.7h0M1496.7 1217.2h0M1497.6 1218.8h0" fill="none" stroke="#008000" stroke-width="4.6" stroke-linecap="round"/><path d="M922 1214.5L923 1214.5 923.9 1214.4 924.9 1214.4 925.8 1214.4 926.8 1214.4 927.8 1214.4 928.7 1214.4 929.7 1214.3 930.6 1214.3 931.6 1214.3 932.6 1214.3 933.5 1214.3 934.5 1214.2 935.4 1214.2 936.4 1214.2 937.4 1214.2 938.3 1214.2 939.3 1214.1 940.3 1214.1 941.2 1214.1 942.2 1214.1 943.1 1214 944.1 1214 945.1 1214 946 1214 947 1214 947.9 1213.9 948.9 1213.9 949.9 1213.9 950.8 1213.9 951.8 1213.8 952.7 1213.8 953.7 1213.8 954.7 1213.8 955.6 1213.7 956.6 1213.7 957.5 1213.7 958.5 1213.6 959.5 1213.6 960.4 1213.6 961.4 1213.6 962.3 1213.5 963.3 1213.5 964.3 1213.5 965.2 1213.5 966.2 1213.4 967.2 1213.4 968.1 1213.4 969.1 1213.3 970 1213.3 971 1213.3 972 1213.2 972.9 1213.2 973.9 1213.2 974.8 1213.1 975.8 1213.1 976.8 1213.1 977.7 1213 978.7 1213 979.6 1213 980.6 1212.9 981.6 1212.9 982.5 1212.9 983.5 1212.8 984.4 1212.8 985.4 1212.7 986.4 1212.7 987.3 1212.7 988.3 1212.6 989.2 1212.6 990.2 1212.5 991.2 1212.5 992.1 1212.4 993.1 1212.4 994 1212.4 995 1212.3 996 1212.3 996.9 1212.2 997.9 1212.2 998.9 1212.1 999.8 1212.1 1000.8 1212 1001.7 1212 1002.7 1211.9 1003.7 1211.9 1004.6 1211.8 1005.6 1211.8 1006.5 1211.7 1007.5 1211.7 1008.5 1211.6 1009.4 1211.6 1010.4 1211.5 1011.3 1211.4 1012.3 1211.4 1013.3 1211.3 1014.2 1211.3 1015.2 1211.2 1016.1 1211.1 1017.1 1211.1 1018.1 1211 1019 1210.9 1020 1210.9 1020.9 1210.8 1021.9 1210.7 1022.9 1210.7 1023.8 1210.6 1024.8 1210.5 1025.8 1210.5 1026.7 1210.4 1027.7 1210.3 1028.6 1210.2 1029.6 1210.1 1030.6 1210.1 1031.5 1210 1032.5 1209.9 1033.4 1209.8 1034.4 1209.7 1035.4 1209.6 1036.3 1209.5 1037.3 1209.5 1038.2 1209.4 1039.2 1209.3 1040.2 1209.2 1041.1 1209.1 1042.1 1209 1043 1208.9 1044 1208.8 1045 1208.7 1045.9 1208.5 1046.9 1208.4 1047.8 1208.3 1048.8 1208.2 1049.8 1208.1 1050.7 1208 1051.7 1207.8 1052.7 1207.7 1053.6 1207.6 1054.6 1207.5 1055.5 1207.3 1056.5 1207.2 1057.5 1207.1 1058.4 1206.9 1059.4 1206.8 1060.3 1206.6 1061.3 1206.5 1062.3 1206.3 1063.2 1206.2 1064.2 1206 1065.1 1205.8 1066.1 1205.7 1067.1 1205.5 1068 1205.3 1069 1205.1 1069.9 1205 1070.9 1204.8 1071.9 1204.6 1072.8 1204.4 1073.8 1204.2 1074.7 1204 1075.7 1203.8 1076.7 1203.6 1077.6 1203.3 1078.6 1203.1 1079.5 1202.9 1080.5 1202.6 1081.5 1202.4 1082.4 1202.1 1083.4 1201.9 1084.4 1201.6 1085.3 1201.3 1086.3 1201.1 1087.2 1200.8 1088.2 1200.5 1089.2 1200.2 1090.1 1199.9 1091.1 1199.6 1092 1199.2 1093 1198.9 1094 1198.6 1094.9 1198.2 1095.9 1197.8 1096.8 1197.5 1097.8 1197.1 1098.8 1196.7 1099.7 1196.3 1100.7 1195.9 1101.6 1195.4 1102.6 1195 1103.6 1194.5 1104.5 1194.1 1105.5 1193.6 1106.4 1193.1 1107.4 1192.5 1108.4 1192 1109.3 1191.5 1110.3 1190.9 1111.3 1190.3 1112.2 1189.7 1113.2 1189.1 1114.1 1188.4 1115.1 1187.7 1116.1 1187 1117 1186.3 1118 1185.6 1118.9 1184.8 1119.9 1184 1120.9 1183.2 1121.8 1182.3 1122.8 1181.5 1123.7 1180.5 1124.7 1179.6 1125.7 1178.6 1126.6 1177.6 1127.6 1176.5 1128.5 1175.4 1129.5 1174.3 1130.5 1173.1 1131.4 1171.8 1132.4 1170.5 1133.3 1169.2 1134.3 1167.8 1135.3 1166.3 1136.2 1164.8 1137.2 1163.3 1138.2 1161.6 1139.1 1159.9 1140.1 1158.1 1141 1156.3 1142 1154.4 1143 1152.3 1143.9 1150.2 1144.9 1148.1 1145.8 1145.8 1146.8 1143.4 1147.8 1140.9 1148.7 1138.3 1149.7 1135.6 1150.6 1132.8 1151.6 1129.9 1152.6 1126.8 1153.5 1123.6 1154.5 1120.3 1155.4 1116.9 1156.4 1113.3 1157.4 1109.5 1158.3 1105.7 1159.3 1101.6 1160.2 1097.5 1161.2 1093.2 1162.2 1088.7 1163.1 1084.1 1164.1 1079.3 1165 1074.5 1166 1069.5 1167 1064.4 1167.9 1059.1 1168.9 1053.8 1169.9 1048.4 1170.8 1043 1171.8 1037.5 1172.7 1032 1173.7 1026.6 1174.7 1021.1 1175.6 1015.8 1176.6 1010.5 1177.5 1005.4 1178.5 1000.4 1179.5 995.6 1180.4 991.1 1181.4 986.8 1182.3 982.8 1183.3 979.1 1184.3 975.8 1185.2 972.8 1186.2 970.2 1187.1 968.1 1188.1 966.3 1189.1 965.1 1190 964.4 1191 964.1 1191.9 964.4 1192.9 965.2 1193.9 966.6 1194.8 968.5 1195.8 970.9 1196.8 973.8 1197.7 977.2 1198.7 981.1 1199.6 985.3 1200.6 990 1201.6 995 1202.5 1000.3 1203.5 1005.8 1204.4 1011.6 1205.4 1017.4 1206.4 1023.4 1207.3 1029.4 1208.3 1035.4 1209.2 1041.4 1210.2 1047.4 1211.2 1053.3 1212.1 1059 1213.1 1064.7 1214 1070.2 1215 1075.5 1216 1080.7 1216.9 1085.7 1217.9 1090.5 1218.8 1095.2 1219.8 1099.7 1220.8 1104 1221.7 1108.1 1222.7 1112.1 1223.6 1115.9 1224.6 1119.5 1225.6 1123 1226.5 1126.3 1227.5 1129.5 1228.5 1132.6 1229.4 1135.5 1230.4 1138.3 1231.3 1141 1232.3 1143.5 1233.3 1145.9 1234.2 1148.3 1235.2 1150.5 1236.1 1152.7 1237.1 1154.7 1238.1 1156.7 1239 1158.5 1240 1160.3 1240.9 1162.1 1241.9 1163.7 1242.9 1165.3 1243.8 1166.8 1244.8 1168.3 1245.7 1169.7 1246.7 1171 1247.7 1172.3 1248.6 1173.5 1249.6 1174.7 1250.5 1175.9 1251.5 1177 1252.5 1178 1253.4 1179 1254.4 1180 1255.4 1181 1256.3 1181.9 1257.3 1182.8 1258.2 1183.6 1259.2 1184.4 1260.2 1185.2 1261.1 1186 1262.1 1186.7 1263 1187.4 1264 1188.1 1265 1188.8 1265.9 1189.4 1266.9 1190 1267.8 1190.6 1268.8 1191.2 1269.8 1191.8 1270.7 1192.3 1271.7 1192.9 1272.6 1193.4 1273.6 1193.9 1274.6 1194.4 1275.5 1194.8 1276.5 1195.3 1277.4 1195.7 1278.4 1196.1 1279.4 1196.6 1280.3 1197 1281.3 1197.3 1282.2 1197.7 1283.2 1198.1 1284.2 1198.5 1285.1 1198.8 1286.1 1199.1 1287.1 1199.5 1288 1199.8 1289 1200.1 1289.9 1200.4 1290.9 1200.7 1291.9 1201 1292.8 1201.3 1293.8 1201.5 1294.7 1201.8 1295.7 1202.1 1296.7 1202.3 1297.6 1202.6 1298.6 1202.8 1299.5 1203 1300.5 1203.3 1301.5 1203.5 1302.4 1203.7 1303.4 1203.9 1304.3 1204.1 1305.3 1204.3 1306.3 1204.5 1307.2 1204.7 1308.2 1204.9 1309.1 1205.1 1310.1 1205.3 1311.1 1205.5 1312 1205.6 1313 1205.8 1314 1206 1314.9 1206.1 1315.9 1206.3 1316.8 1206.4 1317.8 1206.6 1318.8 1206.7 1319.7 1206.9 1320.7 1207 1321.6 1207.2 1322.6 1207.3 1323.6 1207.4 1324.5 1207.6 1325.5 1207.7 1326.4 1207.8 1327.4 1207.9 1328.4 1208.1 1329.3 1208.2 1330.3 1208.3 1331.2 1208.4 1332.2 1208.5 1333.2 1208.6 1334.1 1208.7 1335.1 1208.8 1336 1208.9 1337 1209 1338 1209.1 1338.9 1209.2 1339.9 1209.3 1340.9 1209.4 1341.8 1209.5 1342.8 1209.6 1343.7 1209.7 1344.7 1209.8 1345.7 1209.9 1346.6 1210 1347.6 1210 1348.5 1210.1 1349.5 1210.2 1350.5 1210.3 1351.4 1210.4 1352.4 1210.4 1353.3 1210.5 1354.3 1210.6 1355.3 1210.7 1356.2 1210.7 1357.2 1210.8 1358.1 1210.9 1359.1 1210.9 1360.1 1211 1361 1211.1 1362 1211.1 1362.9 1211.2 1363.9 1211.3 1364.9 1211.3 1365.8 1211.4 1366.8 1211.4 1367.7 1211.5 1368.7 1211.5 1369.7 1211.6 1370.6 1211.7 1371.6 1211.7 1372.6 1211.8 1373.5 1211.8 1374.5 1211.9 1375.4 1211.9 1376.4 1212 1377.4 1212 1378.3 1212.1 1379.3 1212.1 1380.2 1212.2 1381.2 1212.2 1382.2 1212.3 1383.1 1212.3 1384.1 1212.4 1385 1212.4 1386 1212.4 1387 1212.5 1387.9 1212.5 1388.9 1212.6 1389.8 1212.6 1390.8 1212.7 1391.8 1212.7 1392.7 1212.7 1393.7 1212.8 1394.6 1212.8 1395.6 1212.8 1396.6 1212.9 1397.5 1212.9 1398.5 1213 1399.5 1213 1400.4 1213 1401.4 1213.1 1402.3 1213.1 1403.3 1213.1 1404.3 1213.2 1405.2 1213.2 1406.2 1213.2 1407.1 1213.3 1408.1 1213.3 1409.1 1213.3 1410 1213.4 1411 1213.4 1411.9 1213.4 1412.9 1213.4 1413.9 1213.5 1414.8 1213.5 1415.8 1213.5 1416.7 1213.6 1417.7 1213.6 1418.7 1213.6 1419.6 1213.6 1420.6 1213.7 1421.5 1213.7 1422.5 1213.7 1423.5 1213.8 1424.4 1213.8 1425.4 1213.8 1426.3 1213.8 1427.3 1213.9 1428.3 1213.9 1429.2 1213.9 1430.2 1213.9 1431.2 1213.9 1432.1 1214 1433.1 1214 1434 1214 1435 1214 1436 1214.1 1436.9 1214.1 1437.9 1214.1 1438.8 1214.1 1439.8 1214.2 1440.8 1214.2 1441.7 1214.2 1442.7 1214.2 1443.6 1214.2 1444.6 1214.3 1445.6 1214.3 1446.5 1214.3 1447.5 1214.3 1448.4 1214.3 1449.4 1214.4 1450.4 1214.4 1451.3 1214.4 1452.3 1214.4 1453.2 1214.4 1454.2 1214.4 1455.2 1214.5 1456.1 1214.5 1457.1 1214.5 1458.1 1214.5 1459 1214.5 1460 1214.5 1460.9 1214.6 1461.9 1214.6 1462.9 1214.6 1463.8 1214.6 1464.8 1214.6 1465.7 1214.6 1466.7 1214.7 1467.7 1214.7 1468.6 1214.7 1469.6 1214.7 1470.5 1214.7 1471.5 1214.7 1472.5 1214.8 1473.4 1214.8 1474.4 1214.8 1475.3 1214.8 1476.3 1214.8 1477.3 1214.8 1478.2 1214.8 1479.2 1214.9 1480.1 1214.9 1481.1 1214.9 1482.1 1214.9 1483 1214.9 1484 1214.9 1485 1214.9 1485.9 1214.9 1486.9 1215 1487.8 1215 1488.8 1215 1489.8 1215 1490.7 1215 1491.7 1215 1492.6 1215 1493.6 1215 1494.6 1215.1 1495.5 1215.1 1496.5 1215.1 1497.4 1215.1 1498.4 1215.1" fill="none" stroke="#008000" stroke-width="3.9" stroke-linejoin="round"/></g>
<circle cx="482.6" cy="164.9" r="2.4" fill="#0063cc"/>
<circle cx="1283.1" cy="161.8" r="2.4" fill="#000000"/>
<circle cx="1283.1" cy="198.3" r="2.4" fill="#0063cc"/>
<circle cx="460" cy="827.8" r="2.4" fill="#000000"/>
<circle cx="460" cy="864.5" r="2.4" fill="#00aaaa"/>
<circle cx="1247.4" cy="826.9" r="2.4" fill="#000000"/>
<circle cx="1247.4" cy="863.2" r="2.4" fill="#008000"/>
<path d="M198.9 560.3V566.5M198.9 105V98.8M314.1 560.3V566.5M314.1 105V98.8M429.4 560.3V566.5M429.4 105V98.8M544.7 560.3V566.5M544.7 105V98.8M660 560.3V566.5M660 105V98.8M141.2 560.3V563.5M141.2 105V101.8M256.5 560.3V563.5M256.5 105V101.8M371.8 560.3V563.5M371.8 105V101.8M487.1 560.3V563.5M487.1 105V101.8M602.3 560.3V563.5M602.3 105V101.8M122 560.3H115.8M122 522.4H118.8M122 484.4H115.8M122 446.5H118.8M122 408.5H115.8M122 370.6H118.8M122 332.6H115.8M122 294.7H118.8M122 256.8H115.8M122 218.8H118.8M122 180.9H115.8M122 142.9H118.8M122 105H115.8" stroke="#1e1e1e" stroke-width="1.5" fill="none"/>
<path d="M122 560.3H698.4V105" stroke="#000" stroke-width="1.5" fill="none"/>
<path d="M122 560.3V105H698.4" stroke="#1e1e1e" stroke-width="1.5" fill="none"/>
<text transform="translate(198.9 88) scale(1 1.025)" text-anchor="middle" font-size="28.5">2.07</text>
<text transform="translate(198.9 591.5) scale(1 1.025)" text-anchor="middle" font-size="27">600</text>
<text transform="translate(314.1 88) scale(1 1.025)" text-anchor="middle" font-size="28.5">1.97</text>
<text transform="translate(314.1 591.5) scale(1 1.025)" text-anchor="middle" font-size="27">630</text>
<text transform="translate(429.4 88) scale(1 1.025)" text-anchor="middle" font-size="28.5">1.88</text>
<text transform="translate(429.4 591.5) scale(1 1.025)" text-anchor="middle" font-size="27">660</text>
<text transform="translate(544.7 88) scale(1 1.025)" text-anchor="middle" font-size="28.5">1.80</text>
<text transform="translate(544.7 591.5) scale(1 1.025)" text-anchor="middle" font-size="27">690</text>
<text transform="translate(660 88) scale(1 1.025)" text-anchor="middle" font-size="28.5">1.72</text>
<text transform="translate(660 591.5) scale(1 1.025)" text-anchor="middle" font-size="27">720</text>
<text transform="translate(112.1 568.9) scale(1 1.025)" text-anchor="end" font-size="28.5">0</text>
<text transform="translate(112.1 493) scale(1 1.025)" text-anchor="end" font-size="28.5">40</text>
<text transform="translate(112.1 417.1) scale(1 1.025)" text-anchor="end" font-size="28.5">80</text>
<text transform="translate(112.1 341.2) scale(1 1.025)" text-anchor="end" font-size="28.5">120</text>
<text transform="translate(112.1 265.4) scale(1 1.025)" text-anchor="end" font-size="28.5">160</text>
<text transform="translate(112.1 189.5) scale(1 1.025)" text-anchor="end" font-size="28.5">200</text>
<text transform="translate(112.1 113.6) scale(1 1.025)" text-anchor="end" font-size="28.5">240</text>
<rect x="140.4" y="116" width="80.4" height="46.7" fill="#b4b4b4"/>
<text transform="translate(144 146.3) scale(1 1.025)" font-size="30">MoS</text>
<text transform="translate(205.3 154) scale(1 1.025)" font-size="19.5">2</text>
<path d="M998.9 560.3V566.5M998.9 105V98.8M1114.1 560.3V566.5M1114.1 105V98.8M1229.4 560.3V566.5M1229.4 105V98.8M1344.7 560.3V566.5M1344.7 105V98.8M1460 560.3V566.5M1460 105V98.8M941.2 560.3V563.5M941.2 105V101.8M1056.5 560.3V563.5M1056.5 105V101.8M1171.8 560.3V563.5M1171.8 105V101.8M1287.1 560.3V563.5M1287.1 105V101.8M1402.3 560.3V563.5M1402.3 105V101.8M922 560.3H915.8M922 522.4H918.8M922 484.4H915.8M922 446.5H918.8M922 408.5H915.8M922 370.6H918.8M922 332.6H915.8M922 294.7H918.8M922 256.8H915.8M922 218.8H918.8M922 180.9H915.8M922 142.9H918.8M922 105H915.8" stroke="#1e1e1e" stroke-width="1.5" fill="none"/>
<path d="M922 560.3H1498.4V105" stroke="#000" stroke-width="1.5" fill="none"/>
<path d="M922 560.3V105H1498.4" stroke="#1e1e1e" stroke-width="1.5" fill="none"/>
<text transform="translate(998.9 88) scale(1 1.025)" text-anchor="middle" font-size="28.5">2.18</text>
<text transform="translate(998.9 591.5) scale(1 1.025)" text-anchor="middle" font-size="27">570</text>
<text transform="translate(1114.1 88) scale(1 1.025)" text-anchor="middle" font-size="28.5">2.07</text>
<text transform="translate(1114.1 591.5) scale(1 1.025)" text-anchor="middle" font-size="27">600</text>
<text transform="translate(1229.4 88) scale(1 1.025)" text-anchor="middle" font-size="28.5">1.97</text>
<text transform="translate(1229.4 591.5) scale(1 1.025)" text-anchor="middle" font-size="27">630</text>
<text transform="translate(1344.7 88) scale(1 1.025)" text-anchor="middle" font-size="28.5">1.88</text>
<text transform="translate(1344.7 591.5) scale(1 1.025)" text-anchor="middle" font-size="27">660</text>
<text transform="translate(1460 88) scale(1 1.025)" text-anchor="middle" font-size="28.5">1.80</text>
<text transform="translate(1460 591.5) scale(1 1.025)" text-anchor="middle" font-size="27">690</text>
<text transform="translate(912.1 568.9) scale(1 1.025)" text-anchor="end" font-size="28.5">0</text>
<text transform="translate(912.1 493) scale(1 1.025)" text-anchor="end" font-size="28.5">40</text>
<text transform="translate(912.1 417.1) scale(1 1.025)" text-anchor="end" font-size="28.5">80</text>
<text transform="translate(912.1 341.2) scale(1 1.025)" text-anchor="end" font-size="28.5">120</text>
<text transform="translate(912.1 265.4) scale(1 1.025)" text-anchor="end" font-size="28.5">160</text>
<text transform="translate(912.1 189.5) scale(1 1.025)" text-anchor="end" font-size="28.5">200</text>
<text transform="translate(912.1 113.6) scale(1 1.025)" text-anchor="end" font-size="28.5">240</text>
<rect x="940.4" y="116" width="67.3" height="46.7" fill="#b4b4b4"/>
<text transform="translate(945 146.3) scale(1 1.025)" font-size="30">WS</text>
<text transform="translate(992.6 154) scale(1 1.025)" font-size="19.5">2</text>
<path d="M198.9 1225.3V1231.5M198.9 770V763.8M314.1 1225.3V1231.5M314.1 770V763.8M429.4 1225.3V1231.5M429.4 770V763.8M544.7 1225.3V1231.5M544.7 770V763.8M660 1225.3V1231.5M660 770V763.8M141.2 1225.3V1228.5M141.2 770V766.8M256.5 1225.3V1228.5M256.5 770V766.8M371.8 1225.3V1228.5M371.8 770V766.8M487.1 1225.3V1228.5M487.1 770V766.8M602.3 1225.3V1228.5M602.3 770V766.8M122 1225.3H115.8M122 1187.4H118.8M122 1149.4H115.8M122 1111.5H118.8M122 1073.5H115.8M122 1035.6H118.8M122 997.6H115.8M122 959.7H118.8M122 921.8H115.8M122 883.8H118.8M122 845.9H115.8M122 807.9H118.8M122 770H115.8" stroke="#1e1e1e" stroke-width="1.5" fill="none"/>
<path d="M122 1225.3H698.4V770" stroke="#000" stroke-width="1.5" fill="none"/>
<path d="M122 1225.3V770H698.4" stroke="#1e1e1e" stroke-width="1.5" fill="none"/>
<text transform="translate(198.9 753) scale(1 1.025)" text-anchor="middle" font-size="28.5">2.18</text>
<text transform="translate(198.9 1256.5) scale(1 1.025)" text-anchor="middle" font-size="27">570</text>
<text transform="translate(314.1 753) scale(1 1.025)" text-anchor="middle" font-size="28.5">2.07</text>
<text transform="translate(314.1 1256.5) scale(1 1.025)" text-anchor="middle" font-size="27">600</text>
<text transform="translate(429.4 753) scale(1 1.025)" text-anchor="middle" font-size="28.5">1.97</text>
<text transform="translate(429.4 1256.5) scale(1 1.025)" text-anchor="middle" font-size="27">630</text>
<text transform="translate(544.7 753) scale(1 1.025)" text-anchor="middle" font-size="28.5">1.88</text>
<text transform="translate(544.7 1256.5) scale(1 1.025)" text-anchor="middle" font-size="27">660</text>
<text transform="translate(660 753) scale(1 1.025)" text-anchor="middle" font-size="28.5">1.80</text>
<text transform="translate(660 1256.5) scale(1 1.025)" text-anchor="middle" font-size="27">690</text>
<text transform="translate(112.1 1233.9) scale(1 1.025)" text-anchor="end" font-size="28.5">0</text>
<text transform="translate(112.1 1158) scale(1 1.025)" text-anchor="end" font-size="28.5">40</text>
<text transform="translate(112.1 1082.1) scale(1 1.025)" text-anchor="end" font-size="28.5">80</text>
<text transform="translate(112.1 1006.2) scale(1 1.025)" text-anchor="end" font-size="28.5">120</text>
<text transform="translate(112.1 930.4) scale(1 1.025)" text-anchor="end" font-size="28.5">160</text>
<text transform="translate(112.1 854.5) scale(1 1.025)" text-anchor="end" font-size="28.5">200</text>
<text transform="translate(112.1 778.6) scale(1 1.025)" text-anchor="end" font-size="28.5">240</text>
<rect x="140.4" y="781" width="67.3" height="46.7" fill="#b4b4b4"/>
<text transform="translate(145 811.3) scale(1 1.025)" font-size="30">WS</text>
<text transform="translate(192.6 819) scale(1 1.025)" font-size="19.5">2</text>
<path d="M998.9 1225.3V1231.5M998.9 770V763.8M1114.1 1225.3V1231.5M1114.1 770V763.8M1229.4 1225.3V1231.5M1229.4 770V763.8M1344.7 1225.3V1231.5M1344.7 770V763.8M1460 1225.3V1231.5M1460 770V763.8M941.2 1225.3V1228.5M941.2 770V766.8M1056.5 1225.3V1228.5M1056.5 770V766.8M1171.8 1225.3V1228.5M1171.8 770V766.8M1287.1 1225.3V1228.5M1287.1 770V766.8M1402.3 1225.3V1228.5M1402.3 770V766.8M922 1225.3H915.8M922 1187.4H918.8M922 1149.4H915.8M922 1111.5H918.8M922 1073.5H915.8M922 1035.6H918.8M922 997.6H915.8M922 959.7H918.8M922 921.8H915.8M922 883.8H918.8M922 845.9H915.8M922 807.9H918.8M922 770H915.8" stroke="#1e1e1e" stroke-width="1.5" fill="none"/>
<path d="M922 1225.3H1498.4V770" stroke="#000" stroke-width="1.5" fill="none"/>
<path d="M922 1225.3V770H1498.4" stroke="#1e1e1e" stroke-width="1.5" fill="none"/>
<text transform="translate(998.9 753) scale(1 1.025)" text-anchor="middle" font-size="28.5">2.18</text>
<text transform="translate(998.9 1256.5) scale(1 1.025)" text-anchor="middle" font-size="27">570</text>
<text transform="translate(1114.1 753) scale(1 1.025)" text-anchor="middle" font-size="28.5">2.07</text>
<text transform="translate(1114.1 1256.5) scale(1 1.025)" text-anchor="middle" font-size="27">600</text>
<text transform="translate(1229.4 753) scale(1 1.025)" text-anchor="middle" font-size="28.5">1.97</text>
<text transform="translate(1229.4 1256.5) scale(1 1.025)" text-anchor="middle" font-size="27">630</text>
<text transform="translate(1344.7 753) scale(1 1.025)" text-anchor="middle" font-size="28.5">1.88</text>
<text transform="translate(1344.7 1256.5) scale(1 1.025)" text-anchor="middle" font-size="27">660</text>
<text transform="translate(1460 753) scale(1 1.025)" text-anchor="middle" font-size="28.5">1.80</text>
<text transform="translate(1460 1256.5) scale(1 1.025)" text-anchor="middle" font-size="27">690</text>
<text transform="translate(912.1 1233.9) scale(1 1.025)" text-anchor="end" font-size="28.5">0</text>
<text transform="translate(912.1 1158) scale(1 1.025)" text-anchor="end" font-size="28.5">40</text>
<text transform="translate(912.1 1082.1) scale(1 1.025)" text-anchor="end" font-size="28.5">80</text>
<text transform="translate(912.1 1006.2) scale(1 1.025)" text-anchor="end" font-size="28.5">120</text>
<text transform="translate(912.1 930.4) scale(1 1.025)" text-anchor="end" font-size="28.5">160</text>
<text transform="translate(912.1 854.5) scale(1 1.025)" text-anchor="end" font-size="28.5">200</text>
<text transform="translate(912.1 778.6) scale(1 1.025)" text-anchor="end" font-size="28.5">240</text>
<rect x="940.4" y="781" width="67.3" height="46.7" fill="#b4b4b4"/>
<text transform="translate(945 811.3) scale(1 1.025)" font-size="30">WS</text>
<text transform="translate(992.6 819) scale(1 1.025)" font-size="19.5">2</text>
<text transform="translate(-1.3 32.4) scale(1 1.025)" font-size="44.5" fill="#000" font-weight="bold">a</text>
<text transform="translate(800.9 32.4) scale(1 1.025)" font-size="44.5" fill="#000" font-weight="bold">b</text>
<text transform="translate(-1.7 724.6) scale(1 1.025)" font-size="44.5" fill="#000" font-weight="bold">c</text>
<text transform="translate(808.2 724.2) scale(1 1.025)" font-size="44.5" fill="#000" font-weight="bold">d</text>
<text transform="translate(271 45.8) scale(1 1.025)" font-size="48" fill="#000">Energy (eV)</text>
<text transform="translate(1103.1 46) scale(1 1.025)" font-size="48" fill="#000">Energy (eV)</text>
<text transform="translate(268.2 710.8) scale(1 1.025)" font-size="48" fill="#000">Energy (eV)</text>
<text transform="translate(1121 711.4) scale(1 1.025)" font-size="48" fill="#000">Energy (eV)</text>
<text transform="translate(227 643.8) scale(1 1.025)" font-size="47.8" fill="#000">Wavelength (nm)</text>
<text transform="translate(1017.9 644.4) scale(1 1.025)" font-size="47.8" fill="#000">Wavelength (nm)</text>
<text transform="translate(227 1313.6) scale(1 1.025)" font-size="47.8" fill="#000">Wavelength (nm)</text>
<text transform="translate(1017.9 1312) scale(1 1.025)" font-size="47.8" fill="#000">Wavelength (nm)</text>
<text transform="translate(523 175.3) scale(1 1.025)" font-size="30" fill="#000">Li-Tf treated</text>
<text transform="translate(1323.8 171.7) scale(1 1.025)" font-size="30" fill="#000">Pristine</text>
<text transform="translate(1323.8 208) scale(1 1.025)" font-size="30" fill="#000">Li-Tf treated</text>
<text transform="translate(500.9 838.2) scale(1 1.025)" font-size="30" fill="#000">Pristine</text>
<text transform="translate(500.9 874.6) scale(1 1.025)" font-size="30" fill="#000">Na-Tf treated</text>
<text transform="translate(1288.2 837.3) scale(1 1.025)" font-size="30" fill="#000">Pristine</text>
<text transform="translate(1288.2 873.6) scale(1 1.025)" font-size="30" fill="#000">Li-OAc treated</text>
<text transform="translate(288.7 313) scale(1 1.025)" font-size="29.5" fill="#0063cc">659 nm</text>
<text transform="translate(489.7 418) scale(1 1.025)" font-size="29.5" fill="#0063cc">664 nm</text>
<text transform="translate(1072.4 322.6) scale(1 1.025)" font-size="29.5" fill="#0063cc">620 nm</text>
<text transform="translate(1030.2 515.1) scale(1 1.025)" font-size="29.5" fill="#7f7f7f">620 nm</text>
<text transform="translate(1252.3 473.9) scale(1 1.025)" font-size="29.5" fill="#7f7f7f">627 nm</text>
<text transform="translate(275.2 1069.2) scale(1 1.025)" font-size="29.5" fill="#7f7f7f">622 nm</text>
<text transform="translate(249.3 1148.1) scale(1 1.025)" font-size="29.5" fill="#00ffff">620 nm</text>
<text transform="translate(452.3 1108.6) scale(1 1.025)" font-size="29.5" fill="#7f7f7f">628 nm</text>
<text transform="translate(512 1177.9) scale(1 1.025)" font-size="29.5" fill="#00ffff">626 nm</text>
<text transform="translate(1071 961.4) scale(1 1.025)" font-size="29.5" fill="#008000">619 nm</text>
<text transform="translate(1044.8 1119.6) scale(1 1.025)" font-size="29.5" fill="#7f7f7f">620 nm</text>
<text transform="translate(1262 1159.7) scale(1 1.025)" font-size="29.5" fill="#7f7f7f">626 nm</text>
<text transform="translate(40.8 331.1) rotate(-90) scale(1 1.025)" text-anchor="middle" font-size="47.7">Counts</text>
<text transform="translate(835.6 331.2) rotate(-90) scale(1 1.025)" text-anchor="middle" font-size="47.7">Counts</text>
<text transform="translate(40.8 997.5) rotate(-90) scale(1 1.025)" text-anchor="middle" font-size="47.7">Counts</text>
<text transform="translate(835.6 997.5) rotate(-90) scale(1 1.025)" text-anchor="middle" font-size="47.7">Counts</text>
</svg>
</body></html>
